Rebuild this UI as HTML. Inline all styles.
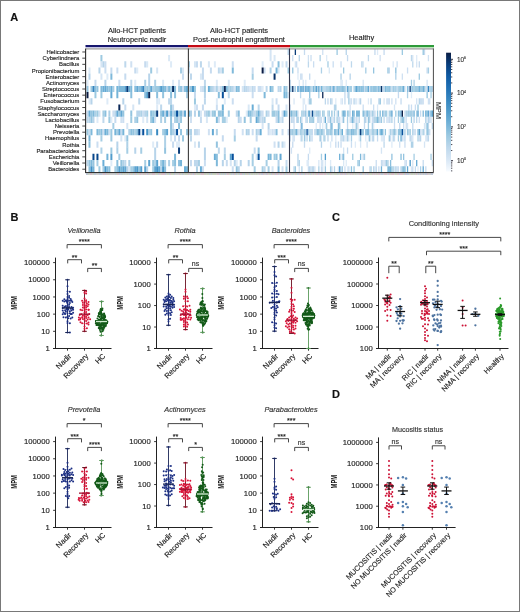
<!DOCTYPE html>
<html><head><meta charset="utf-8"><title>Figure</title>
<style>
html,body{margin:0;padding:0;background:#fff;}
body{width:520px;height:612px;overflow:hidden;}
svg{display:block;font-family:"Liberation Sans", sans-serif;will-change:transform;}
</style></head><body>
<svg width="520" height="612" viewBox="0 0 520 612">
<rect x="0" y="0" width="520" height="612" fill="#fff"/>
<text x="10.30" y="20.60" font-size="11" text-anchor="start" fill="#111" stroke="#111" stroke-width="0.15" font-weight="bold" font-style="normal" >A</text>
<text x="137.00" y="32.60" font-size="7.45" text-anchor="middle" fill="#1f1f1f" stroke="#1f1f1f" stroke-width="0.15" font-weight="normal" font-style="normal" >Allo-HCT patients</text>
<text x="137.00" y="41.60" font-size="7.45" text-anchor="middle" fill="#1f1f1f" stroke="#1f1f1f" stroke-width="0.15" font-weight="normal" font-style="normal" >Neutropenic nadir</text>
<text x="239.00" y="32.60" font-size="7.45" text-anchor="middle" fill="#1f1f1f" stroke="#1f1f1f" stroke-width="0.15" font-weight="normal" font-style="normal" >Allo-HCT patients</text>
<text x="239.00" y="41.60" font-size="7.45" text-anchor="middle" fill="#1f1f1f" stroke="#1f1f1f" stroke-width="0.15" font-weight="normal" font-style="normal" >Post-neutrophil engraftment</text>
<text x="361.60" y="39.60" font-size="7.45" text-anchor="middle" fill="#1f1f1f" stroke="#1f1f1f" stroke-width="0.15" font-weight="normal" font-style="normal" >Healthy</text>
<rect x="85.50" y="45.00" width="102.50" height="2.00" fill="#16166e"/>
<rect x="188.00" y="45.00" width="102.00" height="2.00" fill="#c40a14"/>
<rect x="290.00" y="45.00" width="144.00" height="2.00" fill="#2e9a3a"/>
<rect x="85.50" y="47.00" width="102.50" height="0.80" fill="#b8b8e0"/>
<rect x="188.00" y="47.00" width="102.00" height="0.80" fill="#f4a0a0"/>
<rect x="290.00" y="47.00" width="144.00" height="0.80" fill="#a8e0a8"/>
<path fill="#deebf7" d="M86.50 79.75h1.99v6.19h-1.99zM88.49 98.26h1.99v6.19h-1.99zM96.45 116.77h1.99v6.19h-1.99zM106.40 73.58h1.99v6.19h-1.99zM106.40 98.26h1.99v6.19h-1.99zM110.38 116.77h1.99v6.19h-1.99zM110.38 159.96h1.99v6.19h-1.99zM124.31 135.28h1.99v6.19h-1.99zM134.26 79.75h1.99v6.19h-1.99zM136.25 67.41h1.99v6.19h-1.99zM140.24 129.11h1.99v6.19h-1.99zM142.23 116.77h1.99v6.19h-1.99zM152.18 141.45h1.99v6.19h-1.99zM156.16 104.43h1.99v6.19h-1.99zM158.15 98.26h1.99v6.19h-1.99zM170.09 61.24h1.99v6.19h-1.99zM172.08 79.75h1.99v6.19h-1.99zM176.06 141.45h1.99v6.19h-1.99zM178.05 141.45h1.99v6.19h-1.99zM193.97 104.43h1.99v6.19h-1.99zM213.87 61.24h1.99v6.19h-1.99zM215.86 79.75h1.99v6.19h-1.99zM215.86 98.26h1.99v6.19h-1.99zM223.82 98.26h1.99v6.19h-1.99zM225.81 116.77h1.99v6.19h-1.99zM235.76 159.96h1.99v6.19h-1.99zM243.73 79.75h1.99v6.19h-1.99zM245.72 110.60h1.99v6.19h-1.99zM261.64 61.24h1.99v6.19h-1.99zM261.64 85.92h1.99v6.19h-1.99zM269.60 129.11h1.99v6.19h-1.99zM281.54 61.24h1.99v6.19h-1.99zM283.53 141.45h1.99v6.19h-1.99zM292.11 135.28h1.30v6.19h-1.30zM297.33 73.58h1.30v6.19h-1.30zM298.63 79.75h1.30v6.19h-1.30zM299.94 135.28h1.30v6.19h-1.30zM302.55 98.26h1.30v6.19h-1.30zM302.55 104.43h1.30v6.19h-1.30zM303.85 98.26h1.30v6.19h-1.30zM305.15 79.75h1.30v6.19h-1.30zM305.15 135.28h1.30v6.19h-1.30zM306.46 159.96h1.30v6.19h-1.30zM307.76 98.26h1.30v6.19h-1.30zM307.76 159.96h1.30v6.19h-1.30zM309.07 147.62h1.30v6.19h-1.30zM314.29 79.75h1.30v6.19h-1.30zM315.59 122.94h1.30v6.19h-1.30zM322.11 122.94h1.30v6.19h-1.30zM324.72 122.94h1.30v6.19h-1.30zM326.03 55.07h1.30v6.19h-1.30zM329.94 141.45h1.30v6.19h-1.30zM329.94 159.96h1.30v6.19h-1.30zM335.16 98.26h1.30v6.19h-1.30zM335.16 135.28h1.30v6.19h-1.30zM340.38 98.26h1.30v6.19h-1.30zM341.68 79.75h1.30v6.19h-1.30zM345.60 79.75h1.30v6.19h-1.30zM345.60 85.92h1.30v6.19h-1.30zM345.60 135.28h1.30v6.19h-1.30zM345.60 159.96h1.30v6.19h-1.30zM346.90 166.13h1.30v6.19h-1.30zM352.12 122.94h1.30v6.19h-1.30zM354.73 98.26h1.30v6.19h-1.30zM354.73 116.77h1.30v6.19h-1.30zM354.73 141.45h1.30v6.19h-1.30zM356.03 98.26h1.30v6.19h-1.30zM358.64 135.28h1.30v6.19h-1.30zM365.16 135.28h1.30v6.19h-1.30zM367.77 98.26h1.30v6.19h-1.30zM372.99 122.94h1.30v6.19h-1.30zM376.90 48.90h1.30v6.19h-1.30zM376.90 104.43h1.30v6.19h-1.30zM380.82 135.28h1.30v6.19h-1.30zM382.12 135.28h1.30v6.19h-1.30zM388.65 129.11h1.30v6.19h-1.30zM391.25 141.45h1.30v6.19h-1.30zM392.56 61.24h1.30v6.19h-1.30zM403.00 135.28h1.30v6.19h-1.30zM404.30 116.77h1.30v6.19h-1.30zM410.82 92.09h1.30v6.19h-1.30zM416.04 55.07h1.30v6.19h-1.30zM417.35 166.13h1.30v6.19h-1.30zM425.17 122.94h1.30v6.19h-1.30zM426.48 116.77h1.30v6.19h-1.30z"/>
<path fill="#d9e8f5" d="M88.49 67.41h1.99v6.19h-1.99zM128.29 166.13h1.99v6.19h-1.99zM146.21 61.24h1.99v6.19h-1.99zM156.16 98.26h1.99v6.19h-1.99zM162.13 79.75h1.99v6.19h-1.99zM168.10 55.07h1.99v6.19h-1.99zM170.09 135.28h1.99v6.19h-1.99zM182.03 67.41h1.99v6.19h-1.99zM193.97 141.45h1.99v6.19h-1.99zM199.94 73.58h1.99v6.19h-1.99zM205.91 116.77h1.99v6.19h-1.99zM207.90 61.24h1.99v6.19h-1.99zM209.89 110.60h1.99v6.19h-1.99zM217.85 85.92h1.99v6.19h-1.99zM227.80 79.75h1.99v6.19h-1.99zM247.71 104.43h1.99v6.19h-1.99zM249.70 85.92h1.99v6.19h-1.99zM255.67 153.79h1.99v6.19h-1.99zM271.59 98.26h1.99v6.19h-1.99zM273.58 55.07h1.99v6.19h-1.99zM277.56 67.41h1.99v6.19h-1.99zM279.55 116.77h1.99v6.19h-1.99zM287.51 92.09h1.99v6.19h-1.99zM293.41 98.26h1.30v6.19h-1.30zM298.63 129.11h1.30v6.19h-1.30zM314.29 166.13h1.30v6.19h-1.30zM318.20 159.96h1.30v6.19h-1.30zM328.64 67.41h1.30v6.19h-1.30zM331.25 116.77h1.30v6.19h-1.30zM342.99 159.96h1.30v6.19h-1.30zM344.29 135.28h1.30v6.19h-1.30zM357.34 116.77h1.30v6.19h-1.30zM359.95 141.45h1.30v6.19h-1.30zM367.77 135.28h1.30v6.19h-1.30zM383.43 98.26h1.30v6.19h-1.30zM386.04 98.26h1.30v6.19h-1.30zM386.04 116.77h1.30v6.19h-1.30zM389.95 116.77h1.30v6.19h-1.30zM393.86 166.13h1.30v6.19h-1.30zM425.17 135.28h1.30v6.19h-1.30z"/>
<path fill="#d5e5f4" d="M100.43 61.24h1.99v6.19h-1.99zM100.43 73.58h1.99v6.19h-1.99zM120.33 135.28h1.99v6.19h-1.99zM126.30 122.94h1.99v6.19h-1.99zM132.27 104.43h1.99v6.19h-1.99zM146.21 116.77h1.99v6.19h-1.99zM156.16 67.41h1.99v6.19h-1.99zM193.97 61.24h1.99v6.19h-1.99zM197.95 129.11h1.99v6.19h-1.99zM199.94 85.92h1.99v6.19h-1.99zM199.94 110.60h1.99v6.19h-1.99zM219.84 67.41h1.99v6.19h-1.99zM229.79 159.96h1.99v6.19h-1.99zM233.77 85.92h1.99v6.19h-1.99zM241.74 85.92h1.99v6.19h-1.99zM261.64 122.94h1.99v6.19h-1.99zM269.60 48.90h1.99v6.19h-1.99zM269.60 55.07h1.99v6.19h-1.99zM271.59 166.13h1.99v6.19h-1.99zM273.58 129.11h1.99v6.19h-1.99zM285.52 104.43h1.99v6.19h-1.99zM294.72 61.24h1.30v6.19h-1.30zM298.63 166.13h1.30v6.19h-1.30zM299.94 122.94h1.30v6.19h-1.30zM302.55 79.75h1.30v6.19h-1.30zM310.37 135.28h1.30v6.19h-1.30zM311.68 135.28h1.30v6.19h-1.30zM320.81 135.28h1.30v6.19h-1.30zM320.81 159.96h1.30v6.19h-1.30zM322.11 159.96h1.30v6.19h-1.30zM324.72 135.28h1.30v6.19h-1.30zM324.72 159.96h1.30v6.19h-1.30zM340.38 79.75h1.30v6.19h-1.30zM341.68 98.26h1.30v6.19h-1.30zM342.99 147.62h1.30v6.19h-1.30zM348.20 135.28h1.30v6.19h-1.30zM349.51 98.26h1.30v6.19h-1.30zM354.73 122.94h1.30v6.19h-1.30zM358.64 98.26h1.30v6.19h-1.30zM362.55 61.24h1.30v6.19h-1.30zM362.55 79.75h1.30v6.19h-1.30zM366.47 141.45h1.30v6.19h-1.30zM369.08 85.92h1.30v6.19h-1.30zM374.30 166.13h1.30v6.19h-1.30zM380.82 147.62h1.30v6.19h-1.30zM383.43 159.96h1.30v6.19h-1.30zM393.86 104.43h1.30v6.19h-1.30zM406.91 122.94h1.30v6.19h-1.30zM410.82 166.13h1.30v6.19h-1.30zM412.13 55.07h1.30v6.19h-1.30zM412.13 135.28h1.30v6.19h-1.30zM412.13 159.96h1.30v6.19h-1.30zM416.04 61.24h1.30v6.19h-1.30zM416.04 98.26h1.30v6.19h-1.30zM421.26 129.11h1.30v6.19h-1.30zM423.87 122.94h1.30v6.19h-1.30zM423.87 129.11h1.30v6.19h-1.30zM423.87 141.45h1.30v6.19h-1.30zM426.48 79.75h1.30v6.19h-1.30z"/>
<path fill="#d0e1f2" d="M98.44 110.60h1.99v6.19h-1.99zM102.42 129.11h1.99v6.19h-1.99zM108.39 129.11h1.99v6.19h-1.99zM120.33 116.77h1.99v6.19h-1.99zM130.28 61.24h1.99v6.19h-1.99zM154.17 116.77h1.99v6.19h-1.99zM172.08 122.94h1.99v6.19h-1.99zM178.05 79.75h1.99v6.19h-1.99zM188.00 67.41h1.99v6.19h-1.99zM189.99 116.77h1.99v6.19h-1.99zM207.90 129.11h1.99v6.19h-1.99zM213.87 85.92h1.99v6.19h-1.99zM241.74 129.11h1.99v6.19h-1.99zM263.63 67.41h1.99v6.19h-1.99zM271.59 129.11h1.99v6.19h-1.99zM273.58 141.45h1.99v6.19h-1.99zM281.54 110.60h1.99v6.19h-1.99zM281.54 166.13h1.99v6.19h-1.99zM290.80 147.62h1.30v6.19h-1.30zM293.41 122.94h1.30v6.19h-1.30zM297.33 110.60h1.30v6.19h-1.30zM299.94 73.58h1.30v6.19h-1.30zM305.15 104.43h1.30v6.19h-1.30zM307.76 55.07h1.30v6.19h-1.30zM319.50 122.94h1.30v6.19h-1.30zM322.11 48.90h1.30v6.19h-1.30zM322.11 166.13h1.30v6.19h-1.30zM323.42 116.77h1.30v6.19h-1.30zM327.33 116.77h1.30v6.19h-1.30zM328.64 116.77h1.30v6.19h-1.30zM332.55 116.77h1.30v6.19h-1.30zM337.77 166.13h1.30v6.19h-1.30zM339.07 129.11h1.30v6.19h-1.30zM341.68 116.77h1.30v6.19h-1.30zM341.68 135.28h1.30v6.19h-1.30zM346.90 92.09h1.30v6.19h-1.30zM349.51 104.43h1.30v6.19h-1.30zM350.81 98.26h1.30v6.19h-1.30zM357.34 122.94h1.30v6.19h-1.30zM369.08 166.13h1.30v6.19h-1.30zM370.38 110.60h1.30v6.19h-1.30zM379.51 55.07h1.30v6.19h-1.30zM388.65 98.26h1.30v6.19h-1.30zM391.25 98.26h1.30v6.19h-1.30zM395.17 98.26h1.30v6.19h-1.30zM396.47 61.24h1.30v6.19h-1.30zM399.08 141.45h1.30v6.19h-1.30zM401.69 73.58h1.30v6.19h-1.30zM401.69 135.28h1.30v6.19h-1.30zM403.00 122.94h1.30v6.19h-1.30zM404.30 85.92h1.30v6.19h-1.30zM404.30 159.96h1.30v6.19h-1.30zM405.60 116.77h1.30v6.19h-1.30zM410.82 135.28h1.30v6.19h-1.30zM414.74 129.11h1.30v6.19h-1.30zM418.65 116.77h1.30v6.19h-1.30zM419.95 129.11h1.30v6.19h-1.30zM427.78 55.07h1.30v6.19h-1.30zM427.78 98.26h1.30v6.19h-1.30zM429.09 98.26h1.30v6.19h-1.30zM430.39 116.77h1.30v6.19h-1.30z"/>
<path fill="#cbdef1" d="M96.45 141.45h1.99v6.19h-1.99zM104.41 61.24h1.99v6.19h-1.99zM104.41 67.41h1.99v6.19h-1.99zM112.37 110.60h1.99v6.19h-1.99zM116.35 67.41h1.99v6.19h-1.99zM118.34 79.75h1.99v6.19h-1.99zM122.32 116.77h1.99v6.19h-1.99zM142.23 110.60h1.99v6.19h-1.99zM182.03 73.58h1.99v6.19h-1.99zM182.03 85.92h1.99v6.19h-1.99zM195.96 104.43h1.99v6.19h-1.99zM201.93 85.92h1.99v6.19h-1.99zM201.93 166.13h1.99v6.19h-1.99zM203.92 159.96h1.99v6.19h-1.99zM215.86 104.43h1.99v6.19h-1.99zM217.85 116.77h1.99v6.19h-1.99zM231.78 61.24h1.99v6.19h-1.99zM231.78 98.26h1.99v6.19h-1.99zM231.78 166.13h1.99v6.19h-1.99zM239.75 116.77h1.99v6.19h-1.99zM247.71 85.92h1.99v6.19h-1.99zM251.69 92.09h1.99v6.19h-1.99zM251.69 129.11h1.99v6.19h-1.99zM253.68 85.92h1.99v6.19h-1.99zM257.66 85.92h1.99v6.19h-1.99zM259.65 85.92h1.99v6.19h-1.99zM259.65 116.77h1.99v6.19h-1.99zM261.64 110.60h1.99v6.19h-1.99zM267.61 129.11h1.99v6.19h-1.99zM275.57 98.26h1.99v6.19h-1.99zM287.51 129.11h1.99v6.19h-1.99zM292.11 55.07h1.30v6.19h-1.30zM296.02 61.24h1.30v6.19h-1.30zM297.33 67.41h1.30v6.19h-1.30zM301.24 116.77h1.30v6.19h-1.30zM305.15 116.77h1.30v6.19h-1.30zM310.37 55.07h1.30v6.19h-1.30zM312.98 61.24h1.30v6.19h-1.30zM316.90 116.77h1.30v6.19h-1.30zM319.50 85.92h1.30v6.19h-1.30zM320.81 116.77h1.30v6.19h-1.30zM331.25 135.28h1.30v6.19h-1.30zM332.55 61.24h1.30v6.19h-1.30zM335.16 85.92h1.30v6.19h-1.30zM336.46 110.60h1.30v6.19h-1.30zM337.77 116.77h1.30v6.19h-1.30zM340.38 61.24h1.30v6.19h-1.30zM340.38 141.45h1.30v6.19h-1.30zM344.29 166.13h1.30v6.19h-1.30zM348.20 166.13h1.30v6.19h-1.30zM349.51 116.77h1.30v6.19h-1.30zM350.81 141.45h1.30v6.19h-1.30zM356.03 116.77h1.30v6.19h-1.30zM362.55 104.43h1.30v6.19h-1.30zM371.69 116.77h1.30v6.19h-1.30zM372.99 104.43h1.30v6.19h-1.30zM375.60 159.96h1.30v6.19h-1.30zM378.21 166.13h1.30v6.19h-1.30zM382.12 159.96h1.30v6.19h-1.30zM387.34 116.77h1.30v6.19h-1.30zM389.95 135.28h1.30v6.19h-1.30zM393.86 122.94h1.30v6.19h-1.30zM393.86 135.28h1.30v6.19h-1.30zM397.78 166.13h1.30v6.19h-1.30zM404.30 110.60h1.30v6.19h-1.30zM404.30 141.45h1.30v6.19h-1.30zM405.60 122.94h1.30v6.19h-1.30zM406.91 67.41h1.30v6.19h-1.30zM410.82 104.43h1.30v6.19h-1.30zM414.74 104.43h1.30v6.19h-1.30zM418.65 135.28h1.30v6.19h-1.30zM419.95 98.26h1.30v6.19h-1.30zM422.56 98.26h1.30v6.19h-1.30zM429.09 110.60h1.30v6.19h-1.30zM429.09 129.11h1.30v6.19h-1.30zM431.70 159.96h1.30v6.19h-1.30z"/>
<path fill="#c6dbef" d="M86.50 110.60h1.99v6.19h-1.99zM88.49 129.11h1.99v6.19h-1.99zM94.46 79.75h1.99v6.19h-1.99zM110.38 67.41h1.99v6.19h-1.99zM114.36 116.77h1.99v6.19h-1.99zM120.33 129.11h1.99v6.19h-1.99zM124.31 73.58h1.99v6.19h-1.99zM124.31 104.43h1.99v6.19h-1.99zM134.26 67.41h1.99v6.19h-1.99zM144.22 61.24h1.99v6.19h-1.99zM156.16 141.45h1.99v6.19h-1.99zM168.10 110.60h1.99v6.19h-1.99zM172.08 104.43h1.99v6.19h-1.99zM172.08 141.45h1.99v6.19h-1.99zM174.07 135.28h1.99v6.19h-1.99zM178.05 116.77h1.99v6.19h-1.99zM178.05 135.28h1.99v6.19h-1.99zM188.00 129.11h1.99v6.19h-1.99zM189.99 159.96h1.99v6.19h-1.99zM193.97 92.09h1.99v6.19h-1.99zM195.96 61.24h1.99v6.19h-1.99zM195.96 129.11h1.99v6.19h-1.99zM199.94 116.77h1.99v6.19h-1.99zM201.93 67.41h1.99v6.19h-1.99zM201.93 73.58h1.99v6.19h-1.99zM201.93 104.43h1.99v6.19h-1.99zM203.92 110.60h1.99v6.19h-1.99zM209.89 67.41h1.99v6.19h-1.99zM219.84 85.92h1.99v6.19h-1.99zM221.83 135.28h1.99v6.19h-1.99zM225.81 159.96h1.99v6.19h-1.99zM233.77 129.11h1.99v6.19h-1.99zM251.69 67.41h1.99v6.19h-1.99zM253.68 110.60h1.99v6.19h-1.99zM253.68 147.62h1.99v6.19h-1.99zM255.67 135.28h1.99v6.19h-1.99zM257.66 129.11h1.99v6.19h-1.99zM267.61 110.60h1.99v6.19h-1.99zM271.59 61.24h1.99v6.19h-1.99zM275.57 116.77h1.99v6.19h-1.99zM277.56 104.43h1.99v6.19h-1.99zM281.54 129.11h1.99v6.19h-1.99zM285.52 61.24h1.99v6.19h-1.99zM285.52 159.96h1.99v6.19h-1.99zM289.50 104.43h1.30v6.19h-1.30zM289.50 135.28h1.30v6.19h-1.30zM292.11 116.77h1.30v6.19h-1.30zM292.11 141.45h1.30v6.19h-1.30zM293.41 116.77h1.30v6.19h-1.30zM293.41 135.28h1.30v6.19h-1.30zM296.02 116.77h1.30v6.19h-1.30zM301.24 73.58h1.30v6.19h-1.30zM303.85 48.90h1.30v6.19h-1.30zM303.85 141.45h1.30v6.19h-1.30zM307.76 153.79h1.30v6.19h-1.30zM307.76 166.13h1.30v6.19h-1.30zM309.07 73.58h1.30v6.19h-1.30zM309.07 129.11h1.30v6.19h-1.30zM310.37 166.13h1.30v6.19h-1.30zM311.68 129.11h1.30v6.19h-1.30zM314.29 110.60h1.30v6.19h-1.30zM319.50 116.77h1.30v6.19h-1.30zM320.81 166.13h1.30v6.19h-1.30zM327.33 98.26h1.30v6.19h-1.30zM331.25 85.92h1.30v6.19h-1.30zM331.25 166.13h1.30v6.19h-1.30zM335.16 141.45h1.30v6.19h-1.30zM337.77 141.45h1.30v6.19h-1.30zM339.07 116.77h1.30v6.19h-1.30zM340.38 166.13h1.30v6.19h-1.30zM344.29 92.09h1.30v6.19h-1.30zM344.29 98.26h1.30v6.19h-1.30zM346.90 55.07h1.30v6.19h-1.30zM346.90 147.62h1.30v6.19h-1.30zM349.51 110.60h1.30v6.19h-1.30zM362.55 153.79h1.30v6.19h-1.30zM363.86 85.92h1.30v6.19h-1.30zM363.86 122.94h1.30v6.19h-1.30zM369.08 129.11h1.30v6.19h-1.30zM371.69 135.28h1.30v6.19h-1.30zM372.99 116.77h1.30v6.19h-1.30zM374.30 48.90h1.30v6.19h-1.30zM374.30 110.60h1.30v6.19h-1.30zM376.90 135.28h1.30v6.19h-1.30zM379.51 116.77h1.30v6.19h-1.30zM380.82 159.96h1.30v6.19h-1.30zM383.43 48.90h1.30v6.19h-1.30zM383.43 135.28h1.30v6.19h-1.30zM384.73 159.96h1.30v6.19h-1.30zM387.34 98.26h1.30v6.19h-1.30zM388.65 116.77h1.30v6.19h-1.30zM391.25 85.92h1.30v6.19h-1.30zM391.25 129.11h1.30v6.19h-1.30zM393.86 116.77h1.30v6.19h-1.30zM396.47 166.13h1.30v6.19h-1.30zM397.78 92.09h1.30v6.19h-1.30zM399.08 122.94h1.30v6.19h-1.30zM400.39 98.26h1.30v6.19h-1.30zM405.60 159.96h1.30v6.19h-1.30zM412.13 122.94h1.30v6.19h-1.30zM412.13 166.13h1.30v6.19h-1.30zM413.43 129.11h1.30v6.19h-1.30zM414.74 166.13h1.30v6.19h-1.30zM418.65 61.24h1.30v6.19h-1.30zM419.95 110.60h1.30v6.19h-1.30zM422.56 159.96h1.30v6.19h-1.30zM423.87 48.90h1.30v6.19h-1.30zM425.17 85.92h1.30v6.19h-1.30zM425.17 166.13h1.30v6.19h-1.30zM426.48 67.41h1.30v6.19h-1.30zM426.48 135.28h1.30v6.19h-1.30zM429.09 116.77h1.30v6.19h-1.30z"/>
<path fill="#bed8ec" d="M86.50 116.77h1.99v6.19h-1.99zM86.50 159.96h1.99v6.19h-1.99zM102.42 116.77h1.99v6.19h-1.99zM124.31 61.24h1.99v6.19h-1.99zM124.31 159.96h1.99v6.19h-1.99zM130.28 79.75h1.99v6.19h-1.99zM138.25 98.26h1.99v6.19h-1.99zM160.14 104.43h1.99v6.19h-1.99zM168.10 98.26h1.99v6.19h-1.99zM170.09 98.26h1.99v6.19h-1.99zM174.07 129.11h1.99v6.19h-1.99zM182.03 110.60h1.99v6.19h-1.99zM188.00 85.92h1.99v6.19h-1.99zM189.99 73.58h1.99v6.19h-1.99zM189.99 135.28h1.99v6.19h-1.99zM193.97 129.11h1.99v6.19h-1.99zM193.97 159.96h1.99v6.19h-1.99zM195.96 159.96h1.99v6.19h-1.99zM197.95 141.45h1.99v6.19h-1.99zM199.94 61.24h1.99v6.19h-1.99zM203.92 79.75h1.99v6.19h-1.99zM203.92 98.26h1.99v6.19h-1.99zM217.85 67.41h1.99v6.19h-1.99zM217.85 147.62h1.99v6.19h-1.99zM223.82 147.62h1.99v6.19h-1.99zM227.80 92.09h1.99v6.19h-1.99zM235.76 110.60h1.99v6.19h-1.99zM245.72 85.92h1.99v6.19h-1.99zM251.69 85.92h1.99v6.19h-1.99zM257.66 104.43h1.99v6.19h-1.99zM261.64 116.77h1.99v6.19h-1.99zM263.63 166.13h1.99v6.19h-1.99zM265.62 85.92h1.99v6.19h-1.99zM271.59 104.43h1.99v6.19h-1.99zM277.56 85.92h1.99v6.19h-1.99zM281.54 116.77h1.99v6.19h-1.99zM281.54 141.45h1.99v6.19h-1.99zM287.51 48.90h1.99v6.19h-1.99zM289.50 79.75h1.30v6.19h-1.30zM290.80 116.77h1.30v6.19h-1.30zM293.41 85.92h1.30v6.19h-1.30zM297.33 129.11h1.30v6.19h-1.30zM299.94 92.09h1.30v6.19h-1.30zM302.55 129.11h1.30v6.19h-1.30zM303.85 85.92h1.30v6.19h-1.30zM303.85 110.60h1.30v6.19h-1.30zM306.46 135.28h1.30v6.19h-1.30zM307.76 61.24h1.30v6.19h-1.30zM311.68 85.92h1.30v6.19h-1.30zM311.68 166.13h1.30v6.19h-1.30zM312.98 166.13h1.30v6.19h-1.30zM318.20 116.77h1.30v6.19h-1.30zM324.72 85.92h1.30v6.19h-1.30zM324.72 98.26h1.30v6.19h-1.30zM327.33 135.28h1.30v6.19h-1.30zM331.25 98.26h1.30v6.19h-1.30zM340.38 135.28h1.30v6.19h-1.30zM342.99 135.28h1.30v6.19h-1.30zM345.60 129.11h1.30v6.19h-1.30zM346.90 122.94h1.30v6.19h-1.30zM350.81 61.24h1.30v6.19h-1.30zM358.64 116.77h1.30v6.19h-1.30zM365.16 110.60h1.30v6.19h-1.30zM367.77 55.07h1.30v6.19h-1.30zM370.38 98.26h1.30v6.19h-1.30zM370.38 129.11h1.30v6.19h-1.30zM372.99 110.60h1.30v6.19h-1.30zM372.99 135.28h1.30v6.19h-1.30zM372.99 166.13h1.30v6.19h-1.30zM375.60 166.13h1.30v6.19h-1.30zM378.21 98.26h1.30v6.19h-1.30zM382.12 85.92h1.30v6.19h-1.30zM383.43 85.92h1.30v6.19h-1.30zM383.43 116.77h1.30v6.19h-1.30zM383.43 141.45h1.30v6.19h-1.30zM388.65 67.41h1.30v6.19h-1.30zM396.47 85.92h1.30v6.19h-1.30zM403.00 129.11h1.30v6.19h-1.30zM404.30 135.28h1.30v6.19h-1.30zM408.21 104.43h1.30v6.19h-1.30zM410.82 55.07h1.30v6.19h-1.30zM412.13 61.24h1.30v6.19h-1.30zM416.04 116.77h1.30v6.19h-1.30zM421.26 98.26h1.30v6.19h-1.30zM427.78 122.94h1.30v6.19h-1.30zM427.78 135.28h1.30v6.19h-1.30zM431.70 122.94h1.30v6.19h-1.30z"/>
<path fill="#b7d4ea" d="M88.49 73.58h1.99v6.19h-1.99zM88.49 116.77h1.99v6.19h-1.99zM90.48 98.26h1.99v6.19h-1.99zM92.47 116.77h1.99v6.19h-1.99zM98.44 67.41h1.99v6.19h-1.99zM102.42 61.24h1.99v6.19h-1.99zM104.41 79.75h1.99v6.19h-1.99zM114.36 110.60h1.99v6.19h-1.99zM116.35 141.45h1.99v6.19h-1.99zM122.32 98.26h1.99v6.19h-1.99zM126.30 166.13h1.99v6.19h-1.99zM134.26 147.62h1.99v6.19h-1.99zM136.25 110.60h1.99v6.19h-1.99zM138.25 110.60h1.99v6.19h-1.99zM144.22 110.60h1.99v6.19h-1.99zM146.21 166.13h1.99v6.19h-1.99zM148.20 73.58h1.99v6.19h-1.99zM148.20 79.75h1.99v6.19h-1.99zM154.17 147.62h1.99v6.19h-1.99zM154.17 153.79h1.99v6.19h-1.99zM160.14 166.13h1.99v6.19h-1.99zM164.12 110.60h1.99v6.19h-1.99zM166.11 85.92h1.99v6.19h-1.99zM172.08 110.60h1.99v6.19h-1.99zM174.07 166.13h1.99v6.19h-1.99zM193.97 110.60h1.99v6.19h-1.99zM203.92 92.09h1.99v6.19h-1.99zM203.92 147.62h1.99v6.19h-1.99zM203.92 153.79h1.99v6.19h-1.99zM211.88 85.92h1.99v6.19h-1.99zM221.83 159.96h1.99v6.19h-1.99zM231.78 85.92h1.99v6.19h-1.99zM233.77 159.96h1.99v6.19h-1.99zM237.75 116.77h1.99v6.19h-1.99zM237.75 166.13h1.99v6.19h-1.99zM239.75 159.96h1.99v6.19h-1.99zM243.73 85.92h1.99v6.19h-1.99zM247.71 129.11h1.99v6.19h-1.99zM247.71 159.96h1.99v6.19h-1.99zM259.65 110.60h1.99v6.19h-1.99zM267.61 122.94h1.99v6.19h-1.99zM277.56 141.45h1.99v6.19h-1.99zM277.56 159.96h1.99v6.19h-1.99zM279.55 85.92h1.99v6.19h-1.99zM290.80 85.92h1.30v6.19h-1.30zM293.41 166.13h1.30v6.19h-1.30zM297.33 153.79h1.30v6.19h-1.30zM297.33 159.96h1.30v6.19h-1.30zM298.63 55.07h1.30v6.19h-1.30zM298.63 85.92h1.30v6.19h-1.30zM309.07 166.13h1.30v6.19h-1.30zM314.29 129.11h1.30v6.19h-1.30zM319.50 110.60h1.30v6.19h-1.30zM320.81 141.45h1.30v6.19h-1.30zM323.42 129.11h1.30v6.19h-1.30zM328.64 129.11h1.30v6.19h-1.30zM329.94 98.26h1.30v6.19h-1.30zM333.85 104.43h1.30v6.19h-1.30zM333.85 116.77h1.30v6.19h-1.30zM333.85 166.13h1.30v6.19h-1.30zM345.60 48.90h1.30v6.19h-1.30zM349.51 73.58h1.30v6.19h-1.30zM350.81 116.77h1.30v6.19h-1.30zM353.42 98.26h1.30v6.19h-1.30zM353.42 116.77h1.30v6.19h-1.30zM359.95 98.26h1.30v6.19h-1.30zM361.25 61.24h1.30v6.19h-1.30zM363.86 116.77h1.30v6.19h-1.30zM365.16 116.77h1.30v6.19h-1.30zM383.43 110.60h1.30v6.19h-1.30zM392.56 135.28h1.30v6.19h-1.30zM393.86 85.92h1.30v6.19h-1.30zM395.17 166.13h1.30v6.19h-1.30zM400.39 166.13h1.30v6.19h-1.30zM406.91 110.60h1.30v6.19h-1.30zM408.21 85.92h1.30v6.19h-1.30zM409.52 135.28h1.30v6.19h-1.30zM413.43 116.77h1.30v6.19h-1.30zM418.65 98.26h1.30v6.19h-1.30zM419.95 135.28h1.30v6.19h-1.30zM426.48 85.92h1.30v6.19h-1.30zM427.78 116.77h1.30v6.19h-1.30zM429.09 85.92h1.30v6.19h-1.30zM431.70 85.92h1.30v6.19h-1.30z"/>
<path fill="#aed1e7" d="M94.46 110.60h1.99v6.19h-1.99zM100.43 147.62h1.99v6.19h-1.99zM108.39 110.60h1.99v6.19h-1.99zM116.35 147.62h1.99v6.19h-1.99zM122.32 159.96h1.99v6.19h-1.99zM126.30 141.45h1.99v6.19h-1.99zM128.29 129.11h1.99v6.19h-1.99zM128.29 159.96h1.99v6.19h-1.99zM134.26 116.77h1.99v6.19h-1.99zM134.26 129.11h1.99v6.19h-1.99zM140.24 110.60h1.99v6.19h-1.99zM144.22 79.75h1.99v6.19h-1.99zM148.20 129.11h1.99v6.19h-1.99zM152.18 85.92h1.99v6.19h-1.99zM154.17 79.75h1.99v6.19h-1.99zM154.17 159.96h1.99v6.19h-1.99zM160.14 116.77h1.99v6.19h-1.99zM164.12 135.28h1.99v6.19h-1.99zM164.12 141.45h1.99v6.19h-1.99zM164.12 159.96h1.99v6.19h-1.99zM168.10 159.96h1.99v6.19h-1.99zM172.08 129.11h1.99v6.19h-1.99zM174.07 116.77h1.99v6.19h-1.99zM186.01 92.09h1.99v6.19h-1.99zM189.99 110.60h1.99v6.19h-1.99zM189.99 129.11h1.99v6.19h-1.99zM195.96 166.13h1.99v6.19h-1.99zM205.91 110.60h1.99v6.19h-1.99zM215.86 85.92h1.99v6.19h-1.99zM215.86 129.11h1.99v6.19h-1.99zM227.80 85.92h1.99v6.19h-1.99zM245.72 129.11h1.99v6.19h-1.99zM251.69 110.60h1.99v6.19h-1.99zM255.67 129.11h1.99v6.19h-1.99zM263.63 116.77h1.99v6.19h-1.99zM265.62 110.60h1.99v6.19h-1.99zM269.60 67.41h1.99v6.19h-1.99zM275.57 110.60h1.99v6.19h-1.99zM290.80 129.11h1.30v6.19h-1.30zM294.72 110.60h1.30v6.19h-1.30zM298.63 159.96h1.30v6.19h-1.30zM301.24 135.28h1.30v6.19h-1.30zM301.24 166.13h1.30v6.19h-1.30zM306.46 116.77h1.30v6.19h-1.30zM310.37 129.11h1.30v6.19h-1.30zM315.59 129.11h1.30v6.19h-1.30zM316.90 85.92h1.30v6.19h-1.30zM316.90 110.60h1.30v6.19h-1.30zM318.20 166.13h1.30v6.19h-1.30zM319.50 55.07h1.30v6.19h-1.30zM320.81 67.41h1.30v6.19h-1.30zM323.42 85.92h1.30v6.19h-1.30zM326.03 85.92h1.30v6.19h-1.30zM326.03 129.11h1.30v6.19h-1.30zM327.33 110.60h1.30v6.19h-1.30zM329.94 122.94h1.30v6.19h-1.30zM336.46 129.11h1.30v6.19h-1.30zM340.38 73.58h1.30v6.19h-1.30zM341.68 153.79h1.30v6.19h-1.30zM346.90 116.77h1.30v6.19h-1.30zM346.90 135.28h1.30v6.19h-1.30zM349.51 129.11h1.30v6.19h-1.30zM350.81 135.28h1.30v6.19h-1.30zM353.42 85.92h1.30v6.19h-1.30zM356.03 129.11h1.30v6.19h-1.30zM363.86 110.60h1.30v6.19h-1.30zM367.77 110.60h1.30v6.19h-1.30zM369.08 110.60h1.30v6.19h-1.30zM369.08 116.77h1.30v6.19h-1.30zM371.69 122.94h1.30v6.19h-1.30zM374.30 129.11h1.30v6.19h-1.30zM376.90 85.92h1.30v6.19h-1.30zM387.34 159.96h1.30v6.19h-1.30zM388.65 110.60h1.30v6.19h-1.30zM389.95 85.92h1.30v6.19h-1.30zM389.95 129.11h1.30v6.19h-1.30zM391.25 116.77h1.30v6.19h-1.30zM392.56 166.13h1.30v6.19h-1.30zM395.17 73.58h1.30v6.19h-1.30zM395.17 129.11h1.30v6.19h-1.30zM397.78 85.92h1.30v6.19h-1.30zM404.30 129.11h1.30v6.19h-1.30zM406.91 92.09h1.30v6.19h-1.30zM408.21 129.11h1.30v6.19h-1.30zM410.82 85.92h1.30v6.19h-1.30zM410.82 141.45h1.30v6.19h-1.30zM412.13 110.60h1.30v6.19h-1.30zM412.13 129.11h1.30v6.19h-1.30zM412.13 141.45h1.30v6.19h-1.30zM413.43 79.75h1.30v6.19h-1.30zM417.35 135.28h1.30v6.19h-1.30zM419.95 166.13h1.30v6.19h-1.30zM425.17 116.77h1.30v6.19h-1.30zM427.78 129.11h1.30v6.19h-1.30z"/>
<path fill="#a6cee4" d="M96.45 159.96h1.99v6.19h-1.99zM100.43 135.28h1.99v6.19h-1.99zM102.42 110.60h1.99v6.19h-1.99zM102.42 166.13h1.99v6.19h-1.99zM112.37 85.92h1.99v6.19h-1.99zM112.37 122.94h1.99v6.19h-1.99zM114.36 166.13h1.99v6.19h-1.99zM116.35 129.11h1.99v6.19h-1.99zM118.34 153.79h1.99v6.19h-1.99zM126.30 147.62h1.99v6.19h-1.99zM130.28 166.13h1.99v6.19h-1.99zM140.24 147.62h1.99v6.19h-1.99zM144.22 85.92h1.99v6.19h-1.99zM144.22 159.96h1.99v6.19h-1.99zM146.21 110.60h1.99v6.19h-1.99zM148.20 85.92h1.99v6.19h-1.99zM152.18 166.13h1.99v6.19h-1.99zM154.17 110.60h1.99v6.19h-1.99zM160.14 159.96h1.99v6.19h-1.99zM162.13 129.11h1.99v6.19h-1.99zM164.12 116.77h1.99v6.19h-1.99zM170.09 85.92h1.99v6.19h-1.99zM172.08 159.96h1.99v6.19h-1.99zM178.05 85.92h1.99v6.19h-1.99zM180.04 67.41h1.99v6.19h-1.99zM188.00 61.24h1.99v6.19h-1.99zM197.95 159.96h1.99v6.19h-1.99zM209.89 85.92h1.99v6.19h-1.99zM221.83 67.41h1.99v6.19h-1.99zM221.83 116.77h1.99v6.19h-1.99zM223.82 116.77h1.99v6.19h-1.99zM223.82 153.79h1.99v6.19h-1.99zM227.80 110.60h1.99v6.19h-1.99zM229.79 85.92h1.99v6.19h-1.99zM233.77 135.28h1.99v6.19h-1.99zM249.70 116.77h1.99v6.19h-1.99zM251.69 73.58h1.99v6.19h-1.99zM251.69 153.79h1.99v6.19h-1.99zM251.69 159.96h1.99v6.19h-1.99zM253.68 166.13h1.99v6.19h-1.99zM255.67 110.60h1.99v6.19h-1.99zM261.64 166.13h1.99v6.19h-1.99zM265.62 159.96h1.99v6.19h-1.99zM267.61 166.13h1.99v6.19h-1.99zM285.52 85.92h1.99v6.19h-1.99zM289.50 110.60h1.30v6.19h-1.30zM292.11 110.60h1.30v6.19h-1.30zM293.41 129.11h1.30v6.19h-1.30zM294.72 85.92h1.30v6.19h-1.30zM299.94 129.11h1.30v6.19h-1.30zM302.55 110.60h1.30v6.19h-1.30zM305.15 129.11h1.30v6.19h-1.30zM307.76 129.11h1.30v6.19h-1.30zM309.07 98.26h1.30v6.19h-1.30zM309.07 116.77h1.30v6.19h-1.30zM310.37 85.92h1.30v6.19h-1.30zM310.37 98.26h1.30v6.19h-1.30zM311.68 116.77h1.30v6.19h-1.30zM312.98 110.60h1.30v6.19h-1.30zM314.29 85.92h1.30v6.19h-1.30zM315.59 110.60h1.30v6.19h-1.30zM318.20 92.09h1.30v6.19h-1.30zM319.50 129.11h1.30v6.19h-1.30zM320.81 153.79h1.30v6.19h-1.30zM322.11 85.92h1.30v6.19h-1.30zM323.42 110.60h1.30v6.19h-1.30zM326.03 122.94h1.30v6.19h-1.30zM327.33 61.24h1.30v6.19h-1.30zM328.64 110.60h1.30v6.19h-1.30zM329.94 166.13h1.30v6.19h-1.30zM333.85 110.60h1.30v6.19h-1.30zM335.16 104.43h1.30v6.19h-1.30zM336.46 116.77h1.30v6.19h-1.30zM341.68 166.13h1.30v6.19h-1.30zM348.20 92.09h1.30v6.19h-1.30zM348.20 98.26h1.30v6.19h-1.30zM348.20 110.60h1.30v6.19h-1.30zM349.51 85.92h1.30v6.19h-1.30zM350.81 85.92h1.30v6.19h-1.30zM354.73 129.11h1.30v6.19h-1.30zM359.95 135.28h1.30v6.19h-1.30zM363.86 153.79h1.30v6.19h-1.30zM365.16 67.41h1.30v6.19h-1.30zM367.77 122.94h1.30v6.19h-1.30zM370.38 166.13h1.30v6.19h-1.30zM371.69 85.92h1.30v6.19h-1.30zM371.69 110.60h1.30v6.19h-1.30zM371.69 129.11h1.30v6.19h-1.30zM372.99 129.11h1.30v6.19h-1.30zM375.60 116.77h1.30v6.19h-1.30zM375.60 129.11h1.30v6.19h-1.30zM379.51 85.92h1.30v6.19h-1.30zM384.73 110.60h1.30v6.19h-1.30zM386.04 110.60h1.30v6.19h-1.30zM389.95 110.60h1.30v6.19h-1.30zM397.78 116.77h1.30v6.19h-1.30zM397.78 135.28h1.30v6.19h-1.30zM399.08 110.60h1.30v6.19h-1.30zM400.39 116.77h1.30v6.19h-1.30zM405.60 110.60h1.30v6.19h-1.30zM409.52 110.60h1.30v6.19h-1.30zM410.82 79.75h1.30v6.19h-1.30zM410.82 110.60h1.30v6.19h-1.30zM413.43 153.79h1.30v6.19h-1.30zM416.04 110.60h1.30v6.19h-1.30zM422.56 129.11h1.30v6.19h-1.30zM427.78 67.41h1.30v6.19h-1.30zM430.39 92.09h1.30v6.19h-1.30zM430.39 153.79h1.30v6.19h-1.30z"/>
<path fill="#9dcae1" d="M86.50 129.11h1.99v6.19h-1.99zM90.48 85.92h1.99v6.19h-1.99zM94.46 92.09h1.99v6.19h-1.99zM96.45 110.60h1.99v6.19h-1.99zM98.44 129.11h1.99v6.19h-1.99zM98.44 166.13h1.99v6.19h-1.99zM100.43 55.07h1.99v6.19h-1.99zM100.43 92.09h1.99v6.19h-1.99zM108.39 116.77h1.99v6.19h-1.99zM110.38 129.11h1.99v6.19h-1.99zM110.38 135.28h1.99v6.19h-1.99zM110.38 147.62h1.99v6.19h-1.99zM118.34 110.60h1.99v6.19h-1.99zM130.28 116.77h1.99v6.19h-1.99zM146.21 85.92h1.99v6.19h-1.99zM150.19 67.41h1.99v6.19h-1.99zM150.19 116.77h1.99v6.19h-1.99zM152.18 110.60h1.99v6.19h-1.99zM152.18 159.96h1.99v6.19h-1.99zM154.17 85.92h1.99v6.19h-1.99zM156.16 85.92h1.99v6.19h-1.99zM176.06 116.77h1.99v6.19h-1.99zM178.05 110.60h1.99v6.19h-1.99zM180.04 116.77h1.99v6.19h-1.99zM182.03 135.28h1.99v6.19h-1.99zM186.01 129.11h1.99v6.19h-1.99zM193.97 85.92h1.99v6.19h-1.99zM193.97 98.26h1.99v6.19h-1.99zM203.92 85.92h1.99v6.19h-1.99zM207.90 110.60h1.99v6.19h-1.99zM211.88 110.60h1.99v6.19h-1.99zM271.59 85.92h1.99v6.19h-1.99zM271.59 110.60h1.99v6.19h-1.99zM273.58 110.60h1.99v6.19h-1.99zM273.58 153.79h1.99v6.19h-1.99zM285.52 110.60h1.99v6.19h-1.99zM285.52 166.13h1.99v6.19h-1.99zM287.51 67.41h1.99v6.19h-1.99zM294.72 129.11h1.30v6.19h-1.30zM294.72 166.13h1.30v6.19h-1.30zM299.94 116.77h1.30v6.19h-1.30zM301.24 110.60h1.30v6.19h-1.30zM301.24 129.11h1.30v6.19h-1.30zM303.85 129.11h1.30v6.19h-1.30zM303.85 135.28h1.30v6.19h-1.30zM309.07 135.28h1.30v6.19h-1.30zM312.98 116.77h1.30v6.19h-1.30zM322.11 110.60h1.30v6.19h-1.30zM322.11 129.11h1.30v6.19h-1.30zM323.42 135.28h1.30v6.19h-1.30zM324.72 166.13h1.30v6.19h-1.30zM328.64 85.92h1.30v6.19h-1.30zM329.94 129.11h1.30v6.19h-1.30zM336.46 48.90h1.30v6.19h-1.30zM337.77 85.92h1.30v6.19h-1.30zM339.07 122.94h1.30v6.19h-1.30zM340.38 129.11h1.30v6.19h-1.30zM341.68 110.60h1.30v6.19h-1.30zM342.99 67.41h1.30v6.19h-1.30zM346.90 110.60h1.30v6.19h-1.30zM352.12 153.79h1.30v6.19h-1.30zM353.42 166.13h1.30v6.19h-1.30zM356.03 122.94h1.30v6.19h-1.30zM357.34 159.96h1.30v6.19h-1.30zM359.95 85.92h1.30v6.19h-1.30zM374.30 116.77h1.30v6.19h-1.30zM376.90 110.60h1.30v6.19h-1.30zM378.21 116.77h1.30v6.19h-1.30zM380.82 116.77h1.30v6.19h-1.30zM386.04 85.92h1.30v6.19h-1.30zM386.04 159.96h1.30v6.19h-1.30zM388.65 135.28h1.30v6.19h-1.30zM391.25 166.13h1.30v6.19h-1.30zM392.56 129.11h1.30v6.19h-1.30zM395.17 85.92h1.30v6.19h-1.30zM395.17 110.60h1.30v6.19h-1.30zM399.08 85.92h1.30v6.19h-1.30zM400.39 85.92h1.30v6.19h-1.30zM401.69 48.90h1.30v6.19h-1.30zM401.69 166.13h1.30v6.19h-1.30zM406.91 129.11h1.30v6.19h-1.30zM409.52 129.11h1.30v6.19h-1.30zM410.82 116.77h1.30v6.19h-1.30zM414.74 85.92h1.30v6.19h-1.30zM416.04 85.92h1.30v6.19h-1.30zM417.35 104.43h1.30v6.19h-1.30zM418.65 73.58h1.30v6.19h-1.30zM419.95 85.92h1.30v6.19h-1.30zM421.26 85.92h1.30v6.19h-1.30zM423.87 85.92h1.30v6.19h-1.30z"/>
<path fill="#94c4df" d="M86.50 85.92h1.99v6.19h-1.99zM88.49 159.96h1.99v6.19h-1.99zM90.48 110.60h1.99v6.19h-1.99zM90.48 116.77h1.99v6.19h-1.99zM92.47 159.96h1.99v6.19h-1.99zM96.45 85.92h1.99v6.19h-1.99zM108.39 85.92h1.99v6.19h-1.99zM120.33 159.96h1.99v6.19h-1.99zM122.32 110.60h1.99v6.19h-1.99zM126.30 135.28h1.99v6.19h-1.99zM130.28 110.60h1.99v6.19h-1.99zM132.27 129.11h1.99v6.19h-1.99zM132.27 166.13h1.99v6.19h-1.99zM136.25 116.77h1.99v6.19h-1.99zM138.25 166.13h1.99v6.19h-1.99zM150.19 129.11h1.99v6.19h-1.99zM160.14 110.60h1.99v6.19h-1.99zM162.13 92.09h1.99v6.19h-1.99zM164.12 147.62h1.99v6.19h-1.99zM170.09 104.43h1.99v6.19h-1.99zM170.09 116.77h1.99v6.19h-1.99zM170.09 122.94h1.99v6.19h-1.99zM170.09 129.11h1.99v6.19h-1.99zM174.07 92.09h1.99v6.19h-1.99zM174.07 110.60h1.99v6.19h-1.99zM180.04 85.92h1.99v6.19h-1.99zM180.04 129.11h1.99v6.19h-1.99zM189.99 85.92h1.99v6.19h-1.99zM197.95 110.60h1.99v6.19h-1.99zM213.87 110.60h1.99v6.19h-1.99zM215.86 141.45h1.99v6.19h-1.99zM217.85 110.60h1.99v6.19h-1.99zM219.84 110.60h1.99v6.19h-1.99zM235.76 166.13h1.99v6.19h-1.99zM243.73 116.77h1.99v6.19h-1.99zM257.66 116.77h1.99v6.19h-1.99zM275.57 153.79h1.99v6.19h-1.99zM289.50 129.11h1.30v6.19h-1.30zM292.11 67.41h1.30v6.19h-1.30zM292.11 129.11h1.30v6.19h-1.30zM293.41 110.60h1.30v6.19h-1.30zM297.33 116.77h1.30v6.19h-1.30zM309.07 92.09h1.30v6.19h-1.30zM310.37 116.77h1.30v6.19h-1.30zM318.20 110.60h1.30v6.19h-1.30zM319.50 135.28h1.30v6.19h-1.30zM320.81 129.11h1.30v6.19h-1.30zM327.33 85.92h1.30v6.19h-1.30zM329.94 116.77h1.30v6.19h-1.30zM331.25 110.60h1.30v6.19h-1.30zM333.85 85.92h1.30v6.19h-1.30zM337.77 110.60h1.30v6.19h-1.30zM339.07 85.92h1.30v6.19h-1.30zM342.99 85.92h1.30v6.19h-1.30zM342.99 116.77h1.30v6.19h-1.30zM346.90 129.11h1.30v6.19h-1.30zM348.20 85.92h1.30v6.19h-1.30zM350.81 166.13h1.30v6.19h-1.30zM358.64 129.11h1.30v6.19h-1.30zM358.64 159.96h1.30v6.19h-1.30zM362.55 129.11h1.30v6.19h-1.30zM362.55 166.13h1.30v6.19h-1.30zM365.16 85.92h1.30v6.19h-1.30zM367.77 116.77h1.30v6.19h-1.30zM369.08 135.28h1.30v6.19h-1.30zM372.99 67.41h1.30v6.19h-1.30zM372.99 85.92h1.30v6.19h-1.30zM374.30 85.92h1.30v6.19h-1.30zM375.60 85.92h1.30v6.19h-1.30zM384.73 129.11h1.30v6.19h-1.30zM387.34 67.41h1.30v6.19h-1.30zM391.25 153.79h1.30v6.19h-1.30zM392.56 85.92h1.30v6.19h-1.30zM393.86 129.11h1.30v6.19h-1.30zM397.78 129.11h1.30v6.19h-1.30zM401.69 85.92h1.30v6.19h-1.30zM401.69 116.77h1.30v6.19h-1.30zM403.00 116.77h1.30v6.19h-1.30zM403.00 153.79h1.30v6.19h-1.30zM413.43 85.92h1.30v6.19h-1.30zM422.56 48.90h1.30v6.19h-1.30zM426.48 92.09h1.30v6.19h-1.30z"/>
<path fill="#8abfdd" d="M88.49 141.45h1.99v6.19h-1.99zM88.49 166.13h1.99v6.19h-1.99zM94.46 85.92h1.99v6.19h-1.99zM100.43 129.11h1.99v6.19h-1.99zM104.41 110.60h1.99v6.19h-1.99zM108.39 166.13h1.99v6.19h-1.99zM116.35 159.96h1.99v6.19h-1.99zM116.35 166.13h1.99v6.19h-1.99zM130.28 92.09h1.99v6.19h-1.99zM130.28 129.11h1.99v6.19h-1.99zM134.26 85.92h1.99v6.19h-1.99zM136.25 129.11h1.99v6.19h-1.99zM138.25 85.92h1.99v6.19h-1.99zM144.22 92.09h1.99v6.19h-1.99zM150.19 110.60h1.99v6.19h-1.99zM156.16 92.09h1.99v6.19h-1.99zM158.15 85.92h1.99v6.19h-1.99zM164.12 129.11h1.99v6.19h-1.99zM164.12 166.13h1.99v6.19h-1.99zM170.09 92.09h1.99v6.19h-1.99zM174.07 85.92h1.99v6.19h-1.99zM174.07 159.96h1.99v6.19h-1.99zM178.05 122.94h1.99v6.19h-1.99zM178.05 159.96h1.99v6.19h-1.99zM184.02 85.92h1.99v6.19h-1.99zM215.86 153.79h1.99v6.19h-1.99zM217.85 92.09h1.99v6.19h-1.99zM221.83 85.92h1.99v6.19h-1.99zM237.75 85.92h1.99v6.19h-1.99zM237.75 110.60h1.99v6.19h-1.99zM249.70 110.60h1.99v6.19h-1.99zM257.66 147.62h1.99v6.19h-1.99zM275.57 129.11h1.99v6.19h-1.99zM277.56 61.24h1.99v6.19h-1.99zM277.56 110.60h1.99v6.19h-1.99zM277.56 116.77h1.99v6.19h-1.99zM283.53 85.92h1.99v6.19h-1.99zM285.52 92.09h1.99v6.19h-1.99zM289.50 85.92h1.30v6.19h-1.30zM305.15 110.60h1.30v6.19h-1.30zM316.90 129.11h1.30v6.19h-1.30zM327.33 129.11h1.30v6.19h-1.30zM329.94 85.92h1.30v6.19h-1.30zM331.25 129.11h1.30v6.19h-1.30zM333.85 129.11h1.30v6.19h-1.30zM337.77 122.94h1.30v6.19h-1.30zM341.68 85.92h1.30v6.19h-1.30zM342.99 153.79h1.30v6.19h-1.30zM344.29 85.92h1.30v6.19h-1.30zM348.20 129.11h1.30v6.19h-1.30zM352.12 129.11h1.30v6.19h-1.30zM353.42 129.11h1.30v6.19h-1.30zM354.73 85.92h1.30v6.19h-1.30zM365.16 129.11h1.30v6.19h-1.30zM366.47 85.92h1.30v6.19h-1.30zM379.51 98.26h1.30v6.19h-1.30zM388.65 85.92h1.30v6.19h-1.30zM389.95 159.96h1.30v6.19h-1.30zM395.17 67.41h1.30v6.19h-1.30zM397.78 110.60h1.30v6.19h-1.30zM399.08 129.11h1.30v6.19h-1.30zM400.39 153.79h1.30v6.19h-1.30zM403.00 166.13h1.30v6.19h-1.30zM406.91 85.92h1.30v6.19h-1.30zM408.21 110.60h1.30v6.19h-1.30zM412.13 85.92h1.30v6.19h-1.30zM417.35 129.11h1.30v6.19h-1.30zM430.39 85.92h1.30v6.19h-1.30z"/>
<path fill="#7fb9da" d="M90.48 129.11h1.99v6.19h-1.99zM90.48 159.96h1.99v6.19h-1.99zM92.47 110.60h1.99v6.19h-1.99zM96.45 129.11h1.99v6.19h-1.99zM100.43 85.92h1.99v6.19h-1.99zM106.40 85.92h1.99v6.19h-1.99zM106.40 129.11h1.99v6.19h-1.99zM106.40 166.13h1.99v6.19h-1.99zM110.38 73.58h1.99v6.19h-1.99zM118.34 85.92h1.99v6.19h-1.99zM120.33 85.92h1.99v6.19h-1.99zM122.32 85.92h1.99v6.19h-1.99zM130.28 85.92h1.99v6.19h-1.99zM164.12 85.92h1.99v6.19h-1.99zM168.10 85.92h1.99v6.19h-1.99zM174.07 153.79h1.99v6.19h-1.99zM180.04 110.60h1.99v6.19h-1.99zM186.01 166.13h1.99v6.19h-1.99zM188.00 110.60h1.99v6.19h-1.99zM215.86 116.77h1.99v6.19h-1.99zM215.86 159.96h1.99v6.19h-1.99zM221.83 110.60h1.99v6.19h-1.99zM225.81 85.92h1.99v6.19h-1.99zM231.78 67.41h1.99v6.19h-1.99zM235.76 85.92h1.99v6.19h-1.99zM247.71 110.60h1.99v6.19h-1.99zM263.63 92.09h1.99v6.19h-1.99zM269.60 153.79h1.99v6.19h-1.99zM277.56 166.13h1.99v6.19h-1.99zM290.80 110.60h1.30v6.19h-1.30zM296.02 110.60h1.30v6.19h-1.30zM307.76 110.60h1.30v6.19h-1.30zM309.07 85.92h1.30v6.19h-1.30zM312.98 85.92h1.30v6.19h-1.30zM318.20 129.11h1.30v6.19h-1.30zM335.16 129.11h1.30v6.19h-1.30zM340.38 85.92h1.30v6.19h-1.30zM350.81 129.11h1.30v6.19h-1.30zM353.42 110.60h1.30v6.19h-1.30zM356.03 110.60h1.30v6.19h-1.30zM357.34 110.60h1.30v6.19h-1.30zM358.64 85.92h1.30v6.19h-1.30zM358.64 110.60h1.30v6.19h-1.30zM359.95 153.79h1.30v6.19h-1.30zM362.55 85.92h1.30v6.19h-1.30zM367.77 129.11h1.30v6.19h-1.30zM376.90 116.77h1.30v6.19h-1.30zM379.51 110.60h1.30v6.19h-1.30zM384.73 85.92h1.30v6.19h-1.30zM387.34 166.13h1.30v6.19h-1.30zM388.65 166.13h1.30v6.19h-1.30zM417.35 85.92h1.30v6.19h-1.30zM422.56 110.60h1.30v6.19h-1.30zM426.48 110.60h1.30v6.19h-1.30zM426.48 122.94h1.30v6.19h-1.30zM426.48 129.11h1.30v6.19h-1.30z"/>
<path fill="#75b4d8" d="M88.49 135.28h1.99v6.19h-1.99zM92.47 166.13h1.99v6.19h-1.99zM106.40 153.79h1.99v6.19h-1.99zM114.36 129.11h1.99v6.19h-1.99zM116.35 85.92h1.99v6.19h-1.99zM116.35 92.09h1.99v6.19h-1.99zM120.33 166.13h1.99v6.19h-1.99zM122.32 129.11h1.99v6.19h-1.99zM152.18 116.77h1.99v6.19h-1.99zM162.13 85.92h1.99v6.19h-1.99zM162.13 159.96h1.99v6.19h-1.99zM180.04 159.96h1.99v6.19h-1.99zM267.61 153.79h1.99v6.19h-1.99zM269.60 85.92h1.99v6.19h-1.99zM275.57 67.41h1.99v6.19h-1.99zM283.53 92.09h1.99v6.19h-1.99zM296.02 129.11h1.30v6.19h-1.30zM299.94 85.92h1.30v6.19h-1.30zM307.76 85.92h1.30v6.19h-1.30zM320.81 85.92h1.30v6.19h-1.30zM336.46 85.92h1.30v6.19h-1.30zM342.99 110.60h1.30v6.19h-1.30zM357.34 85.92h1.30v6.19h-1.30zM361.25 129.11h1.30v6.19h-1.30zM362.55 110.60h1.30v6.19h-1.30zM370.38 85.92h1.30v6.19h-1.30zM379.51 129.11h1.30v6.19h-1.30zM380.82 166.13h1.30v6.19h-1.30zM382.12 110.60h1.30v6.19h-1.30zM382.12 129.11h1.30v6.19h-1.30zM387.34 85.92h1.30v6.19h-1.30zM389.95 166.13h1.30v6.19h-1.30zM404.30 166.13h1.30v6.19h-1.30zM413.43 110.60h1.30v6.19h-1.30z"/>
<path fill="#6aaed6" d="M88.49 110.60h1.99v6.19h-1.99zM102.42 85.92h1.99v6.19h-1.99zM102.42 159.96h1.99v6.19h-1.99zM104.41 129.11h1.99v6.19h-1.99zM110.38 85.92h1.99v6.19h-1.99zM128.29 85.92h1.99v6.19h-1.99zM140.24 85.92h1.99v6.19h-1.99zM162.13 110.60h1.99v6.19h-1.99zM170.09 110.60h1.99v6.19h-1.99zM184.02 166.13h1.99v6.19h-1.99zM186.01 85.92h1.99v6.19h-1.99zM199.94 166.13h1.99v6.19h-1.99zM207.90 85.92h1.99v6.19h-1.99zM213.87 153.79h1.99v6.19h-1.99zM221.83 104.43h1.99v6.19h-1.99zM251.69 104.43h1.99v6.19h-1.99zM257.66 110.60h1.99v6.19h-1.99zM259.65 129.11h1.99v6.19h-1.99zM306.46 85.92h1.30v6.19h-1.30zM324.72 116.77h1.30v6.19h-1.30zM331.25 122.94h1.30v6.19h-1.30zM337.77 129.11h1.30v6.19h-1.30zM339.07 153.79h1.30v6.19h-1.30zM341.68 129.11h1.30v6.19h-1.30zM352.12 116.77h1.30v6.19h-1.30zM361.25 85.92h1.30v6.19h-1.30zM366.47 110.60h1.30v6.19h-1.30zM376.90 129.11h1.30v6.19h-1.30zM378.21 85.92h1.30v6.19h-1.30zM380.82 129.11h1.30v6.19h-1.30zM400.39 129.11h1.30v6.19h-1.30zM400.39 135.28h1.30v6.19h-1.30zM403.00 85.92h1.30v6.19h-1.30zM418.65 85.92h1.30v6.19h-1.30zM425.17 110.60h1.30v6.19h-1.30zM430.39 110.60h1.30v6.19h-1.30z"/>
<path fill="#63a8d3" d="M104.41 85.92h1.99v6.19h-1.99zM110.38 92.09h1.99v6.19h-1.99zM116.35 110.60h1.99v6.19h-1.99zM118.34 129.11h1.99v6.19h-1.99zM120.33 110.60h1.99v6.19h-1.99zM124.31 166.13h1.99v6.19h-1.99zM136.25 85.92h1.99v6.19h-1.99zM150.19 85.92h1.99v6.19h-1.99zM158.15 166.13h1.99v6.19h-1.99zM184.02 110.60h1.99v6.19h-1.99zM211.88 129.11h1.99v6.19h-1.99zM255.67 116.77h1.99v6.19h-1.99zM279.55 153.79h1.99v6.19h-1.99zM301.24 122.94h1.30v6.19h-1.30zM302.55 85.92h1.30v6.19h-1.30zM309.07 110.60h1.30v6.19h-1.30zM344.29 110.60h1.30v6.19h-1.30zM346.90 85.92h1.30v6.19h-1.30zM366.47 129.11h1.30v6.19h-1.30zM367.77 85.92h1.30v6.19h-1.30zM406.91 166.13h1.30v6.19h-1.30zM416.04 159.96h1.30v6.19h-1.30zM422.56 166.13h1.30v6.19h-1.30zM427.78 110.60h1.30v6.19h-1.30z"/>
<path fill="#5ba3d0" d="M122.32 166.13h1.99v6.19h-1.99zM134.26 166.13h1.99v6.19h-1.99zM144.22 166.13h1.99v6.19h-1.99zM148.20 159.96h1.99v6.19h-1.99zM154.17 166.13h1.99v6.19h-1.99zM156.16 159.96h1.99v6.19h-1.99zM166.11 129.11h1.99v6.19h-1.99zM229.79 153.79h1.99v6.19h-1.99zM283.53 110.60h1.99v6.19h-1.99zM301.24 85.92h1.30v6.19h-1.30zM305.15 85.92h1.30v6.19h-1.30zM318.20 85.92h1.30v6.19h-1.30zM332.55 85.92h1.30v6.19h-1.30zM352.12 110.60h1.30v6.19h-1.30zM356.03 85.92h1.30v6.19h-1.30zM391.25 110.60h1.30v6.19h-1.30zM400.39 110.60h1.30v6.19h-1.30zM418.65 129.11h1.30v6.19h-1.30zM422.56 85.92h1.30v6.19h-1.30zM431.70 110.60h1.30v6.19h-1.30z"/>
<path fill="#529dcc" d="M110.38 153.79h1.99v6.19h-1.99zM118.34 166.13h1.99v6.19h-1.99zM124.31 85.92h1.99v6.19h-1.99zM140.24 166.13h1.99v6.19h-1.99zM146.21 92.09h1.99v6.19h-1.99zM160.14 85.92h1.99v6.19h-1.99zM166.11 110.60h1.99v6.19h-1.99zM324.72 153.79h1.30v6.19h-1.30zM339.07 166.13h1.30v6.19h-1.30zM417.35 110.60h1.30v6.19h-1.30z"/>
<path fill="#4a98c9" d="M104.41 166.13h1.99v6.19h-1.99zM136.25 166.13h1.99v6.19h-1.99zM146.21 129.11h1.99v6.19h-1.99zM162.13 166.13h1.99v6.19h-1.99zM191.98 85.92h1.99v6.19h-1.99zM315.59 85.92h1.30v6.19h-1.30zM409.52 159.96h1.30v6.19h-1.30z"/>
<path fill="#4191c6" d="M90.48 166.13h1.99v6.19h-1.99zM156.16 166.13h1.99v6.19h-1.99zM297.33 85.92h1.30v6.19h-1.30z"/>
<path fill="#3b8bc2" d="M156.16 129.11h1.99v6.19h-1.99z"/>
<path fill="#3585bf" d="M92.47 85.92h1.99v6.19h-1.99zM142.23 85.92h1.99v6.19h-1.99zM427.78 85.92h1.30v6.19h-1.30z"/>
<path fill="#08509b" d="M142.23 129.11h1.99v6.19h-1.99zM176.06 110.60h1.99v6.19h-1.99zM176.06 129.11h1.99v6.19h-1.99zM221.83 92.09h1.99v6.19h-1.99zM231.78 153.79h1.99v6.19h-1.99zM257.66 153.79h1.99v6.19h-1.99zM306.46 129.11h1.30v6.19h-1.30zM401.69 129.11h1.30v6.19h-1.30z"/>
<path fill="#08478b" d="M92.47 153.79h1.99v6.19h-1.99zM96.45 153.79h1.99v6.19h-1.99zM138.25 129.11h1.99v6.19h-1.99zM311.68 110.60h1.30v6.19h-1.30z"/>
<path fill="#093c79" d="M126.30 85.92h1.99v6.19h-1.99zM156.16 110.60h1.99v6.19h-1.99zM178.05 147.62h1.99v6.19h-1.99zM294.72 48.90h1.30v6.19h-1.30zM359.95 129.11h1.30v6.19h-1.30zM409.52 85.92h1.30v6.19h-1.30z"/>
<path fill="#093167" d="M172.08 85.92h1.99v6.19h-1.99zM273.58 73.58h1.99v6.19h-1.99zM292.11 85.92h1.30v6.19h-1.30zM380.82 85.92h1.30v6.19h-1.30z"/>
<path fill="#0a2756" d="M118.34 104.43h1.99v6.19h-1.99zM148.20 92.09h1.99v6.19h-1.99zM223.82 85.92h1.99v6.19h-1.99zM322.11 92.09h1.30v6.19h-1.30z"/>
<path fill="#0a1c44" d="M86.50 92.09h1.99v6.19h-1.99zM261.64 67.41h1.99v6.19h-1.99zM401.69 110.60h1.30v6.19h-1.30z"/>
<line x1="86.00" y1="48.90" x2="433.20" y2="48.90" stroke="#9a9a9a" stroke-width="1.3" />
<line x1="433.40" y1="48.30" x2="433.40" y2="172.50" stroke="#4a4a4a" stroke-width="1.0" />
<line x1="85.60" y1="48.40" x2="85.60" y2="173.00" stroke="#2a2a2a" stroke-width="1.1" />
<line x1="85.60" y1="172.60" x2="433.50" y2="172.60" stroke="#333" stroke-width="1.3" />
<line x1="188.40" y1="48.50" x2="188.40" y2="172.30" stroke="#3a3a3a" stroke-width="1.1" />
<line x1="289.50" y1="48.50" x2="289.50" y2="172.30" stroke="#333a50" stroke-width="1.1" />
<rect x="86.00" y="173.50" width="1.02" height="1.20" fill="#a0b0c9"/>
<rect x="87.00" y="173.50" width="1.02" height="1.20" fill="#a0b0c9"/>
<rect x="88.00" y="173.50" width="1.02" height="1.20" fill="#b0c0a0"/>
<rect x="89.00" y="173.50" width="1.02" height="1.20" fill="#b8b8b8"/>
<rect x="90.00" y="173.50" width="1.02" height="1.20" fill="#c9a0b0"/>
<rect x="91.00" y="173.50" width="1.02" height="1.20" fill="#c9a0b0"/>
<rect x="92.00" y="173.50" width="1.02" height="1.20" fill="#b8b8b8"/>
<rect x="93.00" y="173.50" width="1.02" height="1.20" fill="#b0c0a0"/>
<rect x="94.00" y="173.50" width="1.02" height="1.20" fill="#a0b0c9"/>
<rect x="95.00" y="173.50" width="1.02" height="1.20" fill="#a0b0c9"/>
<rect x="96.00" y="173.50" width="1.02" height="1.20" fill="#b8b8b8"/>
<rect x="97.00" y="173.50" width="1.02" height="1.20" fill="#b8b8b8"/>
<rect x="98.00" y="173.50" width="1.02" height="1.20" fill="#b8b8b8"/>
<rect x="99.00" y="173.50" width="1.02" height="1.20" fill="#a0b0c9"/>
<rect x="100.00" y="173.50" width="1.02" height="1.20" fill="#a0b0c9"/>
<rect x="101.00" y="173.50" width="1.02" height="1.20" fill="#a0b0c9"/>
<rect x="102.00" y="173.50" width="1.02" height="1.20" fill="#b8b8b8"/>
<rect x="103.00" y="173.50" width="1.02" height="1.20" fill="#c9a0b0"/>
<rect x="104.00" y="173.50" width="1.02" height="1.20" fill="#c9a0b0"/>
<rect x="105.00" y="173.50" width="1.02" height="1.20" fill="#a0b0c9"/>
<rect x="106.00" y="173.50" width="1.02" height="1.20" fill="#c9a0b0"/>
<rect x="107.00" y="173.50" width="1.02" height="1.20" fill="#b0c0a0"/>
<rect x="108.00" y="173.50" width="1.02" height="1.20" fill="#c9a0b0"/>
<rect x="109.00" y="173.50" width="1.02" height="1.20" fill="#b0c0a0"/>
<rect x="110.00" y="173.50" width="1.02" height="1.20" fill="#b8b8b8"/>
<rect x="111.00" y="173.50" width="1.02" height="1.20" fill="#b8b8b8"/>
<rect x="112.00" y="173.50" width="1.02" height="1.20" fill="#b8b8b8"/>
<rect x="113.00" y="173.50" width="1.02" height="1.20" fill="#b8b8b8"/>
<rect x="114.00" y="173.50" width="1.02" height="1.20" fill="#b8b8b8"/>
<rect x="115.00" y="173.50" width="1.02" height="1.20" fill="#a0b0c9"/>
<rect x="116.00" y="173.50" width="1.02" height="1.20" fill="#b0c0a0"/>
<rect x="117.00" y="173.50" width="1.02" height="1.20" fill="#c9a0b0"/>
<rect x="118.00" y="173.50" width="1.02" height="1.20" fill="#c9a0b0"/>
<rect x="119.00" y="173.50" width="1.02" height="1.20" fill="#a0b0c9"/>
<rect x="120.00" y="173.50" width="1.02" height="1.20" fill="#b8b8b8"/>
<rect x="121.00" y="173.50" width="1.02" height="1.20" fill="#a0b0c9"/>
<rect x="122.00" y="173.50" width="1.02" height="1.20" fill="#b0c0a0"/>
<rect x="123.00" y="173.50" width="1.02" height="1.20" fill="#b8b8b8"/>
<rect x="124.00" y="173.50" width="1.02" height="1.20" fill="#b0c0a0"/>
<rect x="125.00" y="173.50" width="1.02" height="1.20" fill="#b8b8b8"/>
<rect x="126.00" y="173.50" width="1.02" height="1.20" fill="#b8b8b8"/>
<rect x="127.00" y="173.50" width="1.02" height="1.20" fill="#b0c0a0"/>
<rect x="128.00" y="173.50" width="1.02" height="1.20" fill="#b8b8b8"/>
<rect x="129.00" y="173.50" width="1.02" height="1.20" fill="#a0b0c9"/>
<rect x="130.00" y="173.50" width="1.02" height="1.20" fill="#b0c0a0"/>
<rect x="131.00" y="173.50" width="1.02" height="1.20" fill="#c9a0b0"/>
<rect x="132.00" y="173.50" width="1.02" height="1.20" fill="#b0c0a0"/>
<rect x="133.00" y="173.50" width="1.02" height="1.20" fill="#a0b0c9"/>
<rect x="134.00" y="173.50" width="1.02" height="1.20" fill="#b0c0a0"/>
<rect x="135.00" y="173.50" width="1.02" height="1.20" fill="#c9a0b0"/>
<rect x="136.00" y="173.50" width="1.02" height="1.20" fill="#a0b0c9"/>
<rect x="137.00" y="173.50" width="1.02" height="1.20" fill="#b0c0a0"/>
<rect x="138.00" y="173.50" width="1.02" height="1.20" fill="#b0c0a0"/>
<rect x="139.00" y="173.50" width="1.02" height="1.20" fill="#c9a0b0"/>
<rect x="140.00" y="173.50" width="1.02" height="1.20" fill="#c9a0b0"/>
<rect x="141.00" y="173.50" width="1.02" height="1.20" fill="#b8b8b8"/>
<rect x="142.00" y="173.50" width="1.02" height="1.20" fill="#b8b8b8"/>
<rect x="143.00" y="173.50" width="1.02" height="1.20" fill="#c9a0b0"/>
<rect x="144.00" y="173.50" width="1.02" height="1.20" fill="#b0c0a0"/>
<rect x="145.00" y="173.50" width="1.02" height="1.20" fill="#c9a0b0"/>
<rect x="146.00" y="173.50" width="1.02" height="1.20" fill="#b8b8b8"/>
<rect x="147.00" y="173.50" width="1.02" height="1.20" fill="#a0b0c9"/>
<rect x="148.00" y="173.50" width="1.02" height="1.20" fill="#c9a0b0"/>
<rect x="149.00" y="173.50" width="1.02" height="1.20" fill="#b0c0a0"/>
<rect x="150.00" y="173.50" width="1.02" height="1.20" fill="#b8b8b8"/>
<rect x="151.00" y="173.50" width="1.02" height="1.20" fill="#b8b8b8"/>
<rect x="152.00" y="173.50" width="1.02" height="1.20" fill="#c9a0b0"/>
<rect x="153.00" y="173.50" width="1.02" height="1.20" fill="#c9a0b0"/>
<rect x="154.00" y="173.50" width="1.02" height="1.20" fill="#c9a0b0"/>
<rect x="155.00" y="173.50" width="1.02" height="1.20" fill="#b8b8b8"/>
<rect x="156.00" y="173.50" width="1.02" height="1.20" fill="#b0c0a0"/>
<rect x="157.00" y="173.50" width="1.02" height="1.20" fill="#b0c0a0"/>
<rect x="158.00" y="173.50" width="1.02" height="1.20" fill="#a0b0c9"/>
<rect x="159.00" y="173.50" width="1.02" height="1.20" fill="#c9a0b0"/>
<rect x="160.00" y="173.50" width="1.02" height="1.20" fill="#b0c0a0"/>
<rect x="161.00" y="173.50" width="1.02" height="1.20" fill="#c9a0b0"/>
<rect x="162.00" y="173.50" width="1.02" height="1.20" fill="#c9a0b0"/>
<rect x="163.00" y="173.50" width="1.02" height="1.20" fill="#c9a0b0"/>
<rect x="164.00" y="173.50" width="1.02" height="1.20" fill="#c9a0b0"/>
<rect x="165.00" y="173.50" width="1.02" height="1.20" fill="#a0b0c9"/>
<rect x="166.00" y="173.50" width="1.02" height="1.20" fill="#b8b8b8"/>
<rect x="167.00" y="173.50" width="1.02" height="1.20" fill="#b0c0a0"/>
<rect x="168.00" y="173.50" width="1.02" height="1.20" fill="#b0c0a0"/>
<rect x="169.00" y="173.50" width="1.02" height="1.20" fill="#a0b0c9"/>
<rect x="170.00" y="173.50" width="1.02" height="1.20" fill="#c9a0b0"/>
<rect x="171.00" y="173.50" width="1.02" height="1.20" fill="#b0c0a0"/>
<rect x="172.00" y="173.50" width="1.02" height="1.20" fill="#b0c0a0"/>
<rect x="173.00" y="173.50" width="1.02" height="1.20" fill="#b0c0a0"/>
<rect x="174.00" y="173.50" width="1.02" height="1.20" fill="#a0b0c9"/>
<rect x="175.00" y="173.50" width="1.02" height="1.20" fill="#b8b8b8"/>
<rect x="176.00" y="173.50" width="1.02" height="1.20" fill="#b8b8b8"/>
<rect x="177.00" y="173.50" width="1.02" height="1.20" fill="#b8b8b8"/>
<rect x="178.00" y="173.50" width="1.02" height="1.20" fill="#b8b8b8"/>
<rect x="179.00" y="173.50" width="1.02" height="1.20" fill="#c9a0b0"/>
<rect x="180.00" y="173.50" width="1.02" height="1.20" fill="#b0c0a0"/>
<rect x="181.00" y="173.50" width="1.02" height="1.20" fill="#b8b8b8"/>
<rect x="182.00" y="173.50" width="1.02" height="1.20" fill="#a0b0c9"/>
<rect x="183.00" y="173.50" width="1.02" height="1.20" fill="#b0c0a0"/>
<rect x="184.00" y="173.50" width="1.02" height="1.20" fill="#b8b8b8"/>
<rect x="185.00" y="173.50" width="1.02" height="1.20" fill="#b0c0a0"/>
<rect x="186.00" y="173.50" width="1.02" height="1.20" fill="#b0c0a0"/>
<rect x="187.00" y="173.50" width="1.02" height="1.20" fill="#b0c0a0"/>
<rect x="188.00" y="173.50" width="1.02" height="1.20" fill="#c9a0b0"/>
<rect x="189.00" y="173.50" width="1.02" height="1.20" fill="#b8b8b8"/>
<rect x="190.00" y="173.50" width="1.02" height="1.20" fill="#b0c0a0"/>
<rect x="191.00" y="173.50" width="1.02" height="1.20" fill="#c9a0b0"/>
<rect x="192.00" y="173.50" width="1.02" height="1.20" fill="#b8b8b8"/>
<rect x="193.00" y="173.50" width="1.02" height="1.20" fill="#a0b0c9"/>
<rect x="194.00" y="173.50" width="1.02" height="1.20" fill="#c9a0b0"/>
<rect x="195.00" y="173.50" width="1.02" height="1.20" fill="#b0c0a0"/>
<rect x="196.00" y="173.50" width="1.02" height="1.20" fill="#b8b8b8"/>
<rect x="197.00" y="173.50" width="1.02" height="1.20" fill="#b0c0a0"/>
<rect x="198.00" y="173.50" width="1.02" height="1.20" fill="#b0c0a0"/>
<rect x="199.00" y="173.50" width="1.02" height="1.20" fill="#b0c0a0"/>
<rect x="200.00" y="173.50" width="1.02" height="1.20" fill="#b8b8b8"/>
<rect x="201.00" y="173.50" width="1.02" height="1.20" fill="#c9a0b0"/>
<rect x="202.00" y="173.50" width="1.02" height="1.20" fill="#c9a0b0"/>
<rect x="203.00" y="173.50" width="1.02" height="1.20" fill="#c9a0b0"/>
<rect x="204.00" y="173.50" width="1.02" height="1.20" fill="#b0c0a0"/>
<rect x="205.00" y="173.50" width="1.02" height="1.20" fill="#b0c0a0"/>
<rect x="206.00" y="173.50" width="1.02" height="1.20" fill="#b8b8b8"/>
<rect x="207.00" y="173.50" width="1.02" height="1.20" fill="#b0c0a0"/>
<rect x="208.00" y="173.50" width="1.02" height="1.20" fill="#b0c0a0"/>
<rect x="209.00" y="173.50" width="1.02" height="1.20" fill="#a0b0c9"/>
<rect x="210.00" y="173.50" width="1.02" height="1.20" fill="#b0c0a0"/>
<rect x="211.00" y="173.50" width="1.02" height="1.20" fill="#a0b0c9"/>
<rect x="212.00" y="173.50" width="1.02" height="1.20" fill="#b0c0a0"/>
<rect x="213.00" y="173.50" width="1.02" height="1.20" fill="#b0c0a0"/>
<rect x="214.00" y="173.50" width="1.02" height="1.20" fill="#b0c0a0"/>
<rect x="215.00" y="173.50" width="1.02" height="1.20" fill="#b0c0a0"/>
<rect x="216.00" y="173.50" width="1.02" height="1.20" fill="#b8b8b8"/>
<rect x="217.00" y="173.50" width="1.02" height="1.20" fill="#c9a0b0"/>
<rect x="218.00" y="173.50" width="1.02" height="1.20" fill="#c9a0b0"/>
<rect x="219.00" y="173.50" width="1.02" height="1.20" fill="#a0b0c9"/>
<rect x="220.00" y="173.50" width="1.02" height="1.20" fill="#b0c0a0"/>
<rect x="221.00" y="173.50" width="1.02" height="1.20" fill="#a0b0c9"/>
<rect x="222.00" y="173.50" width="1.02" height="1.20" fill="#b0c0a0"/>
<rect x="223.00" y="173.50" width="1.02" height="1.20" fill="#a0b0c9"/>
<rect x="224.00" y="173.50" width="1.02" height="1.20" fill="#b0c0a0"/>
<rect x="225.00" y="173.50" width="1.02" height="1.20" fill="#a0b0c9"/>
<rect x="226.00" y="173.50" width="1.02" height="1.20" fill="#b8b8b8"/>
<rect x="227.00" y="173.50" width="1.02" height="1.20" fill="#c9a0b0"/>
<rect x="228.00" y="173.50" width="1.02" height="1.20" fill="#c9a0b0"/>
<rect x="229.00" y="173.50" width="1.02" height="1.20" fill="#b0c0a0"/>
<rect x="230.00" y="173.50" width="1.02" height="1.20" fill="#b0c0a0"/>
<rect x="231.00" y="173.50" width="1.02" height="1.20" fill="#a0b0c9"/>
<rect x="232.00" y="173.50" width="1.02" height="1.20" fill="#b8b8b8"/>
<rect x="233.00" y="173.50" width="1.02" height="1.20" fill="#a0b0c9"/>
<rect x="234.00" y="173.50" width="1.02" height="1.20" fill="#c9a0b0"/>
<rect x="235.00" y="173.50" width="1.02" height="1.20" fill="#b0c0a0"/>
<rect x="236.00" y="173.50" width="1.02" height="1.20" fill="#a0b0c9"/>
<rect x="237.00" y="173.50" width="1.02" height="1.20" fill="#b8b8b8"/>
<rect x="238.00" y="173.50" width="1.02" height="1.20" fill="#b0c0a0"/>
<rect x="239.00" y="173.50" width="1.02" height="1.20" fill="#a0b0c9"/>
<rect x="240.00" y="173.50" width="1.02" height="1.20" fill="#c9a0b0"/>
<rect x="241.00" y="173.50" width="1.02" height="1.20" fill="#c9a0b0"/>
<rect x="242.00" y="173.50" width="1.02" height="1.20" fill="#a0b0c9"/>
<rect x="243.00" y="173.50" width="1.02" height="1.20" fill="#b0c0a0"/>
<rect x="244.00" y="173.50" width="1.02" height="1.20" fill="#a0b0c9"/>
<rect x="245.00" y="173.50" width="1.02" height="1.20" fill="#b0c0a0"/>
<rect x="246.00" y="173.50" width="1.02" height="1.20" fill="#b0c0a0"/>
<rect x="247.00" y="173.50" width="1.02" height="1.20" fill="#c9a0b0"/>
<rect x="248.00" y="173.50" width="1.02" height="1.20" fill="#b0c0a0"/>
<rect x="249.00" y="173.50" width="1.02" height="1.20" fill="#a0b0c9"/>
<rect x="250.00" y="173.50" width="1.02" height="1.20" fill="#b8b8b8"/>
<rect x="251.00" y="173.50" width="1.02" height="1.20" fill="#b0c0a0"/>
<rect x="252.00" y="173.50" width="1.02" height="1.20" fill="#b0c0a0"/>
<rect x="253.00" y="173.50" width="1.02" height="1.20" fill="#b8b8b8"/>
<rect x="254.00" y="173.50" width="1.02" height="1.20" fill="#b0c0a0"/>
<rect x="255.00" y="173.50" width="1.02" height="1.20" fill="#b8b8b8"/>
<rect x="256.00" y="173.50" width="1.02" height="1.20" fill="#b0c0a0"/>
<rect x="257.00" y="173.50" width="1.02" height="1.20" fill="#b8b8b8"/>
<rect x="258.00" y="173.50" width="1.02" height="1.20" fill="#b8b8b8"/>
<rect x="259.00" y="173.50" width="1.02" height="1.20" fill="#c9a0b0"/>
<rect x="260.00" y="173.50" width="1.02" height="1.20" fill="#b8b8b8"/>
<rect x="261.00" y="173.50" width="1.02" height="1.20" fill="#a0b0c9"/>
<rect x="262.00" y="173.50" width="1.02" height="1.20" fill="#a0b0c9"/>
<rect x="263.00" y="173.50" width="1.02" height="1.20" fill="#c9a0b0"/>
<rect x="264.00" y="173.50" width="1.02" height="1.20" fill="#b8b8b8"/>
<rect x="265.00" y="173.50" width="1.02" height="1.20" fill="#b8b8b8"/>
<rect x="266.00" y="173.50" width="1.02" height="1.20" fill="#a0b0c9"/>
<rect x="267.00" y="173.50" width="1.02" height="1.20" fill="#c9a0b0"/>
<rect x="268.00" y="173.50" width="1.02" height="1.20" fill="#b8b8b8"/>
<rect x="269.00" y="173.50" width="1.02" height="1.20" fill="#b0c0a0"/>
<rect x="270.00" y="173.50" width="1.02" height="1.20" fill="#b0c0a0"/>
<rect x="271.00" y="173.50" width="1.02" height="1.20" fill="#a0b0c9"/>
<rect x="272.00" y="173.50" width="1.02" height="1.20" fill="#c9a0b0"/>
<rect x="273.00" y="173.50" width="1.02" height="1.20" fill="#b0c0a0"/>
<rect x="274.00" y="173.50" width="1.02" height="1.20" fill="#c9a0b0"/>
<rect x="275.00" y="173.50" width="1.02" height="1.20" fill="#a0b0c9"/>
<rect x="276.00" y="173.50" width="1.02" height="1.20" fill="#c9a0b0"/>
<rect x="277.00" y="173.50" width="1.02" height="1.20" fill="#c9a0b0"/>
<rect x="278.00" y="173.50" width="1.02" height="1.20" fill="#a0b0c9"/>
<rect x="279.00" y="173.50" width="1.02" height="1.20" fill="#b8b8b8"/>
<rect x="280.00" y="173.50" width="1.02" height="1.20" fill="#c9a0b0"/>
<rect x="281.00" y="173.50" width="1.02" height="1.20" fill="#c9a0b0"/>
<rect x="282.00" y="173.50" width="1.02" height="1.20" fill="#b8b8b8"/>
<rect x="283.00" y="173.50" width="1.02" height="1.20" fill="#c9a0b0"/>
<rect x="284.00" y="173.50" width="1.02" height="1.20" fill="#a0b0c9"/>
<rect x="285.00" y="173.50" width="1.02" height="1.20" fill="#b0c0a0"/>
<rect x="286.00" y="173.50" width="1.02" height="1.20" fill="#a0b0c9"/>
<rect x="287.00" y="173.50" width="1.02" height="1.20" fill="#c9a0b0"/>
<rect x="288.00" y="173.50" width="1.02" height="1.20" fill="#b8b8b8"/>
<rect x="289.00" y="173.50" width="1.02" height="1.20" fill="#c9a0b0"/>
<rect x="290.00" y="173.50" width="1.02" height="1.20" fill="#c9a0b0"/>
<rect x="291.00" y="173.50" width="1.02" height="1.20" fill="#b0c0a0"/>
<rect x="292.00" y="173.50" width="1.02" height="1.20" fill="#a0b0c9"/>
<rect x="293.00" y="173.50" width="1.02" height="1.20" fill="#b0c0a0"/>
<rect x="294.00" y="173.50" width="1.02" height="1.20" fill="#b8b8b8"/>
<rect x="295.00" y="173.50" width="1.02" height="1.20" fill="#c9a0b0"/>
<rect x="296.00" y="173.50" width="1.02" height="1.20" fill="#b0c0a0"/>
<rect x="297.00" y="173.50" width="1.02" height="1.20" fill="#a0b0c9"/>
<rect x="298.00" y="173.50" width="1.02" height="1.20" fill="#a0b0c9"/>
<rect x="299.00" y="173.50" width="1.02" height="1.20" fill="#c9a0b0"/>
<rect x="300.00" y="173.50" width="1.02" height="1.20" fill="#c9a0b0"/>
<rect x="301.00" y="173.50" width="1.02" height="1.20" fill="#a0b0c9"/>
<rect x="302.00" y="173.50" width="1.02" height="1.20" fill="#a0b0c9"/>
<rect x="303.00" y="173.50" width="1.02" height="1.20" fill="#b0c0a0"/>
<rect x="304.00" y="173.50" width="1.02" height="1.20" fill="#a0b0c9"/>
<rect x="305.00" y="173.50" width="1.02" height="1.20" fill="#c9a0b0"/>
<rect x="306.00" y="173.50" width="1.02" height="1.20" fill="#b8b8b8"/>
<rect x="307.00" y="173.50" width="1.02" height="1.20" fill="#b8b8b8"/>
<rect x="308.00" y="173.50" width="1.02" height="1.20" fill="#c9a0b0"/>
<rect x="309.00" y="173.50" width="1.02" height="1.20" fill="#b0c0a0"/>
<rect x="310.00" y="173.50" width="1.02" height="1.20" fill="#a0b0c9"/>
<rect x="311.00" y="173.50" width="1.02" height="1.20" fill="#b0c0a0"/>
<rect x="312.00" y="173.50" width="1.02" height="1.20" fill="#b8b8b8"/>
<rect x="313.00" y="173.50" width="1.02" height="1.20" fill="#c9a0b0"/>
<rect x="314.00" y="173.50" width="1.02" height="1.20" fill="#b8b8b8"/>
<rect x="315.00" y="173.50" width="1.02" height="1.20" fill="#b0c0a0"/>
<rect x="316.00" y="173.50" width="1.02" height="1.20" fill="#c9a0b0"/>
<rect x="317.00" y="173.50" width="1.02" height="1.20" fill="#c9a0b0"/>
<rect x="318.00" y="173.50" width="1.02" height="1.20" fill="#a0b0c9"/>
<rect x="319.00" y="173.50" width="1.02" height="1.20" fill="#c9a0b0"/>
<rect x="320.00" y="173.50" width="1.02" height="1.20" fill="#c9a0b0"/>
<rect x="321.00" y="173.50" width="1.02" height="1.20" fill="#c9a0b0"/>
<rect x="322.00" y="173.50" width="1.02" height="1.20" fill="#c9a0b0"/>
<rect x="323.00" y="173.50" width="1.02" height="1.20" fill="#b8b8b8"/>
<rect x="324.00" y="173.50" width="1.02" height="1.20" fill="#c9a0b0"/>
<rect x="325.00" y="173.50" width="1.02" height="1.20" fill="#c9a0b0"/>
<rect x="326.00" y="173.50" width="1.02" height="1.20" fill="#b8b8b8"/>
<rect x="327.00" y="173.50" width="1.02" height="1.20" fill="#b0c0a0"/>
<rect x="328.00" y="173.50" width="1.02" height="1.20" fill="#a0b0c9"/>
<rect x="329.00" y="173.50" width="1.02" height="1.20" fill="#b0c0a0"/>
<rect x="330.00" y="173.50" width="1.02" height="1.20" fill="#c9a0b0"/>
<rect x="331.00" y="173.50" width="1.02" height="1.20" fill="#b0c0a0"/>
<rect x="332.00" y="173.50" width="1.02" height="1.20" fill="#b8b8b8"/>
<rect x="333.00" y="173.50" width="1.02" height="1.20" fill="#b8b8b8"/>
<rect x="334.00" y="173.50" width="1.02" height="1.20" fill="#b0c0a0"/>
<rect x="335.00" y="173.50" width="1.02" height="1.20" fill="#b0c0a0"/>
<rect x="336.00" y="173.50" width="1.02" height="1.20" fill="#b0c0a0"/>
<rect x="337.00" y="173.50" width="1.02" height="1.20" fill="#a0b0c9"/>
<rect x="338.00" y="173.50" width="1.02" height="1.20" fill="#b0c0a0"/>
<rect x="339.00" y="173.50" width="1.02" height="1.20" fill="#b8b8b8"/>
<rect x="340.00" y="173.50" width="1.02" height="1.20" fill="#c9a0b0"/>
<rect x="341.00" y="173.50" width="1.02" height="1.20" fill="#a0b0c9"/>
<rect x="342.00" y="173.50" width="1.02" height="1.20" fill="#c9a0b0"/>
<rect x="343.00" y="173.50" width="1.02" height="1.20" fill="#b8b8b8"/>
<rect x="344.00" y="173.50" width="1.02" height="1.20" fill="#c9a0b0"/>
<rect x="345.00" y="173.50" width="1.02" height="1.20" fill="#a0b0c9"/>
<rect x="346.00" y="173.50" width="1.02" height="1.20" fill="#c9a0b0"/>
<rect x="347.00" y="173.50" width="1.02" height="1.20" fill="#b0c0a0"/>
<rect x="348.00" y="173.50" width="1.02" height="1.20" fill="#b8b8b8"/>
<rect x="349.00" y="173.50" width="1.02" height="1.20" fill="#b8b8b8"/>
<rect x="350.00" y="173.50" width="1.02" height="1.20" fill="#c9a0b0"/>
<rect x="351.00" y="173.50" width="1.02" height="1.20" fill="#b8b8b8"/>
<rect x="352.00" y="173.50" width="1.02" height="1.20" fill="#c9a0b0"/>
<rect x="353.00" y="173.50" width="1.02" height="1.20" fill="#b0c0a0"/>
<rect x="354.00" y="173.50" width="1.02" height="1.20" fill="#b8b8b8"/>
<rect x="355.00" y="173.50" width="1.02" height="1.20" fill="#b0c0a0"/>
<rect x="356.00" y="173.50" width="1.02" height="1.20" fill="#b8b8b8"/>
<rect x="357.00" y="173.50" width="1.02" height="1.20" fill="#b8b8b8"/>
<rect x="358.00" y="173.50" width="1.02" height="1.20" fill="#b8b8b8"/>
<rect x="359.00" y="173.50" width="1.02" height="1.20" fill="#c9a0b0"/>
<rect x="360.00" y="173.50" width="1.02" height="1.20" fill="#a0b0c9"/>
<rect x="361.00" y="173.50" width="1.02" height="1.20" fill="#a0b0c9"/>
<rect x="362.00" y="173.50" width="1.02" height="1.20" fill="#b0c0a0"/>
<rect x="363.00" y="173.50" width="1.02" height="1.20" fill="#c9a0b0"/>
<rect x="364.00" y="173.50" width="1.02" height="1.20" fill="#b8b8b8"/>
<rect x="365.00" y="173.50" width="1.02" height="1.20" fill="#a0b0c9"/>
<rect x="366.00" y="173.50" width="1.02" height="1.20" fill="#b8b8b8"/>
<rect x="367.00" y="173.50" width="1.02" height="1.20" fill="#a0b0c9"/>
<rect x="368.00" y="173.50" width="1.02" height="1.20" fill="#c9a0b0"/>
<rect x="369.00" y="173.50" width="1.02" height="1.20" fill="#b0c0a0"/>
<rect x="370.00" y="173.50" width="1.02" height="1.20" fill="#b0c0a0"/>
<rect x="371.00" y="173.50" width="1.02" height="1.20" fill="#b0c0a0"/>
<rect x="372.00" y="173.50" width="1.02" height="1.20" fill="#c9a0b0"/>
<rect x="373.00" y="173.50" width="1.02" height="1.20" fill="#b8b8b8"/>
<rect x="374.00" y="173.50" width="1.02" height="1.20" fill="#c9a0b0"/>
<rect x="375.00" y="173.50" width="1.02" height="1.20" fill="#b8b8b8"/>
<rect x="376.00" y="173.50" width="1.02" height="1.20" fill="#c9a0b0"/>
<rect x="377.00" y="173.50" width="1.02" height="1.20" fill="#b0c0a0"/>
<rect x="378.00" y="173.50" width="1.02" height="1.20" fill="#c9a0b0"/>
<rect x="379.00" y="173.50" width="1.02" height="1.20" fill="#c9a0b0"/>
<rect x="380.00" y="173.50" width="1.02" height="1.20" fill="#b8b8b8"/>
<rect x="381.00" y="173.50" width="1.02" height="1.20" fill="#a0b0c9"/>
<rect x="382.00" y="173.50" width="1.02" height="1.20" fill="#a0b0c9"/>
<rect x="383.00" y="173.50" width="1.02" height="1.20" fill="#b8b8b8"/>
<rect x="384.00" y="173.50" width="1.02" height="1.20" fill="#c9a0b0"/>
<rect x="385.00" y="173.50" width="1.02" height="1.20" fill="#c9a0b0"/>
<rect x="386.00" y="173.50" width="1.02" height="1.20" fill="#c9a0b0"/>
<rect x="387.00" y="173.50" width="1.02" height="1.20" fill="#b8b8b8"/>
<rect x="388.00" y="173.50" width="1.02" height="1.20" fill="#a0b0c9"/>
<rect x="389.00" y="173.50" width="1.02" height="1.20" fill="#c9a0b0"/>
<rect x="390.00" y="173.50" width="1.02" height="1.20" fill="#b0c0a0"/>
<rect x="391.00" y="173.50" width="1.02" height="1.20" fill="#c9a0b0"/>
<rect x="392.00" y="173.50" width="1.02" height="1.20" fill="#c9a0b0"/>
<rect x="393.00" y="173.50" width="1.02" height="1.20" fill="#c9a0b0"/>
<rect x="394.00" y="173.50" width="1.02" height="1.20" fill="#b8b8b8"/>
<rect x="395.00" y="173.50" width="1.02" height="1.20" fill="#b0c0a0"/>
<rect x="396.00" y="173.50" width="1.02" height="1.20" fill="#b0c0a0"/>
<rect x="397.00" y="173.50" width="1.02" height="1.20" fill="#c9a0b0"/>
<rect x="398.00" y="173.50" width="1.02" height="1.20" fill="#c9a0b0"/>
<rect x="399.00" y="173.50" width="1.02" height="1.20" fill="#a0b0c9"/>
<rect x="400.00" y="173.50" width="1.02" height="1.20" fill="#c9a0b0"/>
<rect x="401.00" y="173.50" width="1.02" height="1.20" fill="#c9a0b0"/>
<rect x="402.00" y="173.50" width="1.02" height="1.20" fill="#c9a0b0"/>
<rect x="403.00" y="173.50" width="1.02" height="1.20" fill="#b0c0a0"/>
<rect x="404.00" y="173.50" width="1.02" height="1.20" fill="#a0b0c9"/>
<rect x="405.00" y="173.50" width="1.02" height="1.20" fill="#c9a0b0"/>
<rect x="406.00" y="173.50" width="1.02" height="1.20" fill="#a0b0c9"/>
<rect x="407.00" y="173.50" width="1.02" height="1.20" fill="#a0b0c9"/>
<rect x="408.00" y="173.50" width="1.02" height="1.20" fill="#a0b0c9"/>
<rect x="409.00" y="173.50" width="1.02" height="1.20" fill="#b8b8b8"/>
<rect x="410.00" y="173.50" width="1.02" height="1.20" fill="#b8b8b8"/>
<rect x="411.00" y="173.50" width="1.02" height="1.20" fill="#b0c0a0"/>
<rect x="412.00" y="173.50" width="1.02" height="1.20" fill="#b0c0a0"/>
<rect x="413.00" y="173.50" width="1.02" height="1.20" fill="#b8b8b8"/>
<rect x="414.00" y="173.50" width="1.02" height="1.20" fill="#b0c0a0"/>
<rect x="415.00" y="173.50" width="1.02" height="1.20" fill="#b8b8b8"/>
<rect x="416.00" y="173.50" width="1.02" height="1.20" fill="#c9a0b0"/>
<rect x="417.00" y="173.50" width="1.02" height="1.20" fill="#b8b8b8"/>
<rect x="418.00" y="173.50" width="1.02" height="1.20" fill="#a0b0c9"/>
<rect x="419.00" y="173.50" width="1.02" height="1.20" fill="#b8b8b8"/>
<rect x="420.00" y="173.50" width="1.02" height="1.20" fill="#a0b0c9"/>
<rect x="421.00" y="173.50" width="1.02" height="1.20" fill="#b8b8b8"/>
<rect x="422.00" y="173.50" width="1.02" height="1.20" fill="#b8b8b8"/>
<rect x="423.00" y="173.50" width="1.02" height="1.20" fill="#a0b0c9"/>
<rect x="424.00" y="173.50" width="1.02" height="1.20" fill="#b8b8b8"/>
<rect x="425.00" y="173.50" width="1.02" height="1.20" fill="#a0b0c9"/>
<rect x="426.00" y="173.50" width="1.02" height="1.20" fill="#a0b0c9"/>
<rect x="427.00" y="173.50" width="1.02" height="1.20" fill="#c9a0b0"/>
<rect x="428.00" y="173.50" width="1.02" height="1.20" fill="#b8b8b8"/>
<rect x="429.00" y="173.50" width="1.02" height="1.20" fill="#b8b8b8"/>
<rect x="430.00" y="173.50" width="1.02" height="1.20" fill="#b8b8b8"/>
<rect x="431.00" y="173.50" width="1.02" height="1.20" fill="#a0b0c9"/>
<rect x="432.00" y="173.50" width="1.02" height="1.20" fill="#a0b0c9"/>
<text x="79.30" y="54.09" font-size="5.9" text-anchor="end" fill="#262626" stroke="#262626" stroke-width="0.15" font-weight="normal" font-style="normal" >Helicobacter</text>
<line x1="82.30" y1="51.98" x2="85.60" y2="51.98" stroke="#333" stroke-width="0.9" />
<text x="79.30" y="60.26" font-size="5.9" text-anchor="end" fill="#262626" stroke="#262626" stroke-width="0.15" font-weight="normal" font-style="normal" >Cyberlindnera</text>
<line x1="82.30" y1="58.16" x2="85.60" y2="58.16" stroke="#333" stroke-width="0.9" />
<text x="79.30" y="66.42" font-size="5.9" text-anchor="end" fill="#262626" stroke="#262626" stroke-width="0.15" font-weight="normal" font-style="normal" >Bacillus</text>
<line x1="82.30" y1="64.33" x2="85.60" y2="64.33" stroke="#333" stroke-width="0.9" />
<text x="79.30" y="72.59" font-size="5.9" text-anchor="end" fill="#262626" stroke="#262626" stroke-width="0.15" font-weight="normal" font-style="normal" >Propionibacterium</text>
<line x1="82.30" y1="70.50" x2="85.60" y2="70.50" stroke="#333" stroke-width="0.9" />
<text x="79.30" y="78.76" font-size="5.9" text-anchor="end" fill="#262626" stroke="#262626" stroke-width="0.15" font-weight="normal" font-style="normal" >Enterobacter</text>
<line x1="82.30" y1="76.66" x2="85.60" y2="76.66" stroke="#333" stroke-width="0.9" />
<text x="79.30" y="84.94" font-size="5.9" text-anchor="end" fill="#262626" stroke="#262626" stroke-width="0.15" font-weight="normal" font-style="normal" >Actinomyces</text>
<line x1="82.30" y1="82.84" x2="85.60" y2="82.84" stroke="#333" stroke-width="0.9" />
<text x="79.30" y="91.10" font-size="5.9" text-anchor="end" fill="#262626" stroke="#262626" stroke-width="0.15" font-weight="normal" font-style="normal" >Streptococcus</text>
<line x1="82.30" y1="89.00" x2="85.60" y2="89.00" stroke="#333" stroke-width="0.9" />
<text x="79.30" y="97.27" font-size="5.9" text-anchor="end" fill="#262626" stroke="#262626" stroke-width="0.15" font-weight="normal" font-style="normal" >Enterococcus</text>
<line x1="82.30" y1="95.17" x2="85.60" y2="95.17" stroke="#333" stroke-width="0.9" />
<text x="79.30" y="103.44" font-size="5.9" text-anchor="end" fill="#262626" stroke="#262626" stroke-width="0.15" font-weight="normal" font-style="normal" >Fusobacterium</text>
<line x1="82.30" y1="101.34" x2="85.60" y2="101.34" stroke="#333" stroke-width="0.9" />
<text x="79.30" y="109.61" font-size="5.9" text-anchor="end" fill="#262626" stroke="#262626" stroke-width="0.15" font-weight="normal" font-style="normal" >Staphylococcus</text>
<line x1="82.30" y1="107.52" x2="85.60" y2="107.52" stroke="#333" stroke-width="0.9" />
<text x="79.30" y="115.78" font-size="5.9" text-anchor="end" fill="#262626" stroke="#262626" stroke-width="0.15" font-weight="normal" font-style="normal" >Saccharomyces</text>
<line x1="82.30" y1="113.69" x2="85.60" y2="113.69" stroke="#333" stroke-width="0.9" />
<text x="79.30" y="121.95" font-size="5.9" text-anchor="end" fill="#262626" stroke="#262626" stroke-width="0.15" font-weight="normal" font-style="normal" >Lactobacillus</text>
<line x1="82.30" y1="119.85" x2="85.60" y2="119.85" stroke="#333" stroke-width="0.9" />
<text x="79.30" y="128.12" font-size="5.9" text-anchor="end" fill="#262626" stroke="#262626" stroke-width="0.15" font-weight="normal" font-style="normal" >Neisseria</text>
<line x1="82.30" y1="126.03" x2="85.60" y2="126.03" stroke="#333" stroke-width="0.9" />
<text x="79.30" y="134.29" font-size="5.9" text-anchor="end" fill="#262626" stroke="#262626" stroke-width="0.15" font-weight="normal" font-style="normal" >Prevotella</text>
<line x1="82.30" y1="132.19" x2="85.60" y2="132.19" stroke="#333" stroke-width="0.9" />
<text x="79.30" y="140.47" font-size="5.9" text-anchor="end" fill="#262626" stroke="#262626" stroke-width="0.15" font-weight="normal" font-style="normal" >Haemophilus</text>
<line x1="82.30" y1="138.37" x2="85.60" y2="138.37" stroke="#333" stroke-width="0.9" />
<text x="79.30" y="146.63" font-size="5.9" text-anchor="end" fill="#262626" stroke="#262626" stroke-width="0.15" font-weight="normal" font-style="normal" >Rothia</text>
<line x1="82.30" y1="144.53" x2="85.60" y2="144.53" stroke="#333" stroke-width="0.9" />
<text x="79.30" y="152.80" font-size="5.9" text-anchor="end" fill="#262626" stroke="#262626" stroke-width="0.15" font-weight="normal" font-style="normal" >Parabacteroides</text>
<line x1="82.30" y1="150.70" x2="85.60" y2="150.70" stroke="#333" stroke-width="0.9" />
<text x="79.30" y="158.97" font-size="5.9" text-anchor="end" fill="#262626" stroke="#262626" stroke-width="0.15" font-weight="normal" font-style="normal" >Escherichia</text>
<line x1="82.30" y1="156.88" x2="85.60" y2="156.88" stroke="#333" stroke-width="0.9" />
<text x="79.30" y="165.14" font-size="5.9" text-anchor="end" fill="#262626" stroke="#262626" stroke-width="0.15" font-weight="normal" font-style="normal" >Veillonella</text>
<line x1="82.30" y1="163.04" x2="85.60" y2="163.04" stroke="#333" stroke-width="0.9" />
<text x="79.30" y="171.31" font-size="5.9" text-anchor="end" fill="#262626" stroke="#262626" stroke-width="0.15" font-weight="normal" font-style="normal" >Bacteroides</text>
<line x1="82.30" y1="169.22" x2="85.60" y2="169.22" stroke="#333" stroke-width="0.9" />
<defs><linearGradient id="cb" x1="0" y1="1" x2="0" y2="0">
<stop offset="0.00" stop-color="#f7fbff"/>
<stop offset="0.10" stop-color="#d8e7f5"/>
<stop offset="0.20" stop-color="#bed8ec"/>
<stop offset="0.30" stop-color="#9cc9e1"/>
<stop offset="0.40" stop-color="#74b3d8"/>
<stop offset="0.50" stop-color="#529dcc"/>
<stop offset="0.60" stop-color="#3787c0"/>
<stop offset="0.70" stop-color="#2070b4"/>
<stop offset="0.80" stop-color="#0f5aa3"/>
<stop offset="0.90" stop-color="#093e7d"/>
<stop offset="1.00" stop-color="#0a1c44"/>
</linearGradient></defs>
<rect x="446.10" y="52.70" width="4.90" height="118.80" fill="url(#cb)"/>
<line x1="451.00" y1="59.30" x2="453.00" y2="59.30" stroke="#1a1a2a" stroke-width="0.9" />
<line x1="451.00" y1="82.93" x2="452.30" y2="82.93" stroke="#1a1a2a" stroke-width="0.8" />
<line x1="451.00" y1="76.97" x2="452.30" y2="76.97" stroke="#1a1a2a" stroke-width="0.8" />
<line x1="451.00" y1="72.75" x2="452.30" y2="72.75" stroke="#1a1a2a" stroke-width="0.8" />
<line x1="451.00" y1="69.47" x2="452.30" y2="69.47" stroke="#1a1a2a" stroke-width="0.8" />
<line x1="451.00" y1="66.80" x2="452.30" y2="66.80" stroke="#1a1a2a" stroke-width="0.8" />
<line x1="451.00" y1="64.54" x2="452.30" y2="64.54" stroke="#1a1a2a" stroke-width="0.8" />
<line x1="451.00" y1="62.58" x2="452.30" y2="62.58" stroke="#1a1a2a" stroke-width="0.8" />
<line x1="451.00" y1="60.85" x2="452.30" y2="60.85" stroke="#1a1a2a" stroke-width="0.8" />
<line x1="451.00" y1="93.10" x2="453.00" y2="93.10" stroke="#1a1a2a" stroke-width="0.9" />
<line x1="451.00" y1="116.73" x2="452.30" y2="116.73" stroke="#1a1a2a" stroke-width="0.8" />
<line x1="451.00" y1="110.77" x2="452.30" y2="110.77" stroke="#1a1a2a" stroke-width="0.8" />
<line x1="451.00" y1="106.55" x2="452.30" y2="106.55" stroke="#1a1a2a" stroke-width="0.8" />
<line x1="451.00" y1="103.27" x2="452.30" y2="103.27" stroke="#1a1a2a" stroke-width="0.8" />
<line x1="451.00" y1="100.60" x2="452.30" y2="100.60" stroke="#1a1a2a" stroke-width="0.8" />
<line x1="451.00" y1="98.34" x2="452.30" y2="98.34" stroke="#1a1a2a" stroke-width="0.8" />
<line x1="451.00" y1="96.38" x2="452.30" y2="96.38" stroke="#1a1a2a" stroke-width="0.8" />
<line x1="451.00" y1="94.65" x2="452.30" y2="94.65" stroke="#1a1a2a" stroke-width="0.8" />
<line x1="451.00" y1="126.90" x2="453.00" y2="126.90" stroke="#1a1a2a" stroke-width="0.9" />
<line x1="451.00" y1="150.53" x2="452.30" y2="150.53" stroke="#1a1a2a" stroke-width="0.8" />
<line x1="451.00" y1="144.57" x2="452.30" y2="144.57" stroke="#1a1a2a" stroke-width="0.8" />
<line x1="451.00" y1="140.35" x2="452.30" y2="140.35" stroke="#1a1a2a" stroke-width="0.8" />
<line x1="451.00" y1="137.07" x2="452.30" y2="137.07" stroke="#1a1a2a" stroke-width="0.8" />
<line x1="451.00" y1="134.40" x2="452.30" y2="134.40" stroke="#1a1a2a" stroke-width="0.8" />
<line x1="451.00" y1="132.14" x2="452.30" y2="132.14" stroke="#1a1a2a" stroke-width="0.8" />
<line x1="451.00" y1="130.18" x2="452.30" y2="130.18" stroke="#1a1a2a" stroke-width="0.8" />
<line x1="451.00" y1="128.45" x2="452.30" y2="128.45" stroke="#1a1a2a" stroke-width="0.8" />
<line x1="451.00" y1="160.70" x2="453.00" y2="160.70" stroke="#1a1a2a" stroke-width="0.9" />
<line x1="451.00" y1="170.87" x2="452.30" y2="170.87" stroke="#1a1a2a" stroke-width="0.8" />
<line x1="451.00" y1="168.20" x2="452.30" y2="168.20" stroke="#1a1a2a" stroke-width="0.8" />
<line x1="451.00" y1="165.94" x2="452.30" y2="165.94" stroke="#1a1a2a" stroke-width="0.8" />
<line x1="451.00" y1="163.98" x2="452.30" y2="163.98" stroke="#1a1a2a" stroke-width="0.8" />
<line x1="451.00" y1="162.25" x2="452.30" y2="162.25" stroke="#1a1a2a" stroke-width="0.8" />
<text x="457.0" y="61.60" font-size="6.4" fill="#333" stroke="#333" stroke-width="0.12">10<tspan dy="-2.6" font-size="3.6">6</tspan></text>
<text x="457.0" y="95.40" font-size="6.4" fill="#333" stroke="#333" stroke-width="0.12">10<tspan dy="-2.6" font-size="3.6">4</tspan></text>
<text x="457.0" y="129.20" font-size="6.4" fill="#333" stroke="#333" stroke-width="0.12">10<tspan dy="-2.6" font-size="3.6">2</tspan></text>
<text x="457.0" y="163.00" font-size="6.4" fill="#333" stroke="#333" stroke-width="0.12">10<tspan dy="-2.6" font-size="3.6">0</tspan></text>
<text x="0" y="0" font-size="7.2" fill="#222" text-anchor="middle" transform="translate(436.4,110.5) rotate(90)">MPM</text>
<text x="10.50" y="220.80" font-size="11" text-anchor="start" fill="#111" stroke="#111" stroke-width="0.15" font-weight="bold" font-style="normal" >B</text>
<line x1="55.50" y1="257.60" x2="55.50" y2="349.00" stroke="#222" stroke-width="1.0" />
<line x1="53.00" y1="348.50" x2="111.50" y2="348.50" stroke="#222" stroke-width="1.0" />
<line x1="53.10" y1="348.50" x2="55.50" y2="348.50" stroke="#222" stroke-width="0.9" />
<text x="49.70" y="351.20" font-size="7.7" text-anchor="end" fill="#1f1f1f" stroke="#1f1f1f" stroke-width="0.15" font-weight="normal" font-style="normal" >1</text>
<line x1="53.10" y1="331.32" x2="55.50" y2="331.32" stroke="#222" stroke-width="0.9" />
<text x="49.70" y="334.02" font-size="7.7" text-anchor="end" fill="#1f1f1f" stroke="#1f1f1f" stroke-width="0.15" font-weight="normal" font-style="normal" >10</text>
<line x1="53.10" y1="314.14" x2="55.50" y2="314.14" stroke="#222" stroke-width="0.9" />
<text x="49.70" y="316.84" font-size="7.7" text-anchor="end" fill="#1f1f1f" stroke="#1f1f1f" stroke-width="0.15" font-weight="normal" font-style="normal" >100</text>
<line x1="53.10" y1="296.96" x2="55.50" y2="296.96" stroke="#222" stroke-width="0.9" />
<text x="49.70" y="299.66" font-size="7.7" text-anchor="end" fill="#1f1f1f" stroke="#1f1f1f" stroke-width="0.15" font-weight="normal" font-style="normal" >1000</text>
<line x1="53.10" y1="279.78" x2="55.50" y2="279.78" stroke="#222" stroke-width="0.9" />
<text x="49.70" y="282.48" font-size="7.7" text-anchor="end" fill="#1f1f1f" stroke="#1f1f1f" stroke-width="0.15" font-weight="normal" font-style="normal" >10000</text>
<line x1="53.10" y1="262.60" x2="55.50" y2="262.60" stroke="#222" stroke-width="0.9" />
<text x="49.70" y="265.30" font-size="7.7" text-anchor="end" fill="#1f1f1f" stroke="#1f1f1f" stroke-width="0.15" font-weight="normal" font-style="normal" >100000</text>
<line x1="67.50" y1="348.50" x2="67.50" y2="350.70" stroke="#222" stroke-width="0.9" />
<line x1="84.50" y1="348.50" x2="84.50" y2="350.70" stroke="#222" stroke-width="0.9" />
<line x1="101.50" y1="348.50" x2="101.50" y2="350.70" stroke="#222" stroke-width="0.9" />
<text x="0" y="0" font-size="8.8" font-weight="bold" fill="#1a1a1a" text-anchor="middle" textLength="13.6" lengthAdjust="spacingAndGlyphs" transform="translate(17.40,302.85) rotate(-90)">MPM</text>
<text x="84.00" y="233.00" font-size="7.3" text-anchor="middle" fill="#333" stroke="#333" stroke-width="0.15" font-weight="normal" font-style="italic" >Veillonella</text>
<line x1="67.50" y1="279.78" x2="67.50" y2="332.52" stroke="#1a2555" stroke-width="0.9" />
<circle cx="67.50" cy="321.35" r="1.0" fill="#1c2f84"/>
<circle cx="67.50" cy="310.84" r="1.0" fill="#1c2f84"/>
<circle cx="67.50" cy="313.62" r="1.0" fill="#1c2f84"/>
<circle cx="67.50" cy="296.91" r="1.0" fill="#1c2f84"/>
<circle cx="67.50" cy="316.67" r="1.0" fill="#1c2f84"/>
<circle cx="69.90" cy="311.18" r="1.0" fill="#1c2f84"/>
<circle cx="67.50" cy="303.32" r="1.0" fill="#1c2f84"/>
<circle cx="69.90" cy="313.20" r="1.0" fill="#1c2f84"/>
<circle cx="68.30" cy="309.26" r="1.0" fill="#1c2f84"/>
<circle cx="67.50" cy="323.06" r="1.0" fill="#1c2f84"/>
<circle cx="67.50" cy="305.53" r="1.0" fill="#1c2f84"/>
<circle cx="68.30" cy="318.26" r="1.0" fill="#1c2f84"/>
<circle cx="69.10" cy="297.76" r="1.0" fill="#1c2f84"/>
<circle cx="67.50" cy="299.33" r="1.0" fill="#1c2f84"/>
<circle cx="65.10" cy="314.06" r="1.0" fill="#1c2f84"/>
<circle cx="69.90" cy="323.34" r="1.0" fill="#1c2f84"/>
<circle cx="69.10" cy="300.73" r="1.0" fill="#1c2f84"/>
<circle cx="65.90" cy="311.83" r="1.0" fill="#1c2f84"/>
<circle cx="71.50" cy="313.99" r="1.0" fill="#1c2f84"/>
<circle cx="69.10" cy="296.06" r="1.0" fill="#1c2f84"/>
<circle cx="65.90" cy="317.48" r="1.0" fill="#1c2f84"/>
<circle cx="69.90" cy="303.11" r="1.0" fill="#1c2f84"/>
<circle cx="65.90" cy="300.60" r="1.0" fill="#1c2f84"/>
<circle cx="69.10" cy="306.92" r="1.0" fill="#1c2f84"/>
<circle cx="67.50" cy="291.54" r="1.0" fill="#1c2f84"/>
<circle cx="65.90" cy="306.18" r="1.0" fill="#1c2f84"/>
<circle cx="64.30" cy="307.16" r="1.0" fill="#1c2f84"/>
<circle cx="62.70" cy="314.31" r="1.0" fill="#1c2f84"/>
<circle cx="71.63" cy="313.88" r="1.0" fill="#1c2f84"/>
<circle cx="71.50" cy="307.08" r="1.0" fill="#1c2f84"/>
<circle cx="66.70" cy="308.11" r="1.0" fill="#1c2f84"/>
<circle cx="63.50" cy="312.38" r="1.0" fill="#1c2f84"/>
<circle cx="71.50" cy="300.54" r="1.0" fill="#1c2f84"/>
<circle cx="69.10" cy="304.79" r="1.0" fill="#1c2f84"/>
<circle cx="64.30" cy="299.36" r="1.0" fill="#1c2f84"/>
<circle cx="62.70" cy="308.00" r="1.0" fill="#1c2f84"/>
<circle cx="65.10" cy="310.18" r="1.0" fill="#1c2f84"/>
<circle cx="71.50" cy="310.57" r="1.0" fill="#1c2f84"/>
<circle cx="67.50" cy="332.52" r="1.0" fill="#1c2f84"/>
<circle cx="70.60" cy="314.12" r="1.0" fill="#1c2f84"/>
<circle cx="73.10" cy="307.65" r="1.0" fill="#1c2f84"/>
<circle cx="62.70" cy="305.69" r="1.0" fill="#1c2f84"/>
<circle cx="66.55" cy="309.32" r="1.0" fill="#1c2f84"/>
<circle cx="73.10" cy="312.66" r="1.0" fill="#1c2f84"/>
<circle cx="69.10" cy="315.95" r="1.0" fill="#1c2f84"/>
<circle cx="64.61" cy="313.48" r="1.0" fill="#1c2f84"/>
<circle cx="70.70" cy="298.99" r="1.0" fill="#1c2f84"/>
<circle cx="62.70" cy="300.79" r="1.0" fill="#1c2f84"/>
<circle cx="67.64" cy="307.91" r="1.0" fill="#1c2f84"/>
<circle cx="67.50" cy="301.42" r="1.0" fill="#1c2f84"/>
<circle cx="69.90" cy="291.66" r="1.0" fill="#1c2f84"/>
<circle cx="70.70" cy="318.59" r="1.0" fill="#1c2f84"/>
<circle cx="64.30" cy="301.39" r="1.0" fill="#1c2f84"/>
<circle cx="63.50" cy="317.16" r="1.0" fill="#1c2f84"/>
<circle cx="62.70" cy="310.42" r="1.0" fill="#1c2f84"/>
<circle cx="67.50" cy="294.05" r="1.0" fill="#1c2f84"/>
<circle cx="72.30" cy="302.04" r="1.0" fill="#1c2f84"/>
<circle cx="70.70" cy="308.79" r="1.0" fill="#1c2f84"/>
<circle cx="72.30" cy="317.54" r="1.0" fill="#1c2f84"/>
<circle cx="67.50" cy="286.33" r="1.0" fill="#1c2f84"/>
<circle cx="66.36" cy="301.30" r="1.0" fill="#1c2f84"/>
<circle cx="70.91" cy="300.65" r="1.0" fill="#1c2f84"/>
<circle cx="73.10" cy="309.74" r="1.0" fill="#1c2f84"/>
<circle cx="65.14" cy="306.51" r="1.0" fill="#1c2f84"/>
<circle cx="67.22" cy="302.24" r="1.0" fill="#1c2f84"/>
<circle cx="68.50" cy="307.52" r="1.0" fill="#1c2f84"/>
<circle cx="72.40" cy="308.76" r="1.0" fill="#1c2f84"/>
<circle cx="67.56" cy="300.60" r="1.0" fill="#1c2f84"/>
<circle cx="69.90" cy="332.52" r="1.0" fill="#1c2f84"/>
<circle cx="67.50" cy="279.78" r="1.0" fill="#1c2f84"/>
<line x1="65.20" y1="279.78" x2="69.80" y2="279.78" stroke="#1a2555" stroke-width="1.0" />
<line x1="65.20" y1="332.52" x2="69.80" y2="332.52" stroke="#1a2555" stroke-width="1.0" />
<line x1="62.00" y1="307.96" x2="73.00" y2="307.96" stroke="#1a2555" stroke-width="1.3" />
<line x1="84.50" y1="290.43" x2="84.50" y2="331.32" stroke="#6a1020" stroke-width="0.9" />
<circle cx="84.50" cy="301.24" r="1.0" fill="#d8153a"/>
<circle cx="84.50" cy="323.60" r="1.0" fill="#d8153a"/>
<circle cx="86.90" cy="323.50" r="1.0" fill="#d8153a"/>
<circle cx="84.50" cy="306.18" r="1.0" fill="#d8153a"/>
<circle cx="84.50" cy="292.79" r="1.0" fill="#d8153a"/>
<circle cx="86.10" cy="307.28" r="1.0" fill="#d8153a"/>
<circle cx="86.10" cy="300.21" r="1.0" fill="#d8153a"/>
<circle cx="84.50" cy="310.33" r="1.0" fill="#d8153a"/>
<circle cx="86.10" cy="291.32" r="1.0" fill="#d8153a"/>
<circle cx="84.50" cy="317.32" r="1.0" fill="#d8153a"/>
<circle cx="86.10" cy="316.22" r="1.0" fill="#d8153a"/>
<circle cx="84.50" cy="312.49" r="1.0" fill="#d8153a"/>
<circle cx="86.10" cy="309.39" r="1.0" fill="#d8153a"/>
<circle cx="82.10" cy="317.35" r="1.0" fill="#d8153a"/>
<circle cx="82.10" cy="310.28" r="1.0" fill="#d8153a"/>
<circle cx="86.10" cy="318.03" r="1.0" fill="#d8153a"/>
<circle cx="84.50" cy="308.50" r="1.0" fill="#d8153a"/>
<circle cx="82.10" cy="323.17" r="1.0" fill="#d8153a"/>
<circle cx="84.50" cy="315.17" r="1.0" fill="#d8153a"/>
<circle cx="82.90" cy="307.41" r="1.0" fill="#d8153a"/>
<circle cx="86.10" cy="314.16" r="1.0" fill="#d8153a"/>
<circle cx="82.90" cy="315.82" r="1.0" fill="#d8153a"/>
<circle cx="81.30" cy="314.32" r="1.0" fill="#d8153a"/>
<circle cx="88.50" cy="317.51" r="1.0" fill="#d8153a"/>
<circle cx="84.50" cy="304.10" r="1.0" fill="#d8153a"/>
<circle cx="84.50" cy="319.69" r="1.0" fill="#d8153a"/>
<circle cx="88.50" cy="309.70" r="1.0" fill="#d8153a"/>
<circle cx="86.10" cy="293.60" r="1.0" fill="#d8153a"/>
<circle cx="88.50" cy="324.50" r="1.0" fill="#d8153a"/>
<circle cx="87.70" cy="314.91" r="1.0" fill="#d8153a"/>
<circle cx="86.10" cy="320.91" r="1.0" fill="#d8153a"/>
<circle cx="87.70" cy="306.25" r="1.0" fill="#d8153a"/>
<circle cx="82.90" cy="319.05" r="1.0" fill="#d8153a"/>
<circle cx="86.90" cy="303.65" r="1.0" fill="#d8153a"/>
<circle cx="80.50" cy="318.26" r="1.0" fill="#d8153a"/>
<circle cx="82.90" cy="305.11" r="1.0" fill="#d8153a"/>
<circle cx="82.10" cy="300.67" r="1.0" fill="#d8153a"/>
<circle cx="84.50" cy="328.64" r="1.0" fill="#d8153a"/>
<circle cx="79.70" cy="315.08" r="1.0" fill="#d8153a"/>
<circle cx="84.50" cy="298.61" r="1.0" fill="#d8153a"/>
<circle cx="89.30" cy="314.12" r="1.0" fill="#d8153a"/>
<circle cx="78.90" cy="317.51" r="1.0" fill="#d8153a"/>
<circle cx="86.10" cy="302.02" r="1.0" fill="#d8153a"/>
<circle cx="86.90" cy="328.26" r="1.0" fill="#d8153a"/>
<circle cx="88.50" cy="322.51" r="1.0" fill="#d8153a"/>
<circle cx="86.10" cy="311.89" r="1.0" fill="#d8153a"/>
<circle cx="88.50" cy="302.06" r="1.0" fill="#d8153a"/>
<circle cx="87.70" cy="319.41" r="1.0" fill="#d8153a"/>
<circle cx="90.10" cy="319.30" r="1.0" fill="#d8153a"/>
<circle cx="80.50" cy="309.63" r="1.0" fill="#d8153a"/>
<circle cx="78.90" cy="319.75" r="1.0" fill="#d8153a"/>
<circle cx="80.11" cy="319.58" r="1.0" fill="#d8153a"/>
<circle cx="88.67" cy="309.71" r="1.0" fill="#d8153a"/>
<circle cx="88.50" cy="304.61" r="1.0" fill="#d8153a"/>
<circle cx="86.10" cy="305.41" r="1.0" fill="#d8153a"/>
<circle cx="84.50" cy="326.57" r="1.0" fill="#d8153a"/>
<circle cx="82.90" cy="302.76" r="1.0" fill="#d8153a"/>
<circle cx="80.50" cy="322.31" r="1.0" fill="#d8153a"/>
<circle cx="84.50" cy="331.32" r="1.0" fill="#d8153a"/>
<circle cx="84.50" cy="290.43" r="1.0" fill="#d8153a"/>
<line x1="82.20" y1="290.43" x2="86.80" y2="290.43" stroke="#6a1020" stroke-width="1.0" />
<line x1="82.20" y1="331.32" x2="86.80" y2="331.32" stroke="#6a1020" stroke-width="1.0" />
<line x1="79.00" y1="314.14" x2="90.00" y2="314.14" stroke="#a01030" stroke-width="1.3" />
<line x1="101.50" y1="301.43" x2="101.50" y2="335.44" stroke="#5a9a5a" stroke-width="0.9" />
<circle cx="104.04" cy="313.54" r="1.0" fill="#135a18"/>
<circle cx="106.97" cy="322.77" r="1.0" fill="#135a18"/>
<circle cx="98.27" cy="316.27" r="1.0" fill="#135a18"/>
<circle cx="98.75" cy="327.96" r="1.0" fill="#135a18"/>
<circle cx="104.63" cy="326.26" r="1.0" fill="#135a18"/>
<circle cx="104.15" cy="325.46" r="1.0" fill="#135a18"/>
<circle cx="103.08" cy="327.11" r="1.0" fill="#135a18"/>
<circle cx="100.85" cy="309.51" r="1.0" fill="#135a18"/>
<circle cx="103.22" cy="321.76" r="1.0" fill="#135a18"/>
<circle cx="103.19" cy="323.48" r="1.0" fill="#135a18"/>
<circle cx="102.51" cy="318.19" r="1.0" fill="#135a18"/>
<circle cx="97.13" cy="321.63" r="1.0" fill="#135a18"/>
<circle cx="100.55" cy="318.77" r="1.0" fill="#135a18"/>
<circle cx="100.06" cy="325.26" r="1.0" fill="#135a18"/>
<circle cx="104.00" cy="319.04" r="1.0" fill="#135a18"/>
<circle cx="107.41" cy="321.86" r="1.0" fill="#135a18"/>
<circle cx="104.89" cy="316.69" r="1.0" fill="#135a18"/>
<circle cx="102.36" cy="322.40" r="1.0" fill="#135a18"/>
<circle cx="101.08" cy="312.65" r="1.0" fill="#135a18"/>
<circle cx="98.69" cy="324.86" r="1.0" fill="#135a18"/>
<circle cx="95.95" cy="321.48" r="1.0" fill="#135a18"/>
<circle cx="96.03" cy="320.93" r="1.0" fill="#135a18"/>
<circle cx="101.31" cy="310.15" r="1.0" fill="#135a18"/>
<circle cx="99.81" cy="316.99" r="1.0" fill="#135a18"/>
<circle cx="100.21" cy="326.66" r="1.0" fill="#135a18"/>
<circle cx="104.58" cy="316.81" r="1.0" fill="#135a18"/>
<circle cx="102.02" cy="320.63" r="1.0" fill="#135a18"/>
<circle cx="102.51" cy="320.38" r="1.0" fill="#135a18"/>
<circle cx="97.94" cy="323.04" r="1.0" fill="#135a18"/>
<circle cx="98.86" cy="313.60" r="1.0" fill="#135a18"/>
<circle cx="99.30" cy="325.02" r="1.0" fill="#135a18"/>
<circle cx="96.86" cy="322.13" r="1.0" fill="#135a18"/>
<circle cx="101.69" cy="318.20" r="1.0" fill="#135a18"/>
<circle cx="104.73" cy="315.22" r="1.0" fill="#135a18"/>
<circle cx="103.98" cy="321.01" r="1.0" fill="#135a18"/>
<circle cx="99.60" cy="313.52" r="1.0" fill="#135a18"/>
<circle cx="104.21" cy="327.81" r="1.0" fill="#135a18"/>
<circle cx="105.42" cy="322.97" r="1.0" fill="#135a18"/>
<circle cx="104.67" cy="321.17" r="1.0" fill="#135a18"/>
<circle cx="102.44" cy="308.53" r="1.0" fill="#135a18"/>
<circle cx="103.60" cy="316.12" r="1.0" fill="#135a18"/>
<circle cx="104.63" cy="319.16" r="1.0" fill="#135a18"/>
<circle cx="100.68" cy="311.91" r="1.0" fill="#135a18"/>
<circle cx="105.03" cy="316.53" r="1.0" fill="#135a18"/>
<circle cx="107.11" cy="322.75" r="1.0" fill="#135a18"/>
<circle cx="100.06" cy="311.22" r="1.0" fill="#135a18"/>
<circle cx="102.76" cy="329.70" r="1.0" fill="#135a18"/>
<circle cx="104.48" cy="323.39" r="1.0" fill="#135a18"/>
<circle cx="100.86" cy="319.46" r="1.0" fill="#135a18"/>
<circle cx="102.04" cy="325.06" r="1.0" fill="#135a18"/>
<circle cx="101.25" cy="323.86" r="1.0" fill="#135a18"/>
<circle cx="106.40" cy="320.59" r="1.0" fill="#135a18"/>
<circle cx="101.54" cy="321.53" r="1.0" fill="#135a18"/>
<circle cx="105.81" cy="322.60" r="1.0" fill="#135a18"/>
<circle cx="99.26" cy="322.60" r="1.0" fill="#135a18"/>
<circle cx="104.16" cy="315.44" r="1.0" fill="#135a18"/>
<circle cx="106.31" cy="323.70" r="1.0" fill="#135a18"/>
<circle cx="100.90" cy="325.84" r="1.0" fill="#135a18"/>
<circle cx="102.11" cy="314.54" r="1.0" fill="#135a18"/>
<circle cx="106.64" cy="321.52" r="1.0" fill="#135a18"/>
<circle cx="104.65" cy="322.44" r="1.0" fill="#135a18"/>
<circle cx="101.19" cy="324.21" r="1.0" fill="#135a18"/>
<circle cx="99.70" cy="328.47" r="1.0" fill="#135a18"/>
<circle cx="99.14" cy="320.31" r="1.0" fill="#135a18"/>
<circle cx="103.03" cy="315.06" r="1.0" fill="#135a18"/>
<circle cx="100.01" cy="329.88" r="1.0" fill="#135a18"/>
<circle cx="106.51" cy="321.51" r="1.0" fill="#135a18"/>
<circle cx="99.47" cy="316.86" r="1.0" fill="#135a18"/>
<circle cx="103.37" cy="329.65" r="1.0" fill="#135a18"/>
<circle cx="99.08" cy="319.88" r="1.0" fill="#135a18"/>
<circle cx="105.73" cy="325.91" r="1.0" fill="#135a18"/>
<circle cx="103.98" cy="319.52" r="1.0" fill="#135a18"/>
<circle cx="101.58" cy="315.95" r="1.0" fill="#135a18"/>
<circle cx="101.77" cy="317.21" r="1.0" fill="#135a18"/>
<circle cx="103.61" cy="324.30" r="1.0" fill="#135a18"/>
<circle cx="102.97" cy="323.10" r="1.0" fill="#135a18"/>
<circle cx="98.81" cy="321.46" r="1.0" fill="#135a18"/>
<circle cx="97.78" cy="320.92" r="1.0" fill="#135a18"/>
<circle cx="101.64" cy="313.59" r="1.0" fill="#135a18"/>
<circle cx="104.88" cy="316.94" r="1.0" fill="#135a18"/>
<circle cx="103.16" cy="325.06" r="1.0" fill="#135a18"/>
<circle cx="96.35" cy="321.38" r="1.0" fill="#135a18"/>
<circle cx="105.38" cy="320.51" r="1.0" fill="#135a18"/>
<circle cx="103.17" cy="328.01" r="1.0" fill="#135a18"/>
<circle cx="106.58" cy="322.72" r="1.0" fill="#135a18"/>
<circle cx="97.42" cy="322.42" r="1.0" fill="#135a18"/>
<circle cx="103.82" cy="317.71" r="1.0" fill="#135a18"/>
<circle cx="97.46" cy="318.46" r="1.0" fill="#135a18"/>
<circle cx="103.75" cy="321.22" r="1.0" fill="#135a18"/>
<circle cx="98.72" cy="319.86" r="1.0" fill="#135a18"/>
<circle cx="98.55" cy="325.53" r="1.0" fill="#135a18"/>
<circle cx="106.21" cy="321.63" r="1.0" fill="#135a18"/>
<circle cx="99.06" cy="314.27" r="1.0" fill="#135a18"/>
<circle cx="101.78" cy="327.74" r="1.0" fill="#135a18"/>
<circle cx="104.23" cy="327.33" r="1.0" fill="#135a18"/>
<circle cx="98.01" cy="322.72" r="1.0" fill="#135a18"/>
<circle cx="98.09" cy="324.72" r="1.0" fill="#135a18"/>
<circle cx="106.31" cy="322.73" r="1.0" fill="#135a18"/>
<circle cx="100.28" cy="320.34" r="1.0" fill="#135a18"/>
<circle cx="102.31" cy="310.06" r="1.0" fill="#135a18"/>
<circle cx="96.66" cy="325.02" r="1.0" fill="#135a18"/>
<circle cx="100.72" cy="311.86" r="1.0" fill="#135a18"/>
<circle cx="97.27" cy="323.05" r="1.0" fill="#135a18"/>
<circle cx="103.91" cy="323.96" r="1.0" fill="#135a18"/>
<circle cx="98.50" cy="315.99" r="1.0" fill="#135a18"/>
<circle cx="107.01" cy="322.95" r="1.0" fill="#135a18"/>
<circle cx="96.56" cy="324.93" r="1.0" fill="#135a18"/>
<circle cx="104.71" cy="322.13" r="1.0" fill="#135a18"/>
<circle cx="95.79" cy="323.14" r="1.0" fill="#135a18"/>
<circle cx="100.65" cy="309.81" r="1.0" fill="#135a18"/>
<circle cx="105.63" cy="322.28" r="1.0" fill="#135a18"/>
<circle cx="97.64" cy="324.83" r="1.0" fill="#135a18"/>
<circle cx="99.53" cy="328.51" r="1.0" fill="#135a18"/>
<circle cx="104.15" cy="320.91" r="1.0" fill="#135a18"/>
<circle cx="99.71" cy="321.24" r="1.0" fill="#135a18"/>
<circle cx="98.89" cy="313.78" r="1.0" fill="#135a18"/>
<circle cx="105.15" cy="316.74" r="1.0" fill="#135a18"/>
<circle cx="97.22" cy="323.81" r="1.0" fill="#135a18"/>
<circle cx="95.99" cy="321.33" r="1.0" fill="#135a18"/>
<circle cx="100.34" cy="328.33" r="1.0" fill="#135a18"/>
<circle cx="102.31" cy="328.88" r="1.0" fill="#135a18"/>
<circle cx="104.62" cy="320.55" r="1.0" fill="#135a18"/>
<circle cx="100.50" cy="331.67" r="1.0" fill="#135a18"/>
<circle cx="100.41" cy="313.38" r="1.0" fill="#135a18"/>
<circle cx="99.10" cy="312.89" r="1.0" fill="#135a18"/>
<circle cx="100.68" cy="325.08" r="1.0" fill="#135a18"/>
<circle cx="105.12" cy="322.59" r="1.0" fill="#135a18"/>
<circle cx="103.96" cy="318.37" r="1.0" fill="#135a18"/>
<circle cx="105.79" cy="325.00" r="1.0" fill="#135a18"/>
<circle cx="104.14" cy="325.94" r="1.0" fill="#135a18"/>
<circle cx="105.68" cy="320.23" r="1.0" fill="#135a18"/>
<circle cx="104.44" cy="322.39" r="1.0" fill="#135a18"/>
<circle cx="101.18" cy="315.47" r="1.0" fill="#135a18"/>
<circle cx="100.75" cy="308.90" r="1.0" fill="#135a18"/>
<circle cx="103.67" cy="320.17" r="1.0" fill="#135a18"/>
<circle cx="99.11" cy="320.07" r="1.0" fill="#135a18"/>
<circle cx="96.83" cy="324.06" r="1.0" fill="#135a18"/>
<circle cx="100.77" cy="326.04" r="1.0" fill="#135a18"/>
<circle cx="102.59" cy="331.30" r="1.0" fill="#135a18"/>
<circle cx="97.33" cy="324.71" r="1.0" fill="#135a18"/>
<circle cx="102.22" cy="328.32" r="1.0" fill="#135a18"/>
<circle cx="99.77" cy="322.98" r="1.0" fill="#135a18"/>
<circle cx="101.82" cy="324.58" r="1.0" fill="#135a18"/>
<circle cx="97.14" cy="320.93" r="1.0" fill="#135a18"/>
<circle cx="104.15" cy="313.88" r="1.0" fill="#135a18"/>
<circle cx="99.44" cy="327.19" r="1.0" fill="#135a18"/>
<circle cx="102.64" cy="317.36" r="1.0" fill="#135a18"/>
<circle cx="100.83" cy="314.00" r="1.0" fill="#135a18"/>
<circle cx="101.17" cy="335.44" r="1.0" fill="#135a18"/>
<circle cx="101.54" cy="301.43" r="1.0" fill="#135a18"/>
<line x1="99.20" y1="301.43" x2="103.80" y2="301.43" stroke="#5a9a5a" stroke-width="1.0" />
<line x1="99.20" y1="335.44" x2="103.80" y2="335.44" stroke="#5a9a5a" stroke-width="1.0" />
<line x1="96.00" y1="321.53" x2="107.00" y2="321.53" stroke="#cfeccf" stroke-width="1.3" />
<polyline points="67.10,248.40 67.10,244.60 101.40,244.60 101.40,248.40" fill="none" stroke="#333" stroke-width="0.9"/>
<text x="84.25" y="244.40" font-size="7.2" text-anchor="middle" fill="#222" stroke="#222" stroke-width="0.15" font-weight="normal" font-style="normal" >****</text>
<polyline points="67.70,263.40 67.70,259.70 81.50,259.70 81.50,263.40" fill="none" stroke="#333" stroke-width="0.9"/>
<text x="74.60" y="259.50" font-size="7.2" text-anchor="middle" fill="#222" stroke="#222" stroke-width="0.15" font-weight="normal" font-style="normal" >**</text>
<polyline points="87.70,272.10 87.70,268.40 101.40,268.40 101.40,272.10" fill="none" stroke="#333" stroke-width="0.9"/>
<text x="94.55" y="268.20" font-size="7.2" text-anchor="middle" fill="#222" stroke="#222" stroke-width="0.15" font-weight="normal" font-style="normal" >**</text>
<text x="0" y="0" font-size="7.5" fill="#1f1f1f" stroke="#1f1f1f" stroke-width="0.15" text-anchor="end" transform="translate(71.80,356.70) rotate(-45)">Nadir</text>
<text x="0" y="0" font-size="7.5" fill="#1f1f1f" stroke="#1f1f1f" stroke-width="0.15" text-anchor="end" transform="translate(88.80,356.70) rotate(-45)">Recovery</text>
<text x="0" y="0" font-size="7.5" fill="#1f1f1f" stroke="#1f1f1f" stroke-width="0.15" text-anchor="end" transform="translate(105.80,356.70) rotate(-45)">HC</text>
<line x1="156.50" y1="257.60" x2="156.50" y2="349.00" stroke="#222" stroke-width="1.0" />
<line x1="154.00" y1="348.50" x2="212.50" y2="348.50" stroke="#222" stroke-width="1.0" />
<line x1="154.10" y1="348.50" x2="156.50" y2="348.50" stroke="#222" stroke-width="0.9" />
<text x="150.70" y="351.20" font-size="7.7" text-anchor="end" fill="#1f1f1f" stroke="#1f1f1f" stroke-width="0.15" font-weight="normal" font-style="normal" >1</text>
<line x1="154.10" y1="327.02" x2="156.50" y2="327.02" stroke="#222" stroke-width="0.9" />
<text x="150.70" y="329.72" font-size="7.7" text-anchor="end" fill="#1f1f1f" stroke="#1f1f1f" stroke-width="0.15" font-weight="normal" font-style="normal" >10</text>
<line x1="154.10" y1="305.55" x2="156.50" y2="305.55" stroke="#222" stroke-width="0.9" />
<text x="150.70" y="308.25" font-size="7.7" text-anchor="end" fill="#1f1f1f" stroke="#1f1f1f" stroke-width="0.15" font-weight="normal" font-style="normal" >100</text>
<line x1="154.10" y1="284.08" x2="156.50" y2="284.08" stroke="#222" stroke-width="0.9" />
<text x="150.70" y="286.78" font-size="7.7" text-anchor="end" fill="#1f1f1f" stroke="#1f1f1f" stroke-width="0.15" font-weight="normal" font-style="normal" >1000</text>
<line x1="154.10" y1="262.60" x2="156.50" y2="262.60" stroke="#222" stroke-width="0.9" />
<text x="150.70" y="265.30" font-size="7.7" text-anchor="end" fill="#1f1f1f" stroke="#1f1f1f" stroke-width="0.15" font-weight="normal" font-style="normal" >10000</text>
<line x1="168.50" y1="348.50" x2="168.50" y2="350.70" stroke="#222" stroke-width="0.9" />
<line x1="185.50" y1="348.50" x2="185.50" y2="350.70" stroke="#222" stroke-width="0.9" />
<line x1="202.50" y1="348.50" x2="202.50" y2="350.70" stroke="#222" stroke-width="0.9" />
<text x="0" y="0" font-size="8.8" font-weight="bold" fill="#1a1a1a" text-anchor="middle" textLength="13.6" lengthAdjust="spacingAndGlyphs" transform="translate(123.20,302.85) rotate(-90)">MPM</text>
<text x="185.00" y="233.00" font-size="7.3" text-anchor="middle" fill="#333" stroke="#333" stroke-width="0.15" font-weight="normal" font-style="italic" >Rothia</text>
<line x1="168.50" y1="274.63" x2="168.50" y2="325.31" stroke="#1a2555" stroke-width="0.9" />
<circle cx="168.50" cy="312.47" r="1.0" fill="#1c2f84"/>
<circle cx="168.50" cy="301.18" r="1.0" fill="#1c2f84"/>
<circle cx="168.50" cy="310.32" r="1.0" fill="#1c2f84"/>
<circle cx="170.10" cy="313.24" r="1.0" fill="#1c2f84"/>
<circle cx="168.50" cy="307.14" r="1.0" fill="#1c2f84"/>
<circle cx="170.90" cy="310.19" r="1.0" fill="#1c2f84"/>
<circle cx="170.10" cy="302.22" r="1.0" fill="#1c2f84"/>
<circle cx="166.10" cy="301.31" r="1.0" fill="#1c2f84"/>
<circle cx="170.90" cy="306.87" r="1.0" fill="#1c2f84"/>
<circle cx="168.50" cy="295.40" r="1.0" fill="#1c2f84"/>
<circle cx="166.10" cy="306.65" r="1.0" fill="#1c2f84"/>
<circle cx="172.50" cy="307.77" r="1.0" fill="#1c2f84"/>
<circle cx="172.50" cy="305.79" r="1.0" fill="#1c2f84"/>
<circle cx="163.70" cy="306.54" r="1.0" fill="#1c2f84"/>
<circle cx="170.10" cy="294.63" r="1.0" fill="#1c2f84"/>
<circle cx="168.50" cy="293.41" r="1.0" fill="#1c2f84"/>
<circle cx="170.10" cy="300.35" r="1.0" fill="#1c2f84"/>
<circle cx="166.90" cy="308.18" r="1.0" fill="#1c2f84"/>
<circle cx="169.30" cy="297.00" r="1.0" fill="#1c2f84"/>
<circle cx="166.90" cy="311.11" r="1.0" fill="#1c2f84"/>
<circle cx="168.50" cy="303.77" r="1.0" fill="#1c2f84"/>
<circle cx="167.70" cy="298.28" r="1.0" fill="#1c2f84"/>
<circle cx="171.70" cy="300.93" r="1.0" fill="#1c2f84"/>
<circle cx="166.90" cy="313.43" r="1.0" fill="#1c2f84"/>
<circle cx="165.30" cy="309.59" r="1.0" fill="#1c2f84"/>
<circle cx="170.90" cy="298.11" r="1.0" fill="#1c2f84"/>
<circle cx="166.90" cy="296.39" r="1.0" fill="#1c2f84"/>
<circle cx="165.30" cy="297.59" r="1.0" fill="#1c2f84"/>
<circle cx="166.10" cy="299.31" r="1.0" fill="#1c2f84"/>
<circle cx="168.50" cy="319.48" r="1.0" fill="#1c2f84"/>
<circle cx="170.10" cy="304.70" r="1.0" fill="#1c2f84"/>
<circle cx="173.30" cy="299.68" r="1.0" fill="#1c2f84"/>
<circle cx="163.70" cy="299.65" r="1.0" fill="#1c2f84"/>
<circle cx="169.36" cy="299.99" r="1.0" fill="#1c2f84"/>
<circle cx="167.65" cy="300.02" r="1.0" fill="#1c2f84"/>
<circle cx="168.50" cy="314.92" r="1.0" fill="#1c2f84"/>
<circle cx="167.70" cy="305.43" r="1.0" fill="#1c2f84"/>
<circle cx="166.10" cy="304.58" r="1.0" fill="#1c2f84"/>
<circle cx="169.44" cy="305.95" r="1.0" fill="#1c2f84"/>
<circle cx="172.50" cy="302.46" r="1.0" fill="#1c2f84"/>
<circle cx="170.90" cy="314.89" r="1.0" fill="#1c2f84"/>
<circle cx="171.70" cy="296.59" r="1.0" fill="#1c2f84"/>
<circle cx="170.10" cy="318.82" r="1.0" fill="#1c2f84"/>
<circle cx="174.10" cy="307.09" r="1.0" fill="#1c2f84"/>
<circle cx="173.30" cy="297.95" r="1.0" fill="#1c2f84"/>
<circle cx="164.50" cy="301.97" r="1.0" fill="#1c2f84"/>
<circle cx="171.70" cy="312.34" r="1.0" fill="#1c2f84"/>
<circle cx="164.97" cy="300.75" r="1.0" fill="#1c2f84"/>
<circle cx="174.10" cy="301.33" r="1.0" fill="#1c2f84"/>
<circle cx="170.10" cy="308.50" r="1.0" fill="#1c2f84"/>
<circle cx="163.70" cy="304.37" r="1.0" fill="#1c2f84"/>
<circle cx="174.10" cy="304.73" r="1.0" fill="#1c2f84"/>
<circle cx="172.26" cy="302.26" r="1.0" fill="#1c2f84"/>
<circle cx="172.38" cy="303.14" r="1.0" fill="#1c2f84"/>
<circle cx="168.50" cy="321.61" r="1.0" fill="#1c2f84"/>
<circle cx="170.34" cy="304.17" r="1.0" fill="#1c2f84"/>
<circle cx="165.30" cy="314.64" r="1.0" fill="#1c2f84"/>
<circle cx="164.50" cy="311.12" r="1.0" fill="#1c2f84"/>
<circle cx="168.50" cy="325.31" r="1.0" fill="#1c2f84"/>
<circle cx="168.50" cy="274.63" r="1.0" fill="#1c2f84"/>
<line x1="166.20" y1="274.63" x2="170.80" y2="274.63" stroke="#1a2555" stroke-width="1.0" />
<line x1="166.20" y1="325.31" x2="170.80" y2="325.31" stroke="#1a2555" stroke-width="1.0" />
<line x1="163.00" y1="304.48" x2="174.00" y2="304.48" stroke="#1a2555" stroke-width="1.3" />
<line x1="185.50" y1="273.55" x2="185.50" y2="329.60" stroke="#6a1020" stroke-width="0.9" />
<circle cx="185.50" cy="321.23" r="1.0" fill="#d8153a"/>
<circle cx="185.50" cy="319.07" r="1.0" fill="#d8153a"/>
<circle cx="186.30" cy="317.48" r="1.0" fill="#d8153a"/>
<circle cx="185.50" cy="314.08" r="1.0" fill="#d8153a"/>
<circle cx="183.90" cy="318.19" r="1.0" fill="#d8153a"/>
<circle cx="185.50" cy="310.74" r="1.0" fill="#d8153a"/>
<circle cx="185.50" cy="325.73" r="1.0" fill="#d8153a"/>
<circle cx="185.50" cy="291.69" r="1.0" fill="#d8153a"/>
<circle cx="188.70" cy="317.37" r="1.0" fill="#d8153a"/>
<circle cx="185.50" cy="305.79" r="1.0" fill="#d8153a"/>
<circle cx="187.90" cy="314.10" r="1.0" fill="#d8153a"/>
<circle cx="183.90" cy="314.88" r="1.0" fill="#d8153a"/>
<circle cx="183.90" cy="313.11" r="1.0" fill="#d8153a"/>
<circle cx="187.10" cy="309.98" r="1.0" fill="#d8153a"/>
<circle cx="187.10" cy="322.57" r="1.0" fill="#d8153a"/>
<circle cx="187.90" cy="319.31" r="1.0" fill="#d8153a"/>
<circle cx="183.90" cy="322.05" r="1.0" fill="#d8153a"/>
<circle cx="185.50" cy="289.57" r="1.0" fill="#d8153a"/>
<circle cx="189.50" cy="315.36" r="1.0" fill="#d8153a"/>
<circle cx="182.30" cy="314.18" r="1.0" fill="#d8153a"/>
<circle cx="185.50" cy="308.81" r="1.0" fill="#d8153a"/>
<circle cx="187.10" cy="326.76" r="1.0" fill="#d8153a"/>
<circle cx="187.10" cy="306.44" r="1.0" fill="#d8153a"/>
<circle cx="185.50" cy="297.71" r="1.0" fill="#d8153a"/>
<circle cx="180.70" cy="315.17" r="1.0" fill="#d8153a"/>
<circle cx="183.90" cy="309.62" r="1.0" fill="#d8153a"/>
<circle cx="188.70" cy="311.02" r="1.0" fill="#d8153a"/>
<circle cx="185.50" cy="323.94" r="1.0" fill="#d8153a"/>
<circle cx="187.90" cy="324.45" r="1.0" fill="#d8153a"/>
<circle cx="183.90" cy="324.58" r="1.0" fill="#d8153a"/>
<circle cx="187.90" cy="298.13" r="1.0" fill="#d8153a"/>
<circle cx="184.93" cy="314.89" r="1.0" fill="#d8153a"/>
<circle cx="183.10" cy="311.50" r="1.0" fill="#d8153a"/>
<circle cx="181.50" cy="310.75" r="1.0" fill="#d8153a"/>
<circle cx="183.10" cy="306.32" r="1.0" fill="#d8153a"/>
<circle cx="186.22" cy="315.42" r="1.0" fill="#d8153a"/>
<circle cx="182.30" cy="318.93" r="1.0" fill="#d8153a"/>
<circle cx="190.30" cy="319.54" r="1.0" fill="#d8153a"/>
<circle cx="186.30" cy="312.49" r="1.0" fill="#d8153a"/>
<circle cx="187.10" cy="296.58" r="1.0" fill="#d8153a"/>
<circle cx="185.50" cy="301.24" r="1.0" fill="#d8153a"/>
<circle cx="183.90" cy="326.59" r="1.0" fill="#d8153a"/>
<circle cx="189.50" cy="305.87" r="1.0" fill="#d8153a"/>
<circle cx="190.30" cy="309.78" r="1.0" fill="#d8153a"/>
<circle cx="190.59" cy="315.32" r="1.0" fill="#d8153a"/>
<circle cx="180.70" cy="317.97" r="1.0" fill="#d8153a"/>
<circle cx="179.90" cy="309.43" r="1.0" fill="#d8153a"/>
<circle cx="180.70" cy="319.84" r="1.0" fill="#d8153a"/>
<circle cx="191.10" cy="317.76" r="1.0" fill="#d8153a"/>
<circle cx="185.09" cy="309.46" r="1.0" fill="#d8153a"/>
<circle cx="190.30" cy="311.78" r="1.0" fill="#d8153a"/>
<circle cx="185.59" cy="318.52" r="1.0" fill="#d8153a"/>
<circle cx="183.90" cy="296.44" r="1.0" fill="#d8153a"/>
<circle cx="183.90" cy="320.15" r="1.0" fill="#d8153a"/>
<circle cx="186.55" cy="310.34" r="1.0" fill="#d8153a"/>
<circle cx="183.90" cy="298.83" r="1.0" fill="#d8153a"/>
<circle cx="187.90" cy="301.36" r="1.0" fill="#d8153a"/>
<circle cx="181.72" cy="319.73" r="1.0" fill="#d8153a"/>
<circle cx="185.50" cy="329.60" r="1.0" fill="#d8153a"/>
<circle cx="185.50" cy="273.55" r="1.0" fill="#d8153a"/>
<line x1="183.20" y1="273.55" x2="187.80" y2="273.55" stroke="#6a1020" stroke-width="1.0" />
<line x1="183.20" y1="329.60" x2="187.80" y2="329.60" stroke="#6a1020" stroke-width="1.0" />
<line x1="180.00" y1="314.14" x2="191.00" y2="314.14" stroke="#a01030" stroke-width="1.3" />
<line x1="202.50" y1="288.58" x2="202.50" y2="332.39" stroke="#5a9a5a" stroke-width="0.9" />
<circle cx="202.00" cy="318.50" r="1.0" fill="#135a18"/>
<circle cx="204.19" cy="320.51" r="1.0" fill="#135a18"/>
<circle cx="204.93" cy="317.33" r="1.0" fill="#135a18"/>
<circle cx="201.06" cy="302.27" r="1.0" fill="#135a18"/>
<circle cx="197.69" cy="319.51" r="1.0" fill="#135a18"/>
<circle cx="200.66" cy="318.25" r="1.0" fill="#135a18"/>
<circle cx="199.39" cy="317.27" r="1.0" fill="#135a18"/>
<circle cx="204.18" cy="305.26" r="1.0" fill="#135a18"/>
<circle cx="205.12" cy="313.88" r="1.0" fill="#135a18"/>
<circle cx="204.17" cy="316.34" r="1.0" fill="#135a18"/>
<circle cx="203.07" cy="322.15" r="1.0" fill="#135a18"/>
<circle cx="204.16" cy="309.53" r="1.0" fill="#135a18"/>
<circle cx="199.28" cy="309.81" r="1.0" fill="#135a18"/>
<circle cx="201.43" cy="317.52" r="1.0" fill="#135a18"/>
<circle cx="200.95" cy="303.17" r="1.0" fill="#135a18"/>
<circle cx="207.54" cy="315.41" r="1.0" fill="#135a18"/>
<circle cx="197.16" cy="317.18" r="1.0" fill="#135a18"/>
<circle cx="205.00" cy="308.57" r="1.0" fill="#135a18"/>
<circle cx="197.99" cy="311.91" r="1.0" fill="#135a18"/>
<circle cx="203.64" cy="305.47" r="1.0" fill="#135a18"/>
<circle cx="200.68" cy="320.21" r="1.0" fill="#135a18"/>
<circle cx="201.17" cy="311.55" r="1.0" fill="#135a18"/>
<circle cx="204.67" cy="307.19" r="1.0" fill="#135a18"/>
<circle cx="200.22" cy="304.51" r="1.0" fill="#135a18"/>
<circle cx="198.06" cy="311.30" r="1.0" fill="#135a18"/>
<circle cx="207.21" cy="318.45" r="1.0" fill="#135a18"/>
<circle cx="202.74" cy="315.73" r="1.0" fill="#135a18"/>
<circle cx="197.41" cy="316.72" r="1.0" fill="#135a18"/>
<circle cx="205.01" cy="323.25" r="1.0" fill="#135a18"/>
<circle cx="207.93" cy="315.27" r="1.0" fill="#135a18"/>
<circle cx="198.17" cy="312.45" r="1.0" fill="#135a18"/>
<circle cx="201.36" cy="319.15" r="1.0" fill="#135a18"/>
<circle cx="198.40" cy="318.86" r="1.0" fill="#135a18"/>
<circle cx="200.06" cy="312.59" r="1.0" fill="#135a18"/>
<circle cx="204.38" cy="317.47" r="1.0" fill="#135a18"/>
<circle cx="198.15" cy="315.57" r="1.0" fill="#135a18"/>
<circle cx="205.32" cy="315.38" r="1.0" fill="#135a18"/>
<circle cx="198.36" cy="310.38" r="1.0" fill="#135a18"/>
<circle cx="198.40" cy="317.78" r="1.0" fill="#135a18"/>
<circle cx="206.42" cy="313.84" r="1.0" fill="#135a18"/>
<circle cx="201.39" cy="309.43" r="1.0" fill="#135a18"/>
<circle cx="201.53" cy="309.66" r="1.0" fill="#135a18"/>
<circle cx="203.74" cy="310.66" r="1.0" fill="#135a18"/>
<circle cx="201.99" cy="316.72" r="1.0" fill="#135a18"/>
<circle cx="200.72" cy="314.19" r="1.0" fill="#135a18"/>
<circle cx="196.90" cy="314.94" r="1.0" fill="#135a18"/>
<circle cx="205.67" cy="316.57" r="1.0" fill="#135a18"/>
<circle cx="207.30" cy="311.71" r="1.0" fill="#135a18"/>
<circle cx="204.29" cy="324.60" r="1.0" fill="#135a18"/>
<circle cx="203.40" cy="323.92" r="1.0" fill="#135a18"/>
<circle cx="200.81" cy="310.53" r="1.0" fill="#135a18"/>
<circle cx="200.47" cy="314.03" r="1.0" fill="#135a18"/>
<circle cx="204.73" cy="311.11" r="1.0" fill="#135a18"/>
<circle cx="205.02" cy="317.28" r="1.0" fill="#135a18"/>
<circle cx="197.71" cy="317.23" r="1.0" fill="#135a18"/>
<circle cx="199.40" cy="311.94" r="1.0" fill="#135a18"/>
<circle cx="201.73" cy="303.40" r="1.0" fill="#135a18"/>
<circle cx="202.57" cy="301.07" r="1.0" fill="#135a18"/>
<circle cx="205.21" cy="309.32" r="1.0" fill="#135a18"/>
<circle cx="202.50" cy="316.62" r="1.0" fill="#135a18"/>
<circle cx="197.10" cy="313.79" r="1.0" fill="#135a18"/>
<circle cx="205.84" cy="310.88" r="1.0" fill="#135a18"/>
<circle cx="201.26" cy="315.52" r="1.0" fill="#135a18"/>
<circle cx="202.86" cy="311.43" r="1.0" fill="#135a18"/>
<circle cx="198.89" cy="314.38" r="1.0" fill="#135a18"/>
<circle cx="202.37" cy="297.97" r="1.0" fill="#135a18"/>
<circle cx="201.54" cy="322.17" r="1.0" fill="#135a18"/>
<circle cx="205.01" cy="320.77" r="1.0" fill="#135a18"/>
<circle cx="198.75" cy="320.13" r="1.0" fill="#135a18"/>
<circle cx="202.76" cy="301.48" r="1.0" fill="#135a18"/>
<circle cx="198.66" cy="318.48" r="1.0" fill="#135a18"/>
<circle cx="205.32" cy="316.76" r="1.0" fill="#135a18"/>
<circle cx="196.89" cy="315.46" r="1.0" fill="#135a18"/>
<circle cx="199.40" cy="315.00" r="1.0" fill="#135a18"/>
<circle cx="201.82" cy="301.72" r="1.0" fill="#135a18"/>
<circle cx="203.15" cy="324.65" r="1.0" fill="#135a18"/>
<circle cx="197.38" cy="313.53" r="1.0" fill="#135a18"/>
<circle cx="201.81" cy="319.13" r="1.0" fill="#135a18"/>
<circle cx="199.08" cy="318.85" r="1.0" fill="#135a18"/>
<circle cx="201.29" cy="304.47" r="1.0" fill="#135a18"/>
<circle cx="201.98" cy="316.41" r="1.0" fill="#135a18"/>
<circle cx="208.10" cy="316.35" r="1.0" fill="#135a18"/>
<circle cx="202.07" cy="317.45" r="1.0" fill="#135a18"/>
<circle cx="207.43" cy="312.47" r="1.0" fill="#135a18"/>
<circle cx="198.18" cy="315.69" r="1.0" fill="#135a18"/>
<circle cx="207.69" cy="317.06" r="1.0" fill="#135a18"/>
<circle cx="200.43" cy="317.32" r="1.0" fill="#135a18"/>
<circle cx="200.32" cy="322.17" r="1.0" fill="#135a18"/>
<circle cx="204.54" cy="308.54" r="1.0" fill="#135a18"/>
<circle cx="207.34" cy="313.79" r="1.0" fill="#135a18"/>
<circle cx="197.51" cy="311.65" r="1.0" fill="#135a18"/>
<circle cx="200.64" cy="308.32" r="1.0" fill="#135a18"/>
<circle cx="205.33" cy="319.96" r="1.0" fill="#135a18"/>
<circle cx="201.55" cy="304.64" r="1.0" fill="#135a18"/>
<circle cx="199.00" cy="315.24" r="1.0" fill="#135a18"/>
<circle cx="197.56" cy="311.54" r="1.0" fill="#135a18"/>
<circle cx="198.54" cy="309.79" r="1.0" fill="#135a18"/>
<circle cx="204.36" cy="317.37" r="1.0" fill="#135a18"/>
<circle cx="206.37" cy="320.95" r="1.0" fill="#135a18"/>
<circle cx="204.86" cy="304.55" r="1.0" fill="#135a18"/>
<circle cx="202.55" cy="323.64" r="1.0" fill="#135a18"/>
<circle cx="200.52" cy="302.90" r="1.0" fill="#135a18"/>
<circle cx="201.17" cy="322.43" r="1.0" fill="#135a18"/>
<circle cx="206.34" cy="316.55" r="1.0" fill="#135a18"/>
<circle cx="205.24" cy="321.22" r="1.0" fill="#135a18"/>
<circle cx="203.03" cy="325.48" r="1.0" fill="#135a18"/>
<circle cx="199.38" cy="319.17" r="1.0" fill="#135a18"/>
<circle cx="202.84" cy="308.46" r="1.0" fill="#135a18"/>
<circle cx="202.01" cy="317.25" r="1.0" fill="#135a18"/>
<circle cx="204.17" cy="311.55" r="1.0" fill="#135a18"/>
<circle cx="199.41" cy="318.12" r="1.0" fill="#135a18"/>
<circle cx="207.96" cy="315.64" r="1.0" fill="#135a18"/>
<circle cx="206.66" cy="311.61" r="1.0" fill="#135a18"/>
<circle cx="200.85" cy="303.85" r="1.0" fill="#135a18"/>
<circle cx="200.95" cy="307.61" r="1.0" fill="#135a18"/>
<circle cx="205.17" cy="321.87" r="1.0" fill="#135a18"/>
<circle cx="200.24" cy="320.41" r="1.0" fill="#135a18"/>
<circle cx="205.67" cy="321.69" r="1.0" fill="#135a18"/>
<circle cx="202.77" cy="320.24" r="1.0" fill="#135a18"/>
<circle cx="204.81" cy="311.23" r="1.0" fill="#135a18"/>
<circle cx="205.26" cy="318.04" r="1.0" fill="#135a18"/>
<circle cx="199.32" cy="311.46" r="1.0" fill="#135a18"/>
<circle cx="201.31" cy="304.33" r="1.0" fill="#135a18"/>
<circle cx="199.61" cy="311.85" r="1.0" fill="#135a18"/>
<circle cx="204.43" cy="309.94" r="1.0" fill="#135a18"/>
<circle cx="203.95" cy="307.54" r="1.0" fill="#135a18"/>
<circle cx="200.76" cy="303.64" r="1.0" fill="#135a18"/>
<circle cx="206.86" cy="318.67" r="1.0" fill="#135a18"/>
<circle cx="201.69" cy="308.50" r="1.0" fill="#135a18"/>
<circle cx="202.32" cy="294.08" r="1.0" fill="#135a18"/>
<circle cx="201.39" cy="313.89" r="1.0" fill="#135a18"/>
<circle cx="208.26" cy="315.38" r="1.0" fill="#135a18"/>
<circle cx="203.51" cy="313.31" r="1.0" fill="#135a18"/>
<circle cx="204.22" cy="312.17" r="1.0" fill="#135a18"/>
<circle cx="207.37" cy="313.55" r="1.0" fill="#135a18"/>
<circle cx="207.30" cy="311.85" r="1.0" fill="#135a18"/>
<circle cx="205.15" cy="310.26" r="1.0" fill="#135a18"/>
<circle cx="201.08" cy="316.02" r="1.0" fill="#135a18"/>
<circle cx="203.63" cy="320.14" r="1.0" fill="#135a18"/>
<circle cx="207.03" cy="312.81" r="1.0" fill="#135a18"/>
<circle cx="205.73" cy="319.34" r="1.0" fill="#135a18"/>
<circle cx="203.86" cy="314.88" r="1.0" fill="#135a18"/>
<circle cx="200.37" cy="318.39" r="1.0" fill="#135a18"/>
<circle cx="200.78" cy="311.50" r="1.0" fill="#135a18"/>
<circle cx="205.78" cy="316.57" r="1.0" fill="#135a18"/>
<circle cx="202.94" cy="304.08" r="1.0" fill="#135a18"/>
<circle cx="196.76" cy="315.00" r="1.0" fill="#135a18"/>
<circle cx="203.20" cy="325.66" r="1.0" fill="#135a18"/>
<circle cx="202.70" cy="332.39" r="1.0" fill="#135a18"/>
<circle cx="202.66" cy="288.58" r="1.0" fill="#135a18"/>
<line x1="200.20" y1="288.58" x2="204.80" y2="288.58" stroke="#5a9a5a" stroke-width="1.0" />
<line x1="200.20" y1="332.39" x2="204.80" y2="332.39" stroke="#5a9a5a" stroke-width="1.0" />
<line x1="197.00" y1="315.00" x2="208.00" y2="315.00" stroke="#cfeccf" stroke-width="1.3" />
<polyline points="168.10,248.40 168.10,244.60 202.40,244.60 202.40,248.40" fill="none" stroke="#333" stroke-width="0.9"/>
<text x="185.25" y="244.40" font-size="7.2" text-anchor="middle" fill="#222" stroke="#222" stroke-width="0.15" font-weight="normal" font-style="normal" >****</text>
<polyline points="168.70,263.40 168.70,259.70 182.50,259.70 182.50,263.40" fill="none" stroke="#333" stroke-width="0.9"/>
<text x="175.60" y="259.50" font-size="7.2" text-anchor="middle" fill="#222" stroke="#222" stroke-width="0.15" font-weight="normal" font-style="normal" >**</text>
<polyline points="188.70,272.10 188.70,268.40 202.40,268.40 202.40,272.10" fill="none" stroke="#333" stroke-width="0.9"/>
<text x="195.55" y="266.40" font-size="7" text-anchor="middle" fill="#333" stroke="#333" stroke-width="0.15" font-weight="normal" font-style="normal" >ns</text>
<text x="0" y="0" font-size="7.5" fill="#1f1f1f" stroke="#1f1f1f" stroke-width="0.15" text-anchor="end" transform="translate(172.80,356.70) rotate(-45)">Nadir</text>
<text x="0" y="0" font-size="7.5" fill="#1f1f1f" stroke="#1f1f1f" stroke-width="0.15" text-anchor="end" transform="translate(189.80,356.70) rotate(-45)">Recovery</text>
<text x="0" y="0" font-size="7.5" fill="#1f1f1f" stroke="#1f1f1f" stroke-width="0.15" text-anchor="end" transform="translate(206.80,356.70) rotate(-45)">HC</text>
<line x1="262.50" y1="257.60" x2="262.50" y2="349.00" stroke="#222" stroke-width="1.0" />
<line x1="260.00" y1="348.50" x2="318.50" y2="348.50" stroke="#222" stroke-width="1.0" />
<line x1="260.10" y1="348.50" x2="262.50" y2="348.50" stroke="#222" stroke-width="0.9" />
<text x="256.70" y="351.20" font-size="7.7" text-anchor="end" fill="#1f1f1f" stroke="#1f1f1f" stroke-width="0.15" font-weight="normal" font-style="normal" >1</text>
<line x1="260.10" y1="331.32" x2="262.50" y2="331.32" stroke="#222" stroke-width="0.9" />
<text x="256.70" y="334.02" font-size="7.7" text-anchor="end" fill="#1f1f1f" stroke="#1f1f1f" stroke-width="0.15" font-weight="normal" font-style="normal" >10</text>
<line x1="260.10" y1="314.14" x2="262.50" y2="314.14" stroke="#222" stroke-width="0.9" />
<text x="256.70" y="316.84" font-size="7.7" text-anchor="end" fill="#1f1f1f" stroke="#1f1f1f" stroke-width="0.15" font-weight="normal" font-style="normal" >100</text>
<line x1="260.10" y1="296.96" x2="262.50" y2="296.96" stroke="#222" stroke-width="0.9" />
<text x="256.70" y="299.66" font-size="7.7" text-anchor="end" fill="#1f1f1f" stroke="#1f1f1f" stroke-width="0.15" font-weight="normal" font-style="normal" >1000</text>
<line x1="260.10" y1="279.78" x2="262.50" y2="279.78" stroke="#222" stroke-width="0.9" />
<text x="256.70" y="282.48" font-size="7.7" text-anchor="end" fill="#1f1f1f" stroke="#1f1f1f" stroke-width="0.15" font-weight="normal" font-style="normal" >10000</text>
<line x1="260.10" y1="262.60" x2="262.50" y2="262.60" stroke="#222" stroke-width="0.9" />
<text x="256.70" y="265.30" font-size="7.7" text-anchor="end" fill="#1f1f1f" stroke="#1f1f1f" stroke-width="0.15" font-weight="normal" font-style="normal" >100000</text>
<line x1="274.50" y1="348.50" x2="274.50" y2="350.70" stroke="#222" stroke-width="0.9" />
<line x1="291.50" y1="348.50" x2="291.50" y2="350.70" stroke="#222" stroke-width="0.9" />
<line x1="308.50" y1="348.50" x2="308.50" y2="350.70" stroke="#222" stroke-width="0.9" />
<text x="0" y="0" font-size="8.8" font-weight="bold" fill="#1a1a1a" text-anchor="middle" textLength="13.6" lengthAdjust="spacingAndGlyphs" transform="translate(224.40,302.85) rotate(-90)">MPM</text>
<text x="291.00" y="233.00" font-size="7.3" text-anchor="middle" fill="#333" stroke="#333" stroke-width="0.15" font-weight="normal" font-style="italic" >Bacteroides</text>
<line x1="274.50" y1="266.55" x2="274.50" y2="331.15" stroke="#1a2555" stroke-width="0.9" />
<circle cx="274.50" cy="314.16" r="1.0" fill="#1c2f84"/>
<circle cx="274.50" cy="327.38" r="1.0" fill="#1c2f84"/>
<circle cx="274.50" cy="325.29" r="1.0" fill="#1c2f84"/>
<circle cx="276.10" cy="328.30" r="1.0" fill="#1c2f84"/>
<circle cx="274.50" cy="297.15" r="1.0" fill="#1c2f84"/>
<circle cx="274.50" cy="291.29" r="1.0" fill="#1c2f84"/>
<circle cx="274.50" cy="319.49" r="1.0" fill="#1c2f84"/>
<circle cx="274.50" cy="272.02" r="1.0" fill="#1c2f84"/>
<circle cx="274.50" cy="317.48" r="1.0" fill="#1c2f84"/>
<circle cx="274.50" cy="275.28" r="1.0" fill="#1c2f84"/>
<circle cx="274.50" cy="322.81" r="1.0" fill="#1c2f84"/>
<circle cx="276.10" cy="323.44" r="1.0" fill="#1c2f84"/>
<circle cx="274.50" cy="307.94" r="1.0" fill="#1c2f84"/>
<circle cx="274.50" cy="306.18" r="1.0" fill="#1c2f84"/>
<circle cx="276.10" cy="308.59" r="1.0" fill="#1c2f84"/>
<circle cx="276.10" cy="315.62" r="1.0" fill="#1c2f84"/>
<circle cx="274.50" cy="302.10" r="1.0" fill="#1c2f84"/>
<circle cx="276.90" cy="302.30" r="1.0" fill="#1c2f84"/>
<circle cx="272.10" cy="302.41" r="1.0" fill="#1c2f84"/>
<circle cx="274.50" cy="293.88" r="1.0" fill="#1c2f84"/>
<circle cx="272.90" cy="306.93" r="1.0" fill="#1c2f84"/>
<circle cx="276.90" cy="296.92" r="1.0" fill="#1c2f84"/>
<circle cx="274.50" cy="312.40" r="1.0" fill="#1c2f84"/>
<circle cx="278.50" cy="301.71" r="1.0" fill="#1c2f84"/>
<circle cx="276.90" cy="312.44" r="1.0" fill="#1c2f84"/>
<circle cx="272.90" cy="300.86" r="1.0" fill="#1c2f84"/>
<circle cx="272.10" cy="322.36" r="1.0" fill="#1c2f84"/>
<circle cx="274.50" cy="289.57" r="1.0" fill="#1c2f84"/>
<circle cx="276.90" cy="291.11" r="1.0" fill="#1c2f84"/>
<circle cx="276.10" cy="276.54" r="1.0" fill="#1c2f84"/>
<circle cx="276.90" cy="305.74" r="1.0" fill="#1c2f84"/>
<circle cx="274.50" cy="283.24" r="1.0" fill="#1c2f84"/>
<circle cx="274.50" cy="304.18" r="1.0" fill="#1c2f84"/>
<circle cx="274.50" cy="287.28" r="1.0" fill="#1c2f84"/>
<circle cx="274.50" cy="309.72" r="1.0" fill="#1c2f84"/>
<circle cx="271.30" cy="308.07" r="1.0" fill="#1c2f84"/>
<circle cx="276.10" cy="310.78" r="1.0" fill="#1c2f84"/>
<circle cx="276.90" cy="282.73" r="1.0" fill="#1c2f84"/>
<circle cx="276.90" cy="293.71" r="1.0" fill="#1c2f84"/>
<circle cx="276.10" cy="285.99" r="1.0" fill="#1c2f84"/>
<circle cx="272.10" cy="293.38" r="1.0" fill="#1c2f84"/>
<circle cx="278.50" cy="294.31" r="1.0" fill="#1c2f84"/>
<circle cx="269.70" cy="302.70" r="1.0" fill="#1c2f84"/>
<circle cx="272.10" cy="283.04" r="1.0" fill="#1c2f84"/>
<circle cx="279.37" cy="301.22" r="1.0" fill="#1c2f84"/>
<circle cx="277.70" cy="307.33" r="1.0" fill="#1c2f84"/>
<circle cx="272.10" cy="297.43" r="1.0" fill="#1c2f84"/>
<circle cx="276.74" cy="302.51" r="1.0" fill="#1c2f84"/>
<circle cx="274.50" cy="331.15" r="1.0" fill="#1c2f84"/>
<circle cx="274.50" cy="266.55" r="1.0" fill="#1c2f84"/>
<line x1="272.20" y1="266.55" x2="276.80" y2="266.55" stroke="#1a2555" stroke-width="1.0" />
<line x1="272.20" y1="331.15" x2="276.80" y2="331.15" stroke="#1a2555" stroke-width="1.0" />
<line x1="269.00" y1="302.46" x2="280.00" y2="302.46" stroke="#1a2555" stroke-width="1.3" />
<line x1="291.50" y1="278.92" x2="291.50" y2="333.38" stroke="#6a1020" stroke-width="0.9" />
<circle cx="291.50" cy="324.78" r="1.0" fill="#d8153a"/>
<circle cx="291.50" cy="329.56" r="1.0" fill="#d8153a"/>
<circle cx="291.50" cy="318.74" r="1.0" fill="#d8153a"/>
<circle cx="291.50" cy="332.16" r="1.0" fill="#d8153a"/>
<circle cx="291.50" cy="321.58" r="1.0" fill="#d8153a"/>
<circle cx="293.90" cy="321.15" r="1.0" fill="#d8153a"/>
<circle cx="291.50" cy="311.94" r="1.0" fill="#d8153a"/>
<circle cx="292.30" cy="317.12" r="1.0" fill="#d8153a"/>
<circle cx="291.50" cy="301.50" r="1.0" fill="#d8153a"/>
<circle cx="290.70" cy="316.14" r="1.0" fill="#d8153a"/>
<circle cx="291.50" cy="306.66" r="1.0" fill="#d8153a"/>
<circle cx="293.10" cy="322.68" r="1.0" fill="#d8153a"/>
<circle cx="293.10" cy="310.56" r="1.0" fill="#d8153a"/>
<circle cx="289.10" cy="311.77" r="1.0" fill="#d8153a"/>
<circle cx="289.90" cy="320.35" r="1.0" fill="#d8153a"/>
<circle cx="291.50" cy="308.54" r="1.0" fill="#d8153a"/>
<circle cx="291.50" cy="326.85" r="1.0" fill="#d8153a"/>
<circle cx="289.90" cy="323.40" r="1.0" fill="#d8153a"/>
<circle cx="289.90" cy="309.90" r="1.0" fill="#d8153a"/>
<circle cx="293.90" cy="318.84" r="1.0" fill="#d8153a"/>
<circle cx="289.10" cy="317.55" r="1.0" fill="#d8153a"/>
<circle cx="291.50" cy="287.82" r="1.0" fill="#d8153a"/>
<circle cx="288.30" cy="320.99" r="1.0" fill="#d8153a"/>
<circle cx="293.90" cy="329.53" r="1.0" fill="#d8153a"/>
<circle cx="293.10" cy="332.77" r="1.0" fill="#d8153a"/>
<circle cx="295.50" cy="319.96" r="1.0" fill="#d8153a"/>
<circle cx="292.30" cy="299.94" r="1.0" fill="#d8153a"/>
<circle cx="293.10" cy="325.63" r="1.0" fill="#d8153a"/>
<circle cx="293.90" cy="308.79" r="1.0" fill="#d8153a"/>
<circle cx="291.50" cy="313.65" r="1.0" fill="#d8153a"/>
<circle cx="290.70" cy="299.26" r="1.0" fill="#d8153a"/>
<circle cx="289.10" cy="329.22" r="1.0" fill="#d8153a"/>
<circle cx="297.10" cy="321.22" r="1.0" fill="#d8153a"/>
<circle cx="293.10" cy="327.57" r="1.0" fill="#d8153a"/>
<circle cx="289.10" cy="326.47" r="1.0" fill="#d8153a"/>
<circle cx="287.50" cy="318.95" r="1.0" fill="#d8153a"/>
<circle cx="294.70" cy="299.73" r="1.0" fill="#d8153a"/>
<circle cx="295.50" cy="325.84" r="1.0" fill="#d8153a"/>
<circle cx="288.30" cy="324.58" r="1.0" fill="#d8153a"/>
<circle cx="295.50" cy="317.57" r="1.0" fill="#d8153a"/>
<circle cx="289.90" cy="331.22" r="1.0" fill="#d8153a"/>
<circle cx="287.50" cy="327.40" r="1.0" fill="#d8153a"/>
<circle cx="297.10" cy="318.45" r="1.0" fill="#d8153a"/>
<circle cx="293.90" cy="306.32" r="1.0" fill="#d8153a"/>
<circle cx="295.50" cy="322.68" r="1.0" fill="#d8153a"/>
<circle cx="294.70" cy="311.96" r="1.0" fill="#d8153a"/>
<circle cx="285.90" cy="321.29" r="1.0" fill="#d8153a"/>
<circle cx="291.50" cy="303.94" r="1.0" fill="#d8153a"/>
<circle cx="287.48" cy="319.68" r="1.0" fill="#d8153a"/>
<circle cx="289.90" cy="333.02" r="1.0" fill="#d8153a"/>
<circle cx="293.78" cy="320.42" r="1.0" fill="#d8153a"/>
<circle cx="286.70" cy="323.18" r="1.0" fill="#d8153a"/>
<circle cx="293.10" cy="315.55" r="1.0" fill="#d8153a"/>
<circle cx="295.50" cy="328.40" r="1.0" fill="#d8153a"/>
<circle cx="291.50" cy="292.78" r="1.0" fill="#d8153a"/>
<circle cx="285.90" cy="326.17" r="1.0" fill="#d8153a"/>
<circle cx="293.10" cy="304.62" r="1.0" fill="#d8153a"/>
<circle cx="293.12" cy="321.82" r="1.0" fill="#d8153a"/>
<circle cx="294.70" cy="333.38" r="1.0" fill="#d8153a"/>
<circle cx="291.50" cy="278.92" r="1.0" fill="#d8153a"/>
<line x1="289.20" y1="278.92" x2="293.80" y2="278.92" stroke="#6a1020" stroke-width="1.0" />
<line x1="289.20" y1="333.38" x2="293.80" y2="333.38" stroke="#6a1020" stroke-width="1.0" />
<line x1="286.00" y1="320.15" x2="297.00" y2="320.15" stroke="#a01030" stroke-width="1.3" />
<line x1="308.50" y1="288.03" x2="308.50" y2="348.50" stroke="#5a9a5a" stroke-width="0.9" />
<circle cx="311.75" cy="310.56" r="1.0" fill="#135a18"/>
<circle cx="305.92" cy="310.36" r="1.0" fill="#135a18"/>
<circle cx="303.26" cy="313.86" r="1.0" fill="#135a18"/>
<circle cx="314.04" cy="314.10" r="1.0" fill="#135a18"/>
<circle cx="306.51" cy="309.52" r="1.0" fill="#135a18"/>
<circle cx="306.95" cy="307.58" r="1.0" fill="#135a18"/>
<circle cx="310.29" cy="312.44" r="1.0" fill="#135a18"/>
<circle cx="306.16" cy="315.84" r="1.0" fill="#135a18"/>
<circle cx="311.04" cy="309.93" r="1.0" fill="#135a18"/>
<circle cx="304.87" cy="315.73" r="1.0" fill="#135a18"/>
<circle cx="314.04" cy="315.32" r="1.0" fill="#135a18"/>
<circle cx="306.95" cy="310.61" r="1.0" fill="#135a18"/>
<circle cx="309.21" cy="308.89" r="1.0" fill="#135a18"/>
<circle cx="309.24" cy="329.21" r="1.0" fill="#135a18"/>
<circle cx="310.52" cy="320.92" r="1.0" fill="#135a18"/>
<circle cx="313.63" cy="314.96" r="1.0" fill="#135a18"/>
<circle cx="311.47" cy="316.31" r="1.0" fill="#135a18"/>
<circle cx="307.66" cy="328.87" r="1.0" fill="#135a18"/>
<circle cx="313.29" cy="315.49" r="1.0" fill="#135a18"/>
<circle cx="309.22" cy="324.06" r="1.0" fill="#135a18"/>
<circle cx="306.13" cy="319.47" r="1.0" fill="#135a18"/>
<circle cx="305.57" cy="311.87" r="1.0" fill="#135a18"/>
<circle cx="311.15" cy="322.77" r="1.0" fill="#135a18"/>
<circle cx="309.78" cy="318.87" r="1.0" fill="#135a18"/>
<circle cx="313.40" cy="313.86" r="1.0" fill="#135a18"/>
<circle cx="312.03" cy="314.50" r="1.0" fill="#135a18"/>
<circle cx="311.78" cy="322.82" r="1.0" fill="#135a18"/>
<circle cx="309.34" cy="321.43" r="1.0" fill="#135a18"/>
<circle cx="310.80" cy="320.20" r="1.0" fill="#135a18"/>
<circle cx="309.83" cy="312.04" r="1.0" fill="#135a18"/>
<circle cx="306.41" cy="322.35" r="1.0" fill="#135a18"/>
<circle cx="310.74" cy="308.62" r="1.0" fill="#135a18"/>
<circle cx="305.97" cy="318.45" r="1.0" fill="#135a18"/>
<circle cx="311.94" cy="318.72" r="1.0" fill="#135a18"/>
<circle cx="310.23" cy="307.42" r="1.0" fill="#135a18"/>
<circle cx="310.55" cy="313.63" r="1.0" fill="#135a18"/>
<circle cx="304.80" cy="320.13" r="1.0" fill="#135a18"/>
<circle cx="312.75" cy="316.20" r="1.0" fill="#135a18"/>
<circle cx="310.99" cy="316.63" r="1.0" fill="#135a18"/>
<circle cx="306.62" cy="324.33" r="1.0" fill="#135a18"/>
<circle cx="303.35" cy="314.21" r="1.0" fill="#135a18"/>
<circle cx="308.80" cy="309.24" r="1.0" fill="#135a18"/>
<circle cx="305.96" cy="324.42" r="1.0" fill="#135a18"/>
<circle cx="313.77" cy="316.35" r="1.0" fill="#135a18"/>
<circle cx="308.52" cy="329.79" r="1.0" fill="#135a18"/>
<circle cx="308.66" cy="325.09" r="1.0" fill="#135a18"/>
<circle cx="307.17" cy="319.27" r="1.0" fill="#135a18"/>
<circle cx="309.57" cy="324.49" r="1.0" fill="#135a18"/>
<circle cx="313.68" cy="315.89" r="1.0" fill="#135a18"/>
<circle cx="306.22" cy="320.04" r="1.0" fill="#135a18"/>
<circle cx="307.62" cy="324.48" r="1.0" fill="#135a18"/>
<circle cx="309.82" cy="318.39" r="1.0" fill="#135a18"/>
<circle cx="306.12" cy="320.02" r="1.0" fill="#135a18"/>
<circle cx="309.45" cy="322.67" r="1.0" fill="#135a18"/>
<circle cx="309.30" cy="314.47" r="1.0" fill="#135a18"/>
<circle cx="307.45" cy="319.21" r="1.0" fill="#135a18"/>
<circle cx="310.84" cy="318.66" r="1.0" fill="#135a18"/>
<circle cx="308.80" cy="309.78" r="1.0" fill="#135a18"/>
<circle cx="303.63" cy="314.43" r="1.0" fill="#135a18"/>
<circle cx="314.44" cy="315.61" r="1.0" fill="#135a18"/>
<circle cx="306.57" cy="319.31" r="1.0" fill="#135a18"/>
<circle cx="308.20" cy="327.09" r="1.0" fill="#135a18"/>
<circle cx="307.77" cy="324.39" r="1.0" fill="#135a18"/>
<circle cx="312.71" cy="312.59" r="1.0" fill="#135a18"/>
<circle cx="311.84" cy="322.60" r="1.0" fill="#135a18"/>
<circle cx="308.79" cy="318.12" r="1.0" fill="#135a18"/>
<circle cx="307.36" cy="321.56" r="1.0" fill="#135a18"/>
<circle cx="303.62" cy="317.67" r="1.0" fill="#135a18"/>
<circle cx="312.42" cy="312.56" r="1.0" fill="#135a18"/>
<circle cx="304.22" cy="315.86" r="1.0" fill="#135a18"/>
<circle cx="309.24" cy="312.95" r="1.0" fill="#135a18"/>
<circle cx="306.54" cy="319.55" r="1.0" fill="#135a18"/>
<circle cx="306.24" cy="313.60" r="1.0" fill="#135a18"/>
<circle cx="306.33" cy="317.09" r="1.0" fill="#135a18"/>
<circle cx="305.38" cy="312.32" r="1.0" fill="#135a18"/>
<circle cx="304.82" cy="311.27" r="1.0" fill="#135a18"/>
<circle cx="308.92" cy="310.63" r="1.0" fill="#135a18"/>
<circle cx="311.82" cy="313.11" r="1.0" fill="#135a18"/>
<circle cx="310.42" cy="313.19" r="1.0" fill="#135a18"/>
<circle cx="306.71" cy="324.37" r="1.0" fill="#135a18"/>
<circle cx="310.78" cy="320.09" r="1.0" fill="#135a18"/>
<circle cx="303.18" cy="314.81" r="1.0" fill="#135a18"/>
<circle cx="307.04" cy="317.70" r="1.0" fill="#135a18"/>
<circle cx="312.29" cy="313.58" r="1.0" fill="#135a18"/>
<circle cx="313.66" cy="317.08" r="1.0" fill="#135a18"/>
<circle cx="307.73" cy="315.18" r="1.0" fill="#135a18"/>
<circle cx="311.38" cy="322.11" r="1.0" fill="#135a18"/>
<circle cx="308.46" cy="312.17" r="1.0" fill="#135a18"/>
<circle cx="308.73" cy="308.96" r="1.0" fill="#135a18"/>
<circle cx="308.75" cy="304.99" r="1.0" fill="#135a18"/>
<circle cx="311.79" cy="323.14" r="1.0" fill="#135a18"/>
<circle cx="311.67" cy="314.29" r="1.0" fill="#135a18"/>
<circle cx="307.95" cy="314.40" r="1.0" fill="#135a18"/>
<circle cx="311.65" cy="317.08" r="1.0" fill="#135a18"/>
<circle cx="310.71" cy="315.96" r="1.0" fill="#135a18"/>
<circle cx="306.48" cy="318.86" r="1.0" fill="#135a18"/>
<circle cx="312.05" cy="318.37" r="1.0" fill="#135a18"/>
<circle cx="311.44" cy="321.44" r="1.0" fill="#135a18"/>
<circle cx="309.82" cy="312.19" r="1.0" fill="#135a18"/>
<circle cx="313.78" cy="314.84" r="1.0" fill="#135a18"/>
<circle cx="305.75" cy="309.44" r="1.0" fill="#135a18"/>
<circle cx="308.50" cy="317.46" r="1.0" fill="#135a18"/>
<circle cx="309.54" cy="309.68" r="1.0" fill="#135a18"/>
<circle cx="306.92" cy="321.94" r="1.0" fill="#135a18"/>
<circle cx="304.58" cy="318.63" r="1.0" fill="#135a18"/>
<circle cx="311.19" cy="317.68" r="1.0" fill="#135a18"/>
<circle cx="307.45" cy="313.65" r="1.0" fill="#135a18"/>
<circle cx="307.50" cy="326.15" r="1.0" fill="#135a18"/>
<circle cx="303.89" cy="319.90" r="1.0" fill="#135a18"/>
<circle cx="314.10" cy="315.24" r="1.0" fill="#135a18"/>
<circle cx="306.28" cy="315.16" r="1.0" fill="#135a18"/>
<circle cx="304.55" cy="320.01" r="1.0" fill="#135a18"/>
<circle cx="304.84" cy="314.67" r="1.0" fill="#135a18"/>
<circle cx="305.13" cy="315.57" r="1.0" fill="#135a18"/>
<circle cx="311.24" cy="322.79" r="1.0" fill="#135a18"/>
<circle cx="304.47" cy="317.74" r="1.0" fill="#135a18"/>
<circle cx="305.50" cy="314.51" r="1.0" fill="#135a18"/>
<circle cx="307.92" cy="303.48" r="1.0" fill="#135a18"/>
<circle cx="307.98" cy="312.91" r="1.0" fill="#135a18"/>
<circle cx="306.41" cy="310.12" r="1.0" fill="#135a18"/>
<circle cx="306.25" cy="317.93" r="1.0" fill="#135a18"/>
<circle cx="311.78" cy="316.19" r="1.0" fill="#135a18"/>
<circle cx="313.62" cy="317.51" r="1.0" fill="#135a18"/>
<circle cx="310.72" cy="309.85" r="1.0" fill="#135a18"/>
<circle cx="307.37" cy="305.56" r="1.0" fill="#135a18"/>
<circle cx="308.02" cy="306.38" r="1.0" fill="#135a18"/>
<circle cx="312.86" cy="314.84" r="1.0" fill="#135a18"/>
<circle cx="302.85" cy="316.74" r="1.0" fill="#135a18"/>
<circle cx="304.77" cy="318.12" r="1.0" fill="#135a18"/>
<circle cx="308.30" cy="320.76" r="1.0" fill="#135a18"/>
<circle cx="307.18" cy="321.43" r="1.0" fill="#135a18"/>
<circle cx="309.72" cy="325.57" r="1.0" fill="#135a18"/>
<circle cx="311.34" cy="318.53" r="1.0" fill="#135a18"/>
<circle cx="307.81" cy="317.79" r="1.0" fill="#135a18"/>
<circle cx="307.27" cy="325.52" r="1.0" fill="#135a18"/>
<circle cx="304.84" cy="316.23" r="1.0" fill="#135a18"/>
<circle cx="306.47" cy="322.37" r="1.0" fill="#135a18"/>
<circle cx="305.43" cy="322.95" r="1.0" fill="#135a18"/>
<circle cx="310.97" cy="316.54" r="1.0" fill="#135a18"/>
<circle cx="304.97" cy="320.25" r="1.0" fill="#135a18"/>
<circle cx="313.26" cy="314.83" r="1.0" fill="#135a18"/>
<circle cx="310.33" cy="319.99" r="1.0" fill="#135a18"/>
<circle cx="303.06" cy="316.40" r="1.0" fill="#135a18"/>
<circle cx="308.49" cy="305.27" r="1.0" fill="#135a18"/>
<circle cx="310.19" cy="316.91" r="1.0" fill="#135a18"/>
<circle cx="302.91" cy="316.32" r="1.0" fill="#135a18"/>
<circle cx="308.18" cy="317.58" r="1.0" fill="#135a18"/>
<circle cx="303.65" cy="313.17" r="1.0" fill="#135a18"/>
<circle cx="311.19" cy="320.94" r="1.0" fill="#135a18"/>
<circle cx="303.76" cy="320.29" r="1.0" fill="#135a18"/>
<circle cx="310.53" cy="317.16" r="1.0" fill="#135a18"/>
<circle cx="314.11" cy="317.85" r="1.0" fill="#135a18"/>
<circle cx="312.80" cy="317.77" r="1.0" fill="#135a18"/>
<circle cx="305.17" cy="313.98" r="1.0" fill="#135a18"/>
<circle cx="309.07" cy="312.78" r="1.0" fill="#135a18"/>
<circle cx="303.91" cy="316.72" r="1.0" fill="#135a18"/>
<circle cx="306.34" cy="313.85" r="1.0" fill="#135a18"/>
<circle cx="312.68" cy="313.75" r="1.0" fill="#135a18"/>
<circle cx="312.65" cy="315.55" r="1.0" fill="#135a18"/>
<circle cx="302.65" cy="315.36" r="1.0" fill="#135a18"/>
<circle cx="306.77" cy="313.76" r="1.0" fill="#135a18"/>
<circle cx="309.88" cy="311.11" r="1.0" fill="#135a18"/>
<circle cx="304.73" cy="313.62" r="1.0" fill="#135a18"/>
<circle cx="311.70" cy="320.25" r="1.0" fill="#135a18"/>
<circle cx="311.84" cy="321.75" r="1.0" fill="#135a18"/>
<circle cx="309.44" cy="314.84" r="1.0" fill="#135a18"/>
<circle cx="307.04" cy="321.68" r="1.0" fill="#135a18"/>
<circle cx="312.67" cy="318.41" r="1.0" fill="#135a18"/>
<circle cx="308.51" cy="348.50" r="1.0" fill="#135a18"/>
<circle cx="308.37" cy="288.03" r="1.0" fill="#135a18"/>
<line x1="306.20" y1="288.03" x2="310.80" y2="288.03" stroke="#5a9a5a" stroke-width="1.0" />
<line x1="306.20" y1="348.50" x2="310.80" y2="348.50" stroke="#5a9a5a" stroke-width="1.0" />
<line x1="303.00" y1="316.37" x2="314.00" y2="316.37" stroke="#cfeccf" stroke-width="1.3" />
<polyline points="274.10,248.40 274.10,244.60 308.40,244.60 308.40,248.40" fill="none" stroke="#333" stroke-width="0.9"/>
<text x="291.25" y="244.40" font-size="7.2" text-anchor="middle" fill="#222" stroke="#222" stroke-width="0.15" font-weight="normal" font-style="normal" >****</text>
<polyline points="274.70,263.40 274.70,259.70 288.50,259.70 288.50,263.40" fill="none" stroke="#333" stroke-width="0.9"/>
<text x="281.60" y="259.50" font-size="7.2" text-anchor="middle" fill="#222" stroke="#222" stroke-width="0.15" font-weight="normal" font-style="normal" >***</text>
<polyline points="294.70,272.10 294.70,268.40 308.40,268.40 308.40,272.10" fill="none" stroke="#333" stroke-width="0.9"/>
<text x="301.55" y="266.40" font-size="7" text-anchor="middle" fill="#333" stroke="#333" stroke-width="0.15" font-weight="normal" font-style="normal" >ns</text>
<text x="0" y="0" font-size="7.5" fill="#1f1f1f" stroke="#1f1f1f" stroke-width="0.15" text-anchor="end" transform="translate(278.80,356.70) rotate(-45)">Nadir</text>
<text x="0" y="0" font-size="7.5" fill="#1f1f1f" stroke="#1f1f1f" stroke-width="0.15" text-anchor="end" transform="translate(295.80,356.70) rotate(-45)">Recovery</text>
<text x="0" y="0" font-size="7.5" fill="#1f1f1f" stroke="#1f1f1f" stroke-width="0.15" text-anchor="end" transform="translate(312.80,356.70) rotate(-45)">HC</text>
<line x1="55.50" y1="436.60" x2="55.50" y2="528.00" stroke="#222" stroke-width="1.0" />
<line x1="53.00" y1="527.50" x2="111.50" y2="527.50" stroke="#222" stroke-width="1.0" />
<line x1="53.10" y1="527.50" x2="55.50" y2="527.50" stroke="#222" stroke-width="0.9" />
<text x="49.70" y="530.20" font-size="7.7" text-anchor="end" fill="#1f1f1f" stroke="#1f1f1f" stroke-width="0.15" font-weight="normal" font-style="normal" >1</text>
<line x1="53.10" y1="510.32" x2="55.50" y2="510.32" stroke="#222" stroke-width="0.9" />
<text x="49.70" y="513.02" font-size="7.7" text-anchor="end" fill="#1f1f1f" stroke="#1f1f1f" stroke-width="0.15" font-weight="normal" font-style="normal" >10</text>
<line x1="53.10" y1="493.14" x2="55.50" y2="493.14" stroke="#222" stroke-width="0.9" />
<text x="49.70" y="495.84" font-size="7.7" text-anchor="end" fill="#1f1f1f" stroke="#1f1f1f" stroke-width="0.15" font-weight="normal" font-style="normal" >100</text>
<line x1="53.10" y1="475.96" x2="55.50" y2="475.96" stroke="#222" stroke-width="0.9" />
<text x="49.70" y="478.66" font-size="7.7" text-anchor="end" fill="#1f1f1f" stroke="#1f1f1f" stroke-width="0.15" font-weight="normal" font-style="normal" >1000</text>
<line x1="53.10" y1="458.78" x2="55.50" y2="458.78" stroke="#222" stroke-width="0.9" />
<text x="49.70" y="461.48" font-size="7.7" text-anchor="end" fill="#1f1f1f" stroke="#1f1f1f" stroke-width="0.15" font-weight="normal" font-style="normal" >10000</text>
<line x1="53.10" y1="441.60" x2="55.50" y2="441.60" stroke="#222" stroke-width="0.9" />
<text x="49.70" y="444.30" font-size="7.7" text-anchor="end" fill="#1f1f1f" stroke="#1f1f1f" stroke-width="0.15" font-weight="normal" font-style="normal" >100000</text>
<line x1="67.50" y1="527.50" x2="67.50" y2="529.70" stroke="#222" stroke-width="0.9" />
<line x1="84.50" y1="527.50" x2="84.50" y2="529.70" stroke="#222" stroke-width="0.9" />
<line x1="101.50" y1="527.50" x2="101.50" y2="529.70" stroke="#222" stroke-width="0.9" />
<text x="0" y="0" font-size="8.8" font-weight="bold" fill="#1a1a1a" text-anchor="middle" textLength="13.6" lengthAdjust="spacingAndGlyphs" transform="translate(17.40,481.85) rotate(-90)">MPM</text>
<text x="84.00" y="412.00" font-size="7.3" text-anchor="middle" fill="#333" stroke="#333" stroke-width="0.15" font-weight="normal" font-style="italic" >Prevotella</text>
<line x1="67.50" y1="448.64" x2="67.50" y2="507.23" stroke="#1a2555" stroke-width="0.9" />
<circle cx="67.50" cy="475.10" r="1.0" fill="#1c2f84"/>
<circle cx="68.30" cy="473.55" r="1.0" fill="#1c2f84"/>
<circle cx="69.90" cy="475.02" r="1.0" fill="#1c2f84"/>
<circle cx="67.50" cy="469.61" r="1.0" fill="#1c2f84"/>
<circle cx="67.50" cy="482.01" r="1.0" fill="#1c2f84"/>
<circle cx="66.70" cy="472.06" r="1.0" fill="#1c2f84"/>
<circle cx="67.50" cy="486.30" r="1.0" fill="#1c2f84"/>
<circle cx="67.50" cy="462.81" r="1.0" fill="#1c2f84"/>
<circle cx="69.90" cy="481.62" r="1.0" fill="#1c2f84"/>
<circle cx="65.90" cy="473.76" r="1.0" fill="#1c2f84"/>
<circle cx="69.10" cy="487.76" r="1.0" fill="#1c2f84"/>
<circle cx="71.50" cy="474.24" r="1.0" fill="#1c2f84"/>
<circle cx="65.90" cy="481.42" r="1.0" fill="#1c2f84"/>
<circle cx="69.90" cy="472.80" r="1.0" fill="#1c2f84"/>
<circle cx="65.90" cy="476.32" r="1.0" fill="#1c2f84"/>
<circle cx="69.90" cy="469.74" r="1.0" fill="#1c2f84"/>
<circle cx="67.50" cy="484.05" r="1.0" fill="#1c2f84"/>
<circle cx="64.30" cy="474.60" r="1.0" fill="#1c2f84"/>
<circle cx="63.50" cy="481.07" r="1.0" fill="#1c2f84"/>
<circle cx="61.90" cy="474.79" r="1.0" fill="#1c2f84"/>
<circle cx="67.50" cy="479.15" r="1.0" fill="#1c2f84"/>
<circle cx="69.10" cy="478.56" r="1.0" fill="#1c2f84"/>
<circle cx="67.50" cy="496.69" r="1.0" fill="#1c2f84"/>
<circle cx="67.50" cy="491.73" r="1.0" fill="#1c2f84"/>
<circle cx="67.50" cy="488.94" r="1.0" fill="#1c2f84"/>
<circle cx="68.30" cy="498.31" r="1.0" fill="#1c2f84"/>
<circle cx="65.90" cy="486.94" r="1.0" fill="#1c2f84"/>
<circle cx="73.10" cy="475.07" r="1.0" fill="#1c2f84"/>
<circle cx="67.50" cy="466.85" r="1.0" fill="#1c2f84"/>
<circle cx="64.30" cy="471.88" r="1.0" fill="#1c2f84"/>
<circle cx="71.50" cy="480.24" r="1.0" fill="#1c2f84"/>
<circle cx="67.97" cy="473.66" r="1.0" fill="#1c2f84"/>
<circle cx="65.10" cy="469.96" r="1.0" fill="#1c2f84"/>
<circle cx="69.10" cy="496.02" r="1.0" fill="#1c2f84"/>
<circle cx="65.10" cy="479.01" r="1.0" fill="#1c2f84"/>
<circle cx="73.10" cy="481.59" r="1.0" fill="#1c2f84"/>
<circle cx="71.50" cy="468.58" r="1.0" fill="#1c2f84"/>
<circle cx="62.70" cy="479.14" r="1.0" fill="#1c2f84"/>
<circle cx="64.97" cy="481.11" r="1.0" fill="#1c2f84"/>
<circle cx="65.90" cy="495.96" r="1.0" fill="#1c2f84"/>
<circle cx="61.86" cy="475.60" r="1.0" fill="#1c2f84"/>
<circle cx="69.34" cy="475.46" r="1.0" fill="#1c2f84"/>
<circle cx="64.02" cy="473.64" r="1.0" fill="#1c2f84"/>
<circle cx="61.90" cy="481.84" r="1.0" fill="#1c2f84"/>
<circle cx="63.50" cy="469.08" r="1.0" fill="#1c2f84"/>
<circle cx="64.59" cy="475.35" r="1.0" fill="#1c2f84"/>
<circle cx="64.30" cy="488.18" r="1.0" fill="#1c2f84"/>
<circle cx="72.30" cy="472.40" r="1.0" fill="#1c2f84"/>
<circle cx="67.50" cy="493.97" r="1.0" fill="#1c2f84"/>
<circle cx="68.30" cy="471.34" r="1.0" fill="#1c2f84"/>
<circle cx="72.30" cy="478.58" r="1.0" fill="#1c2f84"/>
<circle cx="69.10" cy="485.61" r="1.0" fill="#1c2f84"/>
<circle cx="70.70" cy="477.68" r="1.0" fill="#1c2f84"/>
<circle cx="67.50" cy="507.23" r="1.0" fill="#1c2f84"/>
<circle cx="67.50" cy="448.64" r="1.0" fill="#1c2f84"/>
<line x1="65.20" y1="448.64" x2="69.80" y2="448.64" stroke="#1a2555" stroke-width="1.0" />
<line x1="65.20" y1="507.23" x2="69.80" y2="507.23" stroke="#1a2555" stroke-width="1.0" />
<line x1="62.00" y1="477.68" x2="73.00" y2="477.68" stroke="#1a2555" stroke-width="1.3" />
<line x1="84.50" y1="467.54" x2="84.50" y2="504.82" stroke="#6a1020" stroke-width="0.9" />
<circle cx="84.50" cy="495.48" r="1.0" fill="#d8153a"/>
<circle cx="84.50" cy="476.55" r="1.0" fill="#d8153a"/>
<circle cx="86.10" cy="496.37" r="1.0" fill="#d8153a"/>
<circle cx="86.10" cy="477.92" r="1.0" fill="#d8153a"/>
<circle cx="84.50" cy="499.12" r="1.0" fill="#d8153a"/>
<circle cx="84.50" cy="489.11" r="1.0" fill="#d8153a"/>
<circle cx="84.50" cy="479.00" r="1.0" fill="#d8153a"/>
<circle cx="86.90" cy="488.65" r="1.0" fill="#d8153a"/>
<circle cx="83.70" cy="497.45" r="1.0" fill="#d8153a"/>
<circle cx="85.30" cy="500.72" r="1.0" fill="#d8153a"/>
<circle cx="86.10" cy="475.12" r="1.0" fill="#d8153a"/>
<circle cx="87.70" cy="497.57" r="1.0" fill="#d8153a"/>
<circle cx="84.50" cy="471.54" r="1.0" fill="#d8153a"/>
<circle cx="82.90" cy="477.73" r="1.0" fill="#d8153a"/>
<circle cx="83.70" cy="502.16" r="1.0" fill="#d8153a"/>
<circle cx="86.10" cy="479.65" r="1.0" fill="#d8153a"/>
<circle cx="84.50" cy="481.70" r="1.0" fill="#d8153a"/>
<circle cx="84.50" cy="484.72" r="1.0" fill="#d8153a"/>
<circle cx="86.10" cy="485.98" r="1.0" fill="#d8153a"/>
<circle cx="88.50" cy="477.74" r="1.0" fill="#d8153a"/>
<circle cx="84.50" cy="492.98" r="1.0" fill="#d8153a"/>
<circle cx="82.10" cy="500.74" r="1.0" fill="#d8153a"/>
<circle cx="82.10" cy="495.42" r="1.0" fill="#d8153a"/>
<circle cx="86.90" cy="471.40" r="1.0" fill="#d8153a"/>
<circle cx="86.10" cy="498.46" r="1.0" fill="#d8153a"/>
<circle cx="82.90" cy="479.93" r="1.0" fill="#d8153a"/>
<circle cx="86.10" cy="502.31" r="1.0" fill="#d8153a"/>
<circle cx="86.90" cy="492.67" r="1.0" fill="#d8153a"/>
<circle cx="87.70" cy="500.57" r="1.0" fill="#d8153a"/>
<circle cx="82.90" cy="493.62" r="1.0" fill="#d8153a"/>
<circle cx="84.50" cy="486.56" r="1.0" fill="#d8153a"/>
<circle cx="82.10" cy="471.52" r="1.0" fill="#d8153a"/>
<circle cx="81.30" cy="478.78" r="1.0" fill="#d8153a"/>
<circle cx="84.50" cy="473.52" r="1.0" fill="#d8153a"/>
<circle cx="81.30" cy="497.41" r="1.0" fill="#d8153a"/>
<circle cx="89.30" cy="496.59" r="1.0" fill="#d8153a"/>
<circle cx="82.10" cy="498.98" r="1.0" fill="#d8153a"/>
<circle cx="79.70" cy="500.66" r="1.0" fill="#d8153a"/>
<circle cx="78.90" cy="497.92" r="1.0" fill="#d8153a"/>
<circle cx="88.50" cy="502.11" r="1.0" fill="#d8153a"/>
<circle cx="86.10" cy="482.98" r="1.0" fill="#d8153a"/>
<circle cx="89.30" cy="499.65" r="1.0" fill="#d8153a"/>
<circle cx="78.65" cy="499.77" r="1.0" fill="#d8153a"/>
<circle cx="88.50" cy="493.30" r="1.0" fill="#d8153a"/>
<circle cx="82.10" cy="481.96" r="1.0" fill="#d8153a"/>
<circle cx="84.50" cy="468.41" r="1.0" fill="#d8153a"/>
<circle cx="86.10" cy="494.59" r="1.0" fill="#d8153a"/>
<circle cx="79.85" cy="498.45" r="1.0" fill="#d8153a"/>
<circle cx="84.50" cy="504.82" r="1.0" fill="#d8153a"/>
<circle cx="86.10" cy="467.54" r="1.0" fill="#d8153a"/>
<line x1="82.20" y1="467.54" x2="86.80" y2="467.54" stroke="#6a1020" stroke-width="1.0" />
<line x1="82.20" y1="504.82" x2="86.80" y2="504.82" stroke="#6a1020" stroke-width="1.0" />
<line x1="79.00" y1="493.14" x2="90.00" y2="493.14" stroke="#a01030" stroke-width="1.3" />
<line x1="101.50" y1="460.50" x2="101.50" y2="495.55" stroke="#5a9a5a" stroke-width="0.9" />
<circle cx="96.36" cy="483.87" r="1.0" fill="#135a18"/>
<circle cx="100.64" cy="473.99" r="1.0" fill="#135a18"/>
<circle cx="98.85" cy="484.73" r="1.0" fill="#135a18"/>
<circle cx="105.67" cy="485.87" r="1.0" fill="#135a18"/>
<circle cx="101.48" cy="493.29" r="1.0" fill="#135a18"/>
<circle cx="104.38" cy="481.04" r="1.0" fill="#135a18"/>
<circle cx="97.79" cy="479.28" r="1.0" fill="#135a18"/>
<circle cx="101.73" cy="484.44" r="1.0" fill="#135a18"/>
<circle cx="105.47" cy="485.19" r="1.0" fill="#135a18"/>
<circle cx="101.67" cy="490.45" r="1.0" fill="#135a18"/>
<circle cx="104.84" cy="478.23" r="1.0" fill="#135a18"/>
<circle cx="106.32" cy="483.25" r="1.0" fill="#135a18"/>
<circle cx="100.70" cy="476.27" r="1.0" fill="#135a18"/>
<circle cx="95.53" cy="483.29" r="1.0" fill="#135a18"/>
<circle cx="104.88" cy="481.67" r="1.0" fill="#135a18"/>
<circle cx="96.83" cy="483.78" r="1.0" fill="#135a18"/>
<circle cx="95.59" cy="482.78" r="1.0" fill="#135a18"/>
<circle cx="104.34" cy="480.55" r="1.0" fill="#135a18"/>
<circle cx="104.04" cy="488.15" r="1.0" fill="#135a18"/>
<circle cx="105.00" cy="486.16" r="1.0" fill="#135a18"/>
<circle cx="106.88" cy="484.11" r="1.0" fill="#135a18"/>
<circle cx="97.65" cy="481.73" r="1.0" fill="#135a18"/>
<circle cx="96.62" cy="481.22" r="1.0" fill="#135a18"/>
<circle cx="97.02" cy="484.73" r="1.0" fill="#135a18"/>
<circle cx="107.28" cy="483.18" r="1.0" fill="#135a18"/>
<circle cx="98.36" cy="487.57" r="1.0" fill="#135a18"/>
<circle cx="97.74" cy="480.26" r="1.0" fill="#135a18"/>
<circle cx="95.70" cy="482.73" r="1.0" fill="#135a18"/>
<circle cx="96.98" cy="485.99" r="1.0" fill="#135a18"/>
<circle cx="95.88" cy="483.12" r="1.0" fill="#135a18"/>
<circle cx="99.65" cy="479.96" r="1.0" fill="#135a18"/>
<circle cx="97.26" cy="481.72" r="1.0" fill="#135a18"/>
<circle cx="99.70" cy="478.56" r="1.0" fill="#135a18"/>
<circle cx="105.72" cy="486.21" r="1.0" fill="#135a18"/>
<circle cx="98.28" cy="486.68" r="1.0" fill="#135a18"/>
<circle cx="105.39" cy="484.59" r="1.0" fill="#135a18"/>
<circle cx="104.80" cy="482.44" r="1.0" fill="#135a18"/>
<circle cx="102.33" cy="478.80" r="1.0" fill="#135a18"/>
<circle cx="102.82" cy="482.52" r="1.0" fill="#135a18"/>
<circle cx="103.46" cy="488.48" r="1.0" fill="#135a18"/>
<circle cx="102.96" cy="483.74" r="1.0" fill="#135a18"/>
<circle cx="98.92" cy="478.96" r="1.0" fill="#135a18"/>
<circle cx="99.65" cy="479.19" r="1.0" fill="#135a18"/>
<circle cx="98.46" cy="485.52" r="1.0" fill="#135a18"/>
<circle cx="101.21" cy="473.10" r="1.0" fill="#135a18"/>
<circle cx="106.26" cy="486.07" r="1.0" fill="#135a18"/>
<circle cx="100.21" cy="482.99" r="1.0" fill="#135a18"/>
<circle cx="96.29" cy="481.92" r="1.0" fill="#135a18"/>
<circle cx="100.99" cy="482.36" r="1.0" fill="#135a18"/>
<circle cx="105.33" cy="484.74" r="1.0" fill="#135a18"/>
<circle cx="101.23" cy="491.17" r="1.0" fill="#135a18"/>
<circle cx="104.37" cy="483.73" r="1.0" fill="#135a18"/>
<circle cx="101.29" cy="463.75" r="1.0" fill="#135a18"/>
<circle cx="96.11" cy="482.73" r="1.0" fill="#135a18"/>
<circle cx="103.71" cy="480.84" r="1.0" fill="#135a18"/>
<circle cx="98.12" cy="487.82" r="1.0" fill="#135a18"/>
<circle cx="99.04" cy="485.56" r="1.0" fill="#135a18"/>
<circle cx="99.65" cy="483.41" r="1.0" fill="#135a18"/>
<circle cx="100.41" cy="474.65" r="1.0" fill="#135a18"/>
<circle cx="96.24" cy="484.73" r="1.0" fill="#135a18"/>
<circle cx="95.78" cy="484.20" r="1.0" fill="#135a18"/>
<circle cx="105.63" cy="479.33" r="1.0" fill="#135a18"/>
<circle cx="103.74" cy="486.02" r="1.0" fill="#135a18"/>
<circle cx="106.55" cy="484.96" r="1.0" fill="#135a18"/>
<circle cx="101.48" cy="495.03" r="1.0" fill="#135a18"/>
<circle cx="105.61" cy="479.27" r="1.0" fill="#135a18"/>
<circle cx="105.69" cy="480.79" r="1.0" fill="#135a18"/>
<circle cx="102.10" cy="475.35" r="1.0" fill="#135a18"/>
<circle cx="102.05" cy="482.66" r="1.0" fill="#135a18"/>
<circle cx="101.62" cy="477.43" r="1.0" fill="#135a18"/>
<circle cx="98.94" cy="478.87" r="1.0" fill="#135a18"/>
<circle cx="99.59" cy="481.76" r="1.0" fill="#135a18"/>
<circle cx="104.38" cy="480.95" r="1.0" fill="#135a18"/>
<circle cx="99.90" cy="476.27" r="1.0" fill="#135a18"/>
<circle cx="105.58" cy="480.81" r="1.0" fill="#135a18"/>
<circle cx="101.75" cy="483.96" r="1.0" fill="#135a18"/>
<circle cx="102.95" cy="480.23" r="1.0" fill="#135a18"/>
<circle cx="102.44" cy="473.94" r="1.0" fill="#135a18"/>
<circle cx="102.62" cy="488.80" r="1.0" fill="#135a18"/>
<circle cx="96.93" cy="483.73" r="1.0" fill="#135a18"/>
<circle cx="98.29" cy="484.80" r="1.0" fill="#135a18"/>
<circle cx="95.55" cy="482.39" r="1.0" fill="#135a18"/>
<circle cx="96.90" cy="486.16" r="1.0" fill="#135a18"/>
<circle cx="103.70" cy="476.30" r="1.0" fill="#135a18"/>
<circle cx="102.60" cy="478.97" r="1.0" fill="#135a18"/>
<circle cx="106.29" cy="485.76" r="1.0" fill="#135a18"/>
<circle cx="103.90" cy="487.62" r="1.0" fill="#135a18"/>
<circle cx="99.29" cy="486.00" r="1.0" fill="#135a18"/>
<circle cx="103.84" cy="489.59" r="1.0" fill="#135a18"/>
<circle cx="106.05" cy="485.48" r="1.0" fill="#135a18"/>
<circle cx="100.66" cy="482.18" r="1.0" fill="#135a18"/>
<circle cx="96.60" cy="481.33" r="1.0" fill="#135a18"/>
<circle cx="99.02" cy="481.10" r="1.0" fill="#135a18"/>
<circle cx="97.37" cy="484.42" r="1.0" fill="#135a18"/>
<circle cx="99.71" cy="485.62" r="1.0" fill="#135a18"/>
<circle cx="98.62" cy="477.76" r="1.0" fill="#135a18"/>
<circle cx="103.44" cy="487.59" r="1.0" fill="#135a18"/>
<circle cx="105.62" cy="486.98" r="1.0" fill="#135a18"/>
<circle cx="97.84" cy="481.31" r="1.0" fill="#135a18"/>
<circle cx="104.94" cy="480.90" r="1.0" fill="#135a18"/>
<circle cx="102.34" cy="477.97" r="1.0" fill="#135a18"/>
<circle cx="101.10" cy="483.72" r="1.0" fill="#135a18"/>
<circle cx="105.98" cy="480.54" r="1.0" fill="#135a18"/>
<circle cx="100.61" cy="489.18" r="1.0" fill="#135a18"/>
<circle cx="105.24" cy="480.63" r="1.0" fill="#135a18"/>
<circle cx="95.85" cy="483.29" r="1.0" fill="#135a18"/>
<circle cx="107.14" cy="483.31" r="1.0" fill="#135a18"/>
<circle cx="99.69" cy="489.37" r="1.0" fill="#135a18"/>
<circle cx="96.95" cy="486.50" r="1.0" fill="#135a18"/>
<circle cx="104.37" cy="487.96" r="1.0" fill="#135a18"/>
<circle cx="104.43" cy="484.66" r="1.0" fill="#135a18"/>
<circle cx="104.08" cy="483.29" r="1.0" fill="#135a18"/>
<circle cx="104.77" cy="480.80" r="1.0" fill="#135a18"/>
<circle cx="99.90" cy="479.96" r="1.0" fill="#135a18"/>
<circle cx="96.95" cy="481.16" r="1.0" fill="#135a18"/>
<circle cx="99.89" cy="487.91" r="1.0" fill="#135a18"/>
<circle cx="105.84" cy="486.33" r="1.0" fill="#135a18"/>
<circle cx="107.18" cy="481.85" r="1.0" fill="#135a18"/>
<circle cx="99.98" cy="489.56" r="1.0" fill="#135a18"/>
<circle cx="101.07" cy="489.70" r="1.0" fill="#135a18"/>
<circle cx="100.67" cy="480.57" r="1.0" fill="#135a18"/>
<circle cx="104.78" cy="487.51" r="1.0" fill="#135a18"/>
<circle cx="97.47" cy="478.76" r="1.0" fill="#135a18"/>
<circle cx="102.87" cy="475.37" r="1.0" fill="#135a18"/>
<circle cx="98.13" cy="482.16" r="1.0" fill="#135a18"/>
<circle cx="102.42" cy="482.02" r="1.0" fill="#135a18"/>
<circle cx="99.89" cy="475.63" r="1.0" fill="#135a18"/>
<circle cx="97.00" cy="480.42" r="1.0" fill="#135a18"/>
<circle cx="106.35" cy="483.02" r="1.0" fill="#135a18"/>
<circle cx="101.58" cy="480.05" r="1.0" fill="#135a18"/>
<circle cx="106.87" cy="484.64" r="1.0" fill="#135a18"/>
<circle cx="106.16" cy="482.91" r="1.0" fill="#135a18"/>
<circle cx="104.65" cy="480.82" r="1.0" fill="#135a18"/>
<circle cx="96.23" cy="483.08" r="1.0" fill="#135a18"/>
<circle cx="102.66" cy="486.47" r="1.0" fill="#135a18"/>
<circle cx="107.32" cy="482.00" r="1.0" fill="#135a18"/>
<circle cx="101.60" cy="483.57" r="1.0" fill="#135a18"/>
<circle cx="97.49" cy="479.34" r="1.0" fill="#135a18"/>
<circle cx="101.16" cy="495.55" r="1.0" fill="#135a18"/>
<circle cx="101.74" cy="460.50" r="1.0" fill="#135a18"/>
<line x1="99.20" y1="460.50" x2="103.80" y2="460.50" stroke="#5a9a5a" stroke-width="1.0" />
<line x1="99.20" y1="495.55" x2="103.80" y2="495.55" stroke="#5a9a5a" stroke-width="1.0" />
<line x1="96.00" y1="483.00" x2="107.00" y2="483.00" stroke="#cfeccf" stroke-width="1.3" />
<polyline points="67.10,427.40 67.10,423.60 101.40,423.60 101.40,427.40" fill="none" stroke="#333" stroke-width="0.9"/>
<text x="84.25" y="423.40" font-size="7.2" text-anchor="middle" fill="#222" stroke="#222" stroke-width="0.15" font-weight="normal" font-style="normal" >*</text>
<polyline points="67.70,442.40 67.70,438.70 81.50,438.70 81.50,442.40" fill="none" stroke="#333" stroke-width="0.9"/>
<text x="74.60" y="438.50" font-size="7.2" text-anchor="middle" fill="#222" stroke="#222" stroke-width="0.15" font-weight="normal" font-style="normal" >***</text>
<polyline points="87.70,451.10 87.70,447.40 101.40,447.40 101.40,451.10" fill="none" stroke="#333" stroke-width="0.9"/>
<text x="94.55" y="447.20" font-size="7.2" text-anchor="middle" fill="#222" stroke="#222" stroke-width="0.15" font-weight="normal" font-style="normal" >****</text>
<text x="0" y="0" font-size="7.5" fill="#1f1f1f" stroke="#1f1f1f" stroke-width="0.15" text-anchor="end" transform="translate(71.80,535.70) rotate(-45)">Nadir</text>
<text x="0" y="0" font-size="7.5" fill="#1f1f1f" stroke="#1f1f1f" stroke-width="0.15" text-anchor="end" transform="translate(88.80,535.70) rotate(-45)">Recovery</text>
<text x="0" y="0" font-size="7.5" fill="#1f1f1f" stroke="#1f1f1f" stroke-width="0.15" text-anchor="end" transform="translate(105.80,535.70) rotate(-45)">HC</text>
<line x1="156.50" y1="436.60" x2="156.50" y2="528.00" stroke="#222" stroke-width="1.0" />
<line x1="154.00" y1="527.50" x2="212.50" y2="527.50" stroke="#222" stroke-width="1.0" />
<line x1="154.10" y1="527.50" x2="156.50" y2="527.50" stroke="#222" stroke-width="0.9" />
<text x="150.70" y="530.20" font-size="7.7" text-anchor="end" fill="#1f1f1f" stroke="#1f1f1f" stroke-width="0.15" font-weight="normal" font-style="normal" >1</text>
<line x1="154.10" y1="506.02" x2="156.50" y2="506.02" stroke="#222" stroke-width="0.9" />
<text x="150.70" y="508.72" font-size="7.7" text-anchor="end" fill="#1f1f1f" stroke="#1f1f1f" stroke-width="0.15" font-weight="normal" font-style="normal" >10</text>
<line x1="154.10" y1="484.55" x2="156.50" y2="484.55" stroke="#222" stroke-width="0.9" />
<text x="150.70" y="487.25" font-size="7.7" text-anchor="end" fill="#1f1f1f" stroke="#1f1f1f" stroke-width="0.15" font-weight="normal" font-style="normal" >100</text>
<line x1="154.10" y1="463.08" x2="156.50" y2="463.08" stroke="#222" stroke-width="0.9" />
<text x="150.70" y="465.78" font-size="7.7" text-anchor="end" fill="#1f1f1f" stroke="#1f1f1f" stroke-width="0.15" font-weight="normal" font-style="normal" >1000</text>
<line x1="154.10" y1="441.60" x2="156.50" y2="441.60" stroke="#222" stroke-width="0.9" />
<text x="150.70" y="444.30" font-size="7.7" text-anchor="end" fill="#1f1f1f" stroke="#1f1f1f" stroke-width="0.15" font-weight="normal" font-style="normal" >10000</text>
<line x1="168.50" y1="527.50" x2="168.50" y2="529.70" stroke="#222" stroke-width="0.9" />
<line x1="185.50" y1="527.50" x2="185.50" y2="529.70" stroke="#222" stroke-width="0.9" />
<line x1="202.50" y1="527.50" x2="202.50" y2="529.70" stroke="#222" stroke-width="0.9" />
<text x="0" y="0" font-size="8.8" font-weight="bold" fill="#1a1a1a" text-anchor="middle" textLength="13.6" lengthAdjust="spacingAndGlyphs" transform="translate(123.20,481.85) rotate(-90)">MPM</text>
<text x="185.00" y="412.00" font-size="7.3" text-anchor="middle" fill="#333" stroke="#333" stroke-width="0.15" font-weight="normal" font-style="italic" >Actinomyces</text>
<line x1="168.50" y1="446.97" x2="168.50" y2="505.38" stroke="#1a2555" stroke-width="0.9" />
<circle cx="168.50" cy="483.75" r="1.0" fill="#1c2f84"/>
<circle cx="168.50" cy="486.84" r="1.0" fill="#1c2f84"/>
<circle cx="170.10" cy="487.63" r="1.0" fill="#1c2f84"/>
<circle cx="168.50" cy="489.18" r="1.0" fill="#1c2f84"/>
<circle cx="166.10" cy="487.25" r="1.0" fill="#1c2f84"/>
<circle cx="170.10" cy="484.57" r="1.0" fill="#1c2f84"/>
<circle cx="168.50" cy="492.86" r="1.0" fill="#1c2f84"/>
<circle cx="168.50" cy="494.58" r="1.0" fill="#1c2f84"/>
<circle cx="168.50" cy="480.11" r="1.0" fill="#1c2f84"/>
<circle cx="168.50" cy="474.84" r="1.0" fill="#1c2f84"/>
<circle cx="170.10" cy="478.99" r="1.0" fill="#1c2f84"/>
<circle cx="168.50" cy="477.18" r="1.0" fill="#1c2f84"/>
<circle cx="168.50" cy="470.93" r="1.0" fill="#1c2f84"/>
<circle cx="170.90" cy="475.19" r="1.0" fill="#1c2f84"/>
<circle cx="166.90" cy="485.07" r="1.0" fill="#1c2f84"/>
<circle cx="170.10" cy="491.48" r="1.0" fill="#1c2f84"/>
<circle cx="167.70" cy="491.12" r="1.0" fill="#1c2f84"/>
<circle cx="170.10" cy="470.33" r="1.0" fill="#1c2f84"/>
<circle cx="170.90" cy="480.68" r="1.0" fill="#1c2f84"/>
<circle cx="166.10" cy="488.97" r="1.0" fill="#1c2f84"/>
<circle cx="170.10" cy="495.50" r="1.0" fill="#1c2f84"/>
<circle cx="165.30" cy="491.23" r="1.0" fill="#1c2f84"/>
<circle cx="171.70" cy="488.53" r="1.0" fill="#1c2f84"/>
<circle cx="164.50" cy="488.02" r="1.0" fill="#1c2f84"/>
<circle cx="168.50" cy="465.99" r="1.0" fill="#1c2f84"/>
<circle cx="166.10" cy="471.41" r="1.0" fill="#1c2f84"/>
<circle cx="166.90" cy="478.96" r="1.0" fill="#1c2f84"/>
<circle cx="174.10" cy="488.33" r="1.0" fill="#1c2f84"/>
<circle cx="172.50" cy="484.50" r="1.0" fill="#1c2f84"/>
<circle cx="168.00" cy="488.48" r="1.0" fill="#1c2f84"/>
<circle cx="168.50" cy="496.81" r="1.0" fill="#1c2f84"/>
<circle cx="166.10" cy="475.17" r="1.0" fill="#1c2f84"/>
<circle cx="164.50" cy="485.86" r="1.0" fill="#1c2f84"/>
<circle cx="171.70" cy="490.86" r="1.0" fill="#1c2f84"/>
<circle cx="166.90" cy="469.56" r="1.0" fill="#1c2f84"/>
<circle cx="166.90" cy="495.34" r="1.0" fill="#1c2f84"/>
<circle cx="166.10" cy="483.56" r="1.0" fill="#1c2f84"/>
<circle cx="166.10" cy="480.57" r="1.0" fill="#1c2f84"/>
<circle cx="169.30" cy="481.68" r="1.0" fill="#1c2f84"/>
<circle cx="172.50" cy="478.42" r="1.0" fill="#1c2f84"/>
<circle cx="164.50" cy="479.31" r="1.0" fill="#1c2f84"/>
<circle cx="171.70" cy="471.03" r="1.0" fill="#1c2f84"/>
<circle cx="171.70" cy="494.17" r="1.0" fill="#1c2f84"/>
<circle cx="164.50" cy="481.18" r="1.0" fill="#1c2f84"/>
<circle cx="173.30" cy="480.76" r="1.0" fill="#1c2f84"/>
<circle cx="168.50" cy="499.07" r="1.0" fill="#1c2f84"/>
<circle cx="172.50" cy="476.12" r="1.0" fill="#1c2f84"/>
<circle cx="163.70" cy="471.25" r="1.0" fill="#1c2f84"/>
<circle cx="173.03" cy="488.14" r="1.0" fill="#1c2f84"/>
<circle cx="170.90" cy="477.20" r="1.0" fill="#1c2f84"/>
<circle cx="162.88" cy="487.62" r="1.0" fill="#1c2f84"/>
<circle cx="174.10" cy="485.68" r="1.0" fill="#1c2f84"/>
<circle cx="165.89" cy="485.69" r="1.0" fill="#1c2f84"/>
<circle cx="163.70" cy="475.58" r="1.0" fill="#1c2f84"/>
<circle cx="170.90" cy="465.90" r="1.0" fill="#1c2f84"/>
<circle cx="170.90" cy="482.62" r="1.0" fill="#1c2f84"/>
<circle cx="165.30" cy="494.47" r="1.0" fill="#1c2f84"/>
<circle cx="174.10" cy="475.00" r="1.0" fill="#1c2f84"/>
<circle cx="168.50" cy="505.38" r="1.0" fill="#1c2f84"/>
<circle cx="168.50" cy="446.97" r="1.0" fill="#1c2f84"/>
<line x1="166.20" y1="446.97" x2="170.80" y2="446.97" stroke="#1a2555" stroke-width="1.0" />
<line x1="166.20" y1="505.38" x2="170.80" y2="505.38" stroke="#1a2555" stroke-width="1.0" />
<line x1="163.00" y1="484.12" x2="174.00" y2="484.12" stroke="#1a2555" stroke-width="1.3" />
<line x1="185.50" y1="462.86" x2="185.50" y2="506.88" stroke="#6a1020" stroke-width="0.9" />
<circle cx="185.50" cy="488.60" r="1.0" fill="#d8153a"/>
<circle cx="185.50" cy="485.22" r="1.0" fill="#d8153a"/>
<circle cx="185.50" cy="492.08" r="1.0" fill="#d8153a"/>
<circle cx="185.50" cy="496.68" r="1.0" fill="#d8153a"/>
<circle cx="185.50" cy="499.03" r="1.0" fill="#d8153a"/>
<circle cx="185.50" cy="494.26" r="1.0" fill="#d8153a"/>
<circle cx="187.90" cy="492.54" r="1.0" fill="#d8153a"/>
<circle cx="187.10" cy="487.68" r="1.0" fill="#d8153a"/>
<circle cx="187.10" cy="484.42" r="1.0" fill="#d8153a"/>
<circle cx="185.50" cy="480.91" r="1.0" fill="#d8153a"/>
<circle cx="183.10" cy="488.72" r="1.0" fill="#d8153a"/>
<circle cx="187.10" cy="490.70" r="1.0" fill="#d8153a"/>
<circle cx="184.70" cy="486.87" r="1.0" fill="#d8153a"/>
<circle cx="185.50" cy="478.94" r="1.0" fill="#d8153a"/>
<circle cx="183.90" cy="490.67" r="1.0" fill="#d8153a"/>
<circle cx="182.30" cy="491.97" r="1.0" fill="#d8153a"/>
<circle cx="188.70" cy="486.95" r="1.0" fill="#d8153a"/>
<circle cx="188.70" cy="489.34" r="1.0" fill="#d8153a"/>
<circle cx="190.30" cy="492.25" r="1.0" fill="#d8153a"/>
<circle cx="179.90" cy="491.64" r="1.0" fill="#d8153a"/>
<circle cx="181.50" cy="490.22" r="1.0" fill="#d8153a"/>
<circle cx="183.10" cy="485.64" r="1.0" fill="#d8153a"/>
<circle cx="183.90" cy="492.96" r="1.0" fill="#d8153a"/>
<circle cx="187.10" cy="495.50" r="1.0" fill="#d8153a"/>
<circle cx="189.50" cy="484.35" r="1.0" fill="#d8153a"/>
<circle cx="183.90" cy="483.72" r="1.0" fill="#d8153a"/>
<circle cx="191.10" cy="489.35" r="1.0" fill="#d8153a"/>
<circle cx="187.90" cy="497.09" r="1.0" fill="#d8153a"/>
<circle cx="184.07" cy="490.61" r="1.0" fill="#d8153a"/>
<circle cx="190.30" cy="485.90" r="1.0" fill="#d8153a"/>
<circle cx="187.90" cy="480.55" r="1.0" fill="#d8153a"/>
<circle cx="187.90" cy="499.06" r="1.0" fill="#d8153a"/>
<circle cx="182.27" cy="490.87" r="1.0" fill="#d8153a"/>
<circle cx="181.49" cy="491.92" r="1.0" fill="#d8153a"/>
<circle cx="179.90" cy="489.09" r="1.0" fill="#d8153a"/>
<circle cx="183.90" cy="497.90" r="1.0" fill="#d8153a"/>
<circle cx="181.50" cy="484.42" r="1.0" fill="#d8153a"/>
<circle cx="190.47" cy="490.22" r="1.0" fill="#d8153a"/>
<circle cx="186.44" cy="491.90" r="1.0" fill="#d8153a"/>
<circle cx="183.90" cy="495.07" r="1.0" fill="#d8153a"/>
<circle cx="187.78" cy="489.79" r="1.0" fill="#d8153a"/>
<circle cx="186.14" cy="484.69" r="1.0" fill="#d8153a"/>
<circle cx="184.10" cy="484.50" r="1.0" fill="#d8153a"/>
<circle cx="188.28" cy="492.51" r="1.0" fill="#d8153a"/>
<circle cx="183.10" cy="481.01" r="1.0" fill="#d8153a"/>
<circle cx="182.30" cy="496.17" r="1.0" fill="#d8153a"/>
<circle cx="186.42" cy="488.24" r="1.0" fill="#d8153a"/>
<circle cx="181.50" cy="487.68" r="1.0" fill="#d8153a"/>
<circle cx="188.87" cy="484.71" r="1.0" fill="#d8153a"/>
<circle cx="187.44" cy="487.21" r="1.0" fill="#d8153a"/>
<circle cx="189.57" cy="491.28" r="1.0" fill="#d8153a"/>
<circle cx="179.90" cy="484.99" r="1.0" fill="#d8153a"/>
<circle cx="181.50" cy="480.37" r="1.0" fill="#d8153a"/>
<circle cx="184.77" cy="489.21" r="1.0" fill="#d8153a"/>
<circle cx="181.36" cy="488.84" r="1.0" fill="#d8153a"/>
<circle cx="190.30" cy="480.63" r="1.0" fill="#d8153a"/>
<circle cx="191.10" cy="487.47" r="1.0" fill="#d8153a"/>
<circle cx="189.50" cy="498.37" r="1.0" fill="#d8153a"/>
<circle cx="185.50" cy="506.88" r="1.0" fill="#d8153a"/>
<circle cx="185.50" cy="462.86" r="1.0" fill="#d8153a"/>
<line x1="183.20" y1="462.86" x2="187.80" y2="462.86" stroke="#6a1020" stroke-width="1.0" />
<line x1="183.20" y1="506.88" x2="187.80" y2="506.88" stroke="#6a1020" stroke-width="1.0" />
<line x1="180.00" y1="489.27" x2="191.00" y2="489.27" stroke="#a01030" stroke-width="1.3" />
<line x1="202.50" y1="457.49" x2="202.50" y2="511.82" stroke="#5a9a5a" stroke-width="0.9" />
<circle cx="204.15" cy="490.43" r="1.0" fill="#135a18"/>
<circle cx="196.89" cy="494.01" r="1.0" fill="#135a18"/>
<circle cx="200.06" cy="499.72" r="1.0" fill="#135a18"/>
<circle cx="201.51" cy="504.84" r="1.0" fill="#135a18"/>
<circle cx="205.14" cy="490.98" r="1.0" fill="#135a18"/>
<circle cx="205.04" cy="493.98" r="1.0" fill="#135a18"/>
<circle cx="206.86" cy="492.23" r="1.0" fill="#135a18"/>
<circle cx="199.55" cy="487.31" r="1.0" fill="#135a18"/>
<circle cx="201.93" cy="502.96" r="1.0" fill="#135a18"/>
<circle cx="198.20" cy="499.89" r="1.0" fill="#135a18"/>
<circle cx="200.46" cy="486.77" r="1.0" fill="#135a18"/>
<circle cx="202.63" cy="499.33" r="1.0" fill="#135a18"/>
<circle cx="199.65" cy="486.16" r="1.0" fill="#135a18"/>
<circle cx="198.86" cy="492.66" r="1.0" fill="#135a18"/>
<circle cx="204.61" cy="497.89" r="1.0" fill="#135a18"/>
<circle cx="203.09" cy="500.59" r="1.0" fill="#135a18"/>
<circle cx="199.83" cy="489.52" r="1.0" fill="#135a18"/>
<circle cx="204.01" cy="495.57" r="1.0" fill="#135a18"/>
<circle cx="206.22" cy="498.08" r="1.0" fill="#135a18"/>
<circle cx="199.38" cy="501.92" r="1.0" fill="#135a18"/>
<circle cx="205.75" cy="490.98" r="1.0" fill="#135a18"/>
<circle cx="205.24" cy="493.59" r="1.0" fill="#135a18"/>
<circle cx="200.12" cy="494.42" r="1.0" fill="#135a18"/>
<circle cx="198.57" cy="492.22" r="1.0" fill="#135a18"/>
<circle cx="207.58" cy="498.10" r="1.0" fill="#135a18"/>
<circle cx="200.56" cy="490.81" r="1.0" fill="#135a18"/>
<circle cx="199.51" cy="487.53" r="1.0" fill="#135a18"/>
<circle cx="197.77" cy="497.69" r="1.0" fill="#135a18"/>
<circle cx="206.98" cy="495.11" r="1.0" fill="#135a18"/>
<circle cx="204.08" cy="497.87" r="1.0" fill="#135a18"/>
<circle cx="205.98" cy="491.81" r="1.0" fill="#135a18"/>
<circle cx="204.90" cy="499.97" r="1.0" fill="#135a18"/>
<circle cx="202.70" cy="482.82" r="1.0" fill="#135a18"/>
<circle cx="207.55" cy="498.51" r="1.0" fill="#135a18"/>
<circle cx="200.57" cy="495.10" r="1.0" fill="#135a18"/>
<circle cx="202.73" cy="477.34" r="1.0" fill="#135a18"/>
<circle cx="205.55" cy="489.53" r="1.0" fill="#135a18"/>
<circle cx="203.61" cy="487.49" r="1.0" fill="#135a18"/>
<circle cx="206.30" cy="491.28" r="1.0" fill="#135a18"/>
<circle cx="203.79" cy="493.61" r="1.0" fill="#135a18"/>
<circle cx="205.43" cy="495.26" r="1.0" fill="#135a18"/>
<circle cx="201.83" cy="471.18" r="1.0" fill="#135a18"/>
<circle cx="199.51" cy="491.12" r="1.0" fill="#135a18"/>
<circle cx="201.82" cy="476.42" r="1.0" fill="#135a18"/>
<circle cx="197.90" cy="492.21" r="1.0" fill="#135a18"/>
<circle cx="198.97" cy="493.93" r="1.0" fill="#135a18"/>
<circle cx="197.55" cy="496.40" r="1.0" fill="#135a18"/>
<circle cx="199.48" cy="493.77" r="1.0" fill="#135a18"/>
<circle cx="202.74" cy="509.25" r="1.0" fill="#135a18"/>
<circle cx="201.12" cy="488.63" r="1.0" fill="#135a18"/>
<circle cx="200.47" cy="496.17" r="1.0" fill="#135a18"/>
<circle cx="200.77" cy="502.67" r="1.0" fill="#135a18"/>
<circle cx="199.27" cy="496.34" r="1.0" fill="#135a18"/>
<circle cx="207.78" cy="496.71" r="1.0" fill="#135a18"/>
<circle cx="203.31" cy="484.18" r="1.0" fill="#135a18"/>
<circle cx="204.15" cy="497.82" r="1.0" fill="#135a18"/>
<circle cx="199.45" cy="489.55" r="1.0" fill="#135a18"/>
<circle cx="202.69" cy="464.72" r="1.0" fill="#135a18"/>
<circle cx="199.00" cy="499.41" r="1.0" fill="#135a18"/>
<circle cx="201.14" cy="500.32" r="1.0" fill="#135a18"/>
<circle cx="204.55" cy="503.73" r="1.0" fill="#135a18"/>
<circle cx="204.60" cy="496.97" r="1.0" fill="#135a18"/>
<circle cx="203.55" cy="495.17" r="1.0" fill="#135a18"/>
<circle cx="203.17" cy="482.24" r="1.0" fill="#135a18"/>
<circle cx="203.44" cy="479.88" r="1.0" fill="#135a18"/>
<circle cx="205.73" cy="498.70" r="1.0" fill="#135a18"/>
<circle cx="201.72" cy="480.08" r="1.0" fill="#135a18"/>
<circle cx="196.81" cy="495.43" r="1.0" fill="#135a18"/>
<circle cx="199.86" cy="494.08" r="1.0" fill="#135a18"/>
<circle cx="201.39" cy="503.81" r="1.0" fill="#135a18"/>
<circle cx="199.15" cy="498.70" r="1.0" fill="#135a18"/>
<circle cx="205.25" cy="486.28" r="1.0" fill="#135a18"/>
<circle cx="206.96" cy="493.10" r="1.0" fill="#135a18"/>
<circle cx="200.80" cy="488.19" r="1.0" fill="#135a18"/>
<circle cx="203.90" cy="501.31" r="1.0" fill="#135a18"/>
<circle cx="202.12" cy="478.46" r="1.0" fill="#135a18"/>
<circle cx="207.41" cy="497.40" r="1.0" fill="#135a18"/>
<circle cx="201.69" cy="494.99" r="1.0" fill="#135a18"/>
<circle cx="199.49" cy="497.99" r="1.0" fill="#135a18"/>
<circle cx="199.09" cy="496.73" r="1.0" fill="#135a18"/>
<circle cx="203.57" cy="497.32" r="1.0" fill="#135a18"/>
<circle cx="200.25" cy="489.06" r="1.0" fill="#135a18"/>
<circle cx="202.83" cy="477.52" r="1.0" fill="#135a18"/>
<circle cx="207.13" cy="492.98" r="1.0" fill="#135a18"/>
<circle cx="201.67" cy="486.22" r="1.0" fill="#135a18"/>
<circle cx="200.82" cy="485.40" r="1.0" fill="#135a18"/>
<circle cx="207.91" cy="492.58" r="1.0" fill="#135a18"/>
<circle cx="202.58" cy="504.20" r="1.0" fill="#135a18"/>
<circle cx="198.61" cy="499.80" r="1.0" fill="#135a18"/>
<circle cx="197.57" cy="492.32" r="1.0" fill="#135a18"/>
<circle cx="199.87" cy="501.85" r="1.0" fill="#135a18"/>
<circle cx="202.76" cy="508.39" r="1.0" fill="#135a18"/>
<circle cx="205.23" cy="500.37" r="1.0" fill="#135a18"/>
<circle cx="201.88" cy="485.65" r="1.0" fill="#135a18"/>
<circle cx="198.52" cy="500.02" r="1.0" fill="#135a18"/>
<circle cx="200.75" cy="492.90" r="1.0" fill="#135a18"/>
<circle cx="206.73" cy="489.54" r="1.0" fill="#135a18"/>
<circle cx="202.91" cy="488.80" r="1.0" fill="#135a18"/>
<circle cx="203.71" cy="475.28" r="1.0" fill="#135a18"/>
<circle cx="203.19" cy="472.46" r="1.0" fill="#135a18"/>
<circle cx="202.07" cy="467.14" r="1.0" fill="#135a18"/>
<circle cx="205.02" cy="499.34" r="1.0" fill="#135a18"/>
<circle cx="205.04" cy="493.46" r="1.0" fill="#135a18"/>
<circle cx="203.02" cy="489.39" r="1.0" fill="#135a18"/>
<circle cx="199.99" cy="490.49" r="1.0" fill="#135a18"/>
<circle cx="204.67" cy="495.08" r="1.0" fill="#135a18"/>
<circle cx="201.63" cy="506.62" r="1.0" fill="#135a18"/>
<circle cx="202.32" cy="472.66" r="1.0" fill="#135a18"/>
<circle cx="201.61" cy="495.30" r="1.0" fill="#135a18"/>
<circle cx="207.68" cy="497.74" r="1.0" fill="#135a18"/>
<circle cx="207.23" cy="494.57" r="1.0" fill="#135a18"/>
<circle cx="199.45" cy="497.89" r="1.0" fill="#135a18"/>
<circle cx="202.52" cy="500.17" r="1.0" fill="#135a18"/>
<circle cx="199.47" cy="489.71" r="1.0" fill="#135a18"/>
<circle cx="207.15" cy="492.56" r="1.0" fill="#135a18"/>
<circle cx="207.22" cy="495.22" r="1.0" fill="#135a18"/>
<circle cx="199.64" cy="496.47" r="1.0" fill="#135a18"/>
<circle cx="204.45" cy="498.19" r="1.0" fill="#135a18"/>
<circle cx="203.07" cy="483.64" r="1.0" fill="#135a18"/>
<circle cx="199.88" cy="487.48" r="1.0" fill="#135a18"/>
<circle cx="205.02" cy="500.34" r="1.0" fill="#135a18"/>
<circle cx="203.07" cy="489.85" r="1.0" fill="#135a18"/>
<circle cx="206.26" cy="495.52" r="1.0" fill="#135a18"/>
<circle cx="203.06" cy="498.56" r="1.0" fill="#135a18"/>
<circle cx="196.54" cy="496.13" r="1.0" fill="#135a18"/>
<circle cx="200.54" cy="490.24" r="1.0" fill="#135a18"/>
<circle cx="201.31" cy="474.94" r="1.0" fill="#135a18"/>
<circle cx="207.61" cy="493.72" r="1.0" fill="#135a18"/>
<circle cx="203.60" cy="476.57" r="1.0" fill="#135a18"/>
<circle cx="203.50" cy="477.21" r="1.0" fill="#135a18"/>
<circle cx="199.98" cy="498.23" r="1.0" fill="#135a18"/>
<circle cx="199.22" cy="487.77" r="1.0" fill="#135a18"/>
<circle cx="207.21" cy="496.68" r="1.0" fill="#135a18"/>
<circle cx="204.70" cy="484.80" r="1.0" fill="#135a18"/>
<circle cx="197.44" cy="494.20" r="1.0" fill="#135a18"/>
<circle cx="202.20" cy="492.01" r="1.0" fill="#135a18"/>
<circle cx="197.18" cy="495.77" r="1.0" fill="#135a18"/>
<circle cx="205.57" cy="498.73" r="1.0" fill="#135a18"/>
<circle cx="206.10" cy="496.09" r="1.0" fill="#135a18"/>
<circle cx="198.24" cy="492.50" r="1.0" fill="#135a18"/>
<circle cx="202.19" cy="487.39" r="1.0" fill="#135a18"/>
<circle cx="202.97" cy="486.08" r="1.0" fill="#135a18"/>
<circle cx="200.25" cy="500.51" r="1.0" fill="#135a18"/>
<circle cx="207.21" cy="494.76" r="1.0" fill="#135a18"/>
<circle cx="201.18" cy="494.24" r="1.0" fill="#135a18"/>
<circle cx="198.64" cy="495.35" r="1.0" fill="#135a18"/>
<circle cx="202.87" cy="485.88" r="1.0" fill="#135a18"/>
<circle cx="205.41" cy="492.57" r="1.0" fill="#135a18"/>
<circle cx="202.21" cy="511.82" r="1.0" fill="#135a18"/>
<circle cx="202.39" cy="457.49" r="1.0" fill="#135a18"/>
<line x1="200.20" y1="457.49" x2="204.80" y2="457.49" stroke="#5a9a5a" stroke-width="1.0" />
<line x1="200.20" y1="511.82" x2="204.80" y2="511.82" stroke="#5a9a5a" stroke-width="1.0" />
<line x1="197.00" y1="494.00" x2="208.00" y2="494.00" stroke="#cfeccf" stroke-width="1.3" />
<polyline points="168.10,427.40 168.10,423.60 202.40,423.60 202.40,427.40" fill="none" stroke="#333" stroke-width="0.9"/>
<text x="185.25" y="423.40" font-size="7.2" text-anchor="middle" fill="#222" stroke="#222" stroke-width="0.15" font-weight="normal" font-style="normal" >****</text>
<polyline points="168.70,442.40 168.70,438.70 182.50,438.70 182.50,442.40" fill="none" stroke="#333" stroke-width="0.9"/>
<text x="175.60" y="438.50" font-size="7.2" text-anchor="middle" fill="#222" stroke="#222" stroke-width="0.15" font-weight="normal" font-style="normal" >**</text>
<polyline points="188.70,451.10 188.70,447.40 202.40,447.40 202.40,451.10" fill="none" stroke="#333" stroke-width="0.9"/>
<text x="195.55" y="447.20" font-size="7.2" text-anchor="middle" fill="#222" stroke="#222" stroke-width="0.15" font-weight="normal" font-style="normal" >*</text>
<text x="0" y="0" font-size="7.5" fill="#1f1f1f" stroke="#1f1f1f" stroke-width="0.15" text-anchor="end" transform="translate(172.80,535.70) rotate(-45)">Nadir</text>
<text x="0" y="0" font-size="7.5" fill="#1f1f1f" stroke="#1f1f1f" stroke-width="0.15" text-anchor="end" transform="translate(189.80,535.70) rotate(-45)">Recovery</text>
<text x="0" y="0" font-size="7.5" fill="#1f1f1f" stroke="#1f1f1f" stroke-width="0.15" text-anchor="end" transform="translate(206.80,535.70) rotate(-45)">HC</text>
<line x1="262.50" y1="436.60" x2="262.50" y2="528.00" stroke="#222" stroke-width="1.0" />
<line x1="260.00" y1="527.50" x2="318.50" y2="527.50" stroke="#222" stroke-width="1.0" />
<line x1="260.10" y1="527.50" x2="262.50" y2="527.50" stroke="#222" stroke-width="0.9" />
<text x="256.70" y="530.20" font-size="7.7" text-anchor="end" fill="#1f1f1f" stroke="#1f1f1f" stroke-width="0.15" font-weight="normal" font-style="normal" >1</text>
<line x1="260.10" y1="510.32" x2="262.50" y2="510.32" stroke="#222" stroke-width="0.9" />
<text x="256.70" y="513.02" font-size="7.7" text-anchor="end" fill="#1f1f1f" stroke="#1f1f1f" stroke-width="0.15" font-weight="normal" font-style="normal" >10</text>
<line x1="260.10" y1="493.14" x2="262.50" y2="493.14" stroke="#222" stroke-width="0.9" />
<text x="256.70" y="495.84" font-size="7.7" text-anchor="end" fill="#1f1f1f" stroke="#1f1f1f" stroke-width="0.15" font-weight="normal" font-style="normal" >100</text>
<line x1="260.10" y1="475.96" x2="262.50" y2="475.96" stroke="#222" stroke-width="0.9" />
<text x="256.70" y="478.66" font-size="7.7" text-anchor="end" fill="#1f1f1f" stroke="#1f1f1f" stroke-width="0.15" font-weight="normal" font-style="normal" >1000</text>
<line x1="260.10" y1="458.78" x2="262.50" y2="458.78" stroke="#222" stroke-width="0.9" />
<text x="256.70" y="461.48" font-size="7.7" text-anchor="end" fill="#1f1f1f" stroke="#1f1f1f" stroke-width="0.15" font-weight="normal" font-style="normal" >10000</text>
<line x1="260.10" y1="441.60" x2="262.50" y2="441.60" stroke="#222" stroke-width="0.9" />
<text x="256.70" y="444.30" font-size="7.7" text-anchor="end" fill="#1f1f1f" stroke="#1f1f1f" stroke-width="0.15" font-weight="normal" font-style="normal" >100000</text>
<line x1="274.50" y1="527.50" x2="274.50" y2="529.70" stroke="#222" stroke-width="0.9" />
<line x1="291.50" y1="527.50" x2="291.50" y2="529.70" stroke="#222" stroke-width="0.9" />
<line x1="308.50" y1="527.50" x2="308.50" y2="529.70" stroke="#222" stroke-width="0.9" />
<text x="0" y="0" font-size="8.8" font-weight="bold" fill="#1a1a1a" text-anchor="middle" textLength="13.6" lengthAdjust="spacingAndGlyphs" transform="translate(224.40,481.85) rotate(-90)">MPM</text>
<text x="291.00" y="412.00" font-size="7.3" text-anchor="middle" fill="#333" stroke="#333" stroke-width="0.15" font-weight="normal" font-style="italic" >Parabacteroides</text>
<line x1="274.50" y1="458.44" x2="274.50" y2="510.84" stroke="#1a2555" stroke-width="0.9" />
<circle cx="274.50" cy="510.30" r="1.0" fill="#1c2f84"/>
<circle cx="274.50" cy="503.59" r="1.0" fill="#1c2f84"/>
<circle cx="274.50" cy="507.90" r="1.0" fill="#1c2f84"/>
<circle cx="276.90" cy="510.01" r="1.0" fill="#1c2f84"/>
<circle cx="274.50" cy="487.38" r="1.0" fill="#1c2f84"/>
<circle cx="274.50" cy="489.11" r="1.0" fill="#1c2f84"/>
<circle cx="274.50" cy="493.99" r="1.0" fill="#1c2f84"/>
<circle cx="276.10" cy="486.60" r="1.0" fill="#1c2f84"/>
<circle cx="272.10" cy="510.84" r="1.0" fill="#1c2f84"/>
<circle cx="274.50" cy="498.77" r="1.0" fill="#1c2f84"/>
<circle cx="274.50" cy="478.80" r="1.0" fill="#1c2f84"/>
<circle cx="276.10" cy="494.73" r="1.0" fill="#1c2f84"/>
<circle cx="276.10" cy="497.31" r="1.0" fill="#1c2f84"/>
<circle cx="278.50" cy="510.84" r="1.0" fill="#1c2f84"/>
<circle cx="276.90" cy="503.65" r="1.0" fill="#1c2f84"/>
<circle cx="269.70" cy="510.84" r="1.0" fill="#1c2f84"/>
<circle cx="272.90" cy="493.38" r="1.0" fill="#1c2f84"/>
<circle cx="272.10" cy="503.14" r="1.0" fill="#1c2f84"/>
<circle cx="276.90" cy="508.25" r="1.0" fill="#1c2f84"/>
<circle cx="270.50" cy="504.21" r="1.0" fill="#1c2f84"/>
<circle cx="273.70" cy="496.93" r="1.0" fill="#1c2f84"/>
<circle cx="276.10" cy="506.63" r="1.0" fill="#1c2f84"/>
<circle cx="274.50" cy="481.81" r="1.0" fill="#1c2f84"/>
<circle cx="277.70" cy="493.75" r="1.0" fill="#1c2f84"/>
<circle cx="276.10" cy="489.81" r="1.0" fill="#1c2f84"/>
<circle cx="274.47" cy="510.84" r="1.0" fill="#1c2f84"/>
<circle cx="273.70" cy="506.25" r="1.0" fill="#1c2f84"/>
<circle cx="272.10" cy="507.41" r="1.0" fill="#1c2f84"/>
<circle cx="279.30" cy="503.98" r="1.0" fill="#1c2f84"/>
<circle cx="280.10" cy="509.36" r="1.0" fill="#1c2f84"/>
<circle cx="271.69" cy="510.84" r="1.0" fill="#1c2f84"/>
<circle cx="274.50" cy="458.44" r="1.0" fill="#1c2f84"/>
<line x1="272.20" y1="458.44" x2="276.80" y2="458.44" stroke="#1a2555" stroke-width="1.0" />
<line x1="272.20" y1="510.84" x2="276.80" y2="510.84" stroke="#1a2555" stroke-width="1.0" />
<line x1="269.00" y1="503.62" x2="280.00" y2="503.62" stroke="#1a2555" stroke-width="1.3" />
<circle cx="291.50" cy="502.89" r="1.0" fill="#d8153a"/>
<circle cx="291.50" cy="498.36" r="1.0" fill="#d8153a"/>
<circle cx="293.10" cy="504.00" r="1.0" fill="#d8153a"/>
<circle cx="293.10" cy="499.43" r="1.0" fill="#d8153a"/>
<circle cx="291.50" cy="507.97" r="1.0" fill="#d8153a"/>
<circle cx="291.50" cy="478.17" r="1.0" fill="#d8153a"/>
<circle cx="293.10" cy="497.18" r="1.0" fill="#d8153a"/>
<circle cx="289.90" cy="499.78" r="1.0" fill="#d8153a"/>
<circle cx="291.50" cy="496.39" r="1.0" fill="#d8153a"/>
<circle cx="289.10" cy="502.74" r="1.0" fill="#d8153a"/>
<circle cx="291.50" cy="494.37" r="1.0" fill="#d8153a"/>
<circle cx="289.90" cy="497.76" r="1.0" fill="#d8153a"/>
<circle cx="293.10" cy="506.58" r="1.0" fill="#d8153a"/>
<circle cx="293.10" cy="479.45" r="1.0" fill="#d8153a"/>
<circle cx="291.50" cy="512.04" r="1.0" fill="#d8153a"/>
<circle cx="291.50" cy="470.29" r="1.0" fill="#d8153a"/>
<line x1="308.50" y1="487.30" x2="308.50" y2="521.83" stroke="#5a9a5a" stroke-width="0.9" />
<circle cx="308.50" cy="504.51" r="1.0" fill="#135a18"/>
<circle cx="308.50" cy="508.19" r="1.0" fill="#135a18"/>
<circle cx="308.50" cy="517.30" r="1.0" fill="#135a18"/>
<circle cx="310.10" cy="505.55" r="1.0" fill="#135a18"/>
<circle cx="308.50" cy="512.29" r="1.0" fill="#135a18"/>
<circle cx="310.10" cy="508.98" r="1.0" fill="#135a18"/>
<circle cx="307.70" cy="506.58" r="1.0" fill="#135a18"/>
<circle cx="306.90" cy="509.44" r="1.0" fill="#135a18"/>
<circle cx="312.50" cy="508.92" r="1.0" fill="#135a18"/>
<circle cx="306.10" cy="507.83" r="1.0" fill="#135a18"/>
<circle cx="310.10" cy="516.68" r="1.0" fill="#135a18"/>
<circle cx="311.70" cy="506.48" r="1.0" fill="#135a18"/>
<circle cx="306.10" cy="505.55" r="1.0" fill="#135a18"/>
<circle cx="310.90" cy="511.83" r="1.0" fill="#135a18"/>
<circle cx="306.10" cy="512.25" r="1.0" fill="#135a18"/>
<circle cx="312.50" cy="510.80" r="1.0" fill="#135a18"/>
<circle cx="304.50" cy="509.52" r="1.0" fill="#135a18"/>
<circle cx="302.90" cy="508.73" r="1.0" fill="#135a18"/>
<circle cx="314.10" cy="508.12" r="1.0" fill="#135a18"/>
<circle cx="308.50" cy="515.34" r="1.0" fill="#135a18"/>
<circle cx="311.70" cy="504.72" r="1.0" fill="#135a18"/>
<circle cx="308.50" cy="510.08" r="1.0" fill="#135a18"/>
<circle cx="314.24" cy="509.32" r="1.0" fill="#135a18"/>
<circle cx="303.15" cy="508.52" r="1.0" fill="#135a18"/>
<circle cx="312.50" cy="512.86" r="1.0" fill="#135a18"/>
<circle cx="303.70" cy="512.13" r="1.0" fill="#135a18"/>
<circle cx="306.90" cy="516.19" r="1.0" fill="#135a18"/>
<circle cx="314.10" cy="512.08" r="1.0" fill="#135a18"/>
<circle cx="310.10" cy="503.07" r="1.0" fill="#135a18"/>
<circle cx="311.21" cy="512.09" r="1.0" fill="#135a18"/>
<circle cx="306.90" cy="503.63" r="1.0" fill="#135a18"/>
<circle cx="308.31" cy="512.29" r="1.0" fill="#135a18"/>
<circle cx="304.50" cy="506.54" r="1.0" fill="#135a18"/>
<circle cx="311.70" cy="515.37" r="1.0" fill="#135a18"/>
<circle cx="313.80" cy="510.95" r="1.0" fill="#135a18"/>
<circle cx="307.38" cy="511.56" r="1.0" fill="#135a18"/>
<circle cx="313.53" cy="511.55" r="1.0" fill="#135a18"/>
<circle cx="306.90" cy="518.28" r="1.0" fill="#135a18"/>
<circle cx="313.30" cy="505.84" r="1.0" fill="#135a18"/>
<circle cx="304.41" cy="509.01" r="1.0" fill="#135a18"/>
<circle cx="310.10" cy="513.67" r="1.0" fill="#135a18"/>
<circle cx="314.44" cy="513.06" r="1.0" fill="#135a18"/>
<circle cx="307.46" cy="511.36" r="1.0" fill="#135a18"/>
<circle cx="304.70" cy="509.93" r="1.0" fill="#135a18"/>
<circle cx="306.65" cy="506.96" r="1.0" fill="#135a18"/>
<circle cx="302.90" cy="505.48" r="1.0" fill="#135a18"/>
<circle cx="310.07" cy="509.49" r="1.0" fill="#135a18"/>
<circle cx="302.91" cy="507.45" r="1.0" fill="#135a18"/>
<circle cx="307.15" cy="509.76" r="1.0" fill="#135a18"/>
<circle cx="302.63" cy="513.14" r="1.0" fill="#135a18"/>
<circle cx="303.33" cy="508.81" r="1.0" fill="#135a18"/>
<circle cx="304.54" cy="512.25" r="1.0" fill="#135a18"/>
<circle cx="305.27" cy="508.00" r="1.0" fill="#135a18"/>
<circle cx="305.79" cy="512.46" r="1.0" fill="#135a18"/>
<circle cx="311.84" cy="507.93" r="1.0" fill="#135a18"/>
<circle cx="307.49" cy="508.85" r="1.0" fill="#135a18"/>
<circle cx="312.79" cy="506.71" r="1.0" fill="#135a18"/>
<circle cx="308.50" cy="502.13" r="1.0" fill="#135a18"/>
<circle cx="308.50" cy="521.83" r="1.0" fill="#135a18"/>
<circle cx="308.50" cy="487.30" r="1.0" fill="#135a18"/>
<line x1="306.20" y1="487.30" x2="310.80" y2="487.30" stroke="#5a9a5a" stroke-width="1.0" />
<line x1="306.20" y1="521.83" x2="310.80" y2="521.83" stroke="#5a9a5a" stroke-width="1.0" />
<line x1="303.00" y1="509.46" x2="314.00" y2="509.46" stroke="#cfeccf" stroke-width="1.3" />
<polyline points="274.10,427.40 274.10,423.60 308.40,423.60 308.40,427.40" fill="none" stroke="#333" stroke-width="0.9"/>
<text x="291.25" y="423.40" font-size="7.2" text-anchor="middle" fill="#222" stroke="#222" stroke-width="0.15" font-weight="normal" font-style="normal" >***</text>
<polyline points="274.70,442.40 274.70,438.70 288.50,438.70 288.50,442.40" fill="none" stroke="#333" stroke-width="0.9"/>
<text x="281.60" y="438.50" font-size="7.2" text-anchor="middle" fill="#222" stroke="#222" stroke-width="0.15" font-weight="normal" font-style="normal" >***</text>
<polyline points="294.70,451.10 294.70,447.40 308.40,447.40 308.40,451.10" fill="none" stroke="#333" stroke-width="0.9"/>
<text x="301.55" y="445.40" font-size="7" text-anchor="middle" fill="#333" stroke="#333" stroke-width="0.15" font-weight="normal" font-style="normal" >ns</text>
<text x="0" y="0" font-size="7.5" fill="#1f1f1f" stroke="#1f1f1f" stroke-width="0.15" text-anchor="end" transform="translate(278.80,535.70) rotate(-45)">Nadir</text>
<text x="0" y="0" font-size="7.5" fill="#1f1f1f" stroke="#1f1f1f" stroke-width="0.15" text-anchor="end" transform="translate(295.80,535.70) rotate(-45)">Recovery</text>
<text x="0" y="0" font-size="7.5" fill="#1f1f1f" stroke="#1f1f1f" stroke-width="0.15" text-anchor="end" transform="translate(312.80,535.70) rotate(-45)">HC</text>
<text x="332.00" y="220.80" font-size="11" text-anchor="start" fill="#111" stroke="#111" stroke-width="0.15" font-weight="bold" font-style="normal" >C</text>
<text x="443.80" y="226.30" font-size="7.4" text-anchor="middle" fill="#333" stroke="#333" stroke-width="0.15" font-weight="normal" font-style="normal" >Conditioning intensity</text>
<line x1="378.50" y1="257.50" x2="378.50" y2="349.00" stroke="#222" stroke-width="1.0" />
<line x1="376.00" y1="348.50" x2="508.50" y2="348.50" stroke="#222" stroke-width="1.0" />
<line x1="376.10" y1="348.50" x2="378.50" y2="348.50" stroke="#222" stroke-width="0.9" />
<text x="372.70" y="351.20" font-size="7.7" text-anchor="end" fill="#1f1f1f" stroke="#1f1f1f" stroke-width="0.15" font-weight="normal" font-style="normal" >100</text>
<line x1="376.10" y1="327.00" x2="378.50" y2="327.00" stroke="#222" stroke-width="0.9" />
<text x="372.70" y="329.70" font-size="7.7" text-anchor="end" fill="#1f1f1f" stroke="#1f1f1f" stroke-width="0.15" font-weight="normal" font-style="normal" >1000</text>
<line x1="376.10" y1="305.50" x2="378.50" y2="305.50" stroke="#222" stroke-width="0.9" />
<text x="372.70" y="308.20" font-size="7.7" text-anchor="end" fill="#1f1f1f" stroke="#1f1f1f" stroke-width="0.15" font-weight="normal" font-style="normal" >10000</text>
<line x1="376.10" y1="284.00" x2="378.50" y2="284.00" stroke="#222" stroke-width="0.9" />
<text x="372.70" y="286.70" font-size="7.7" text-anchor="end" fill="#1f1f1f" stroke="#1f1f1f" stroke-width="0.15" font-weight="normal" font-style="normal" >100000</text>
<line x1="376.10" y1="262.50" x2="378.50" y2="262.50" stroke="#222" stroke-width="0.9" />
<text x="372.70" y="265.20" font-size="7.7" text-anchor="end" fill="#1f1f1f" stroke="#1f1f1f" stroke-width="0.15" font-weight="normal" font-style="normal" >1000000</text>
<line x1="387.30" y1="348.50" x2="387.30" y2="350.70" stroke="#222" stroke-width="0.9" />
<line x1="400.10" y1="348.50" x2="400.10" y2="350.70" stroke="#222" stroke-width="0.9" />
<line x1="425.00" y1="348.50" x2="425.00" y2="350.70" stroke="#222" stroke-width="0.9" />
<line x1="437.70" y1="348.50" x2="437.70" y2="350.70" stroke="#222" stroke-width="0.9" />
<line x1="462.60" y1="348.50" x2="462.60" y2="350.70" stroke="#222" stroke-width="0.9" />
<line x1="475.40" y1="348.50" x2="475.40" y2="350.70" stroke="#222" stroke-width="0.9" />
<line x1="500.00" y1="348.50" x2="500.00" y2="350.70" stroke="#222" stroke-width="0.9" />
<text x="0" y="0" font-size="8.8" font-weight="bold" fill="#1a1a1a" text-anchor="middle" textLength="13" lengthAdjust="spacingAndGlyphs" transform="translate(336.60,302.50) rotate(-90)">MPM</text>
<circle cx="387.30" cy="295.51" r="1.0" fill="#cc1236"/>
<circle cx="387.30" cy="298.85" r="1.0" fill="#cc1236"/>
<circle cx="387.30" cy="303.52" r="1.0" fill="#cc1236"/>
<circle cx="389.50" cy="305.04" r="1.0" fill="#cc1236"/>
<circle cx="390.60" cy="302.78" r="1.0" fill="#cc1236"/>
<circle cx="387.30" cy="315.42" r="1.0" fill="#cc1236"/>
<circle cx="389.50" cy="300.23" r="1.0" fill="#cc1236"/>
<circle cx="387.30" cy="309.78" r="1.0" fill="#cc1236"/>
<circle cx="387.30" cy="306.84" r="1.0" fill="#cc1236"/>
<circle cx="385.10" cy="300.19" r="1.0" fill="#cc1236"/>
<circle cx="384.37" cy="299.43" r="1.0" fill="#cc1236"/>
<circle cx="390.60" cy="294.59" r="1.0" fill="#cc1236"/>
<circle cx="389.50" cy="296.87" r="1.0" fill="#cc1236"/>
<circle cx="390.60" cy="309.92" r="1.0" fill="#cc1236"/>
<circle cx="390.60" cy="316.09" r="1.0" fill="#cc1236"/>
<circle cx="390.08" cy="297.33" r="1.0" fill="#cc1236"/>
<circle cx="389.41" cy="301.56" r="1.0" fill="#cc1236"/>
<circle cx="385.34" cy="301.84" r="1.0" fill="#cc1236"/>
<circle cx="387.26" cy="301.97" r="1.0" fill="#cc1236"/>
<circle cx="385.10" cy="311.02" r="1.0" fill="#cc1236"/>
<circle cx="385.10" cy="304.62" r="1.0" fill="#cc1236"/>
<circle cx="386.90" cy="302.67" r="1.0" fill="#cc1236"/>
<circle cx="388.51" cy="297.82" r="1.0" fill="#cc1236"/>
<circle cx="387.30" cy="320.76" r="1.0" fill="#cc1236"/>
<circle cx="387.30" cy="277.76" r="1.0" fill="#cc1236"/>
<line x1="387.30" y1="295.18" x2="387.30" y2="301.20" stroke="#111" stroke-width="1.0" />
<line x1="385.00" y1="295.18" x2="389.60" y2="295.18" stroke="#111" stroke-width="1.0" />
<line x1="385.00" y1="301.20" x2="389.60" y2="301.20" stroke="#111" stroke-width="1.0" />
<line x1="382.30" y1="298.19" x2="392.30" y2="298.19" stroke="#111" stroke-width="1.3" />
<circle cx="400.10" cy="316.45" r="1.15" fill="#4f74a0"/>
<circle cx="403.70" cy="316.08" r="1.15" fill="#4f74a0"/>
<circle cx="400.10" cy="320.82" r="1.15" fill="#4f74a0"/>
<circle cx="400.10" cy="306.09" r="1.15" fill="#4f74a0"/>
<circle cx="402.50" cy="323.30" r="1.15" fill="#4f74a0"/>
<circle cx="397.70" cy="314.99" r="1.15" fill="#4f74a0"/>
<circle cx="401.30" cy="313.70" r="1.15" fill="#4f74a0"/>
<circle cx="403.70" cy="320.32" r="1.15" fill="#4f74a0"/>
<circle cx="401.30" cy="308.77" r="1.15" fill="#4f74a0"/>
<circle cx="398.90" cy="323.72" r="1.15" fill="#4f74a0"/>
<circle cx="397.70" cy="318.36" r="1.15" fill="#4f74a0"/>
<circle cx="396.81" cy="313.06" r="1.15" fill="#4f74a0"/>
<circle cx="403.23" cy="320.71" r="1.15" fill="#4f74a0"/>
<circle cx="402.47" cy="320.34" r="1.15" fill="#4f74a0"/>
<circle cx="396.50" cy="307.35" r="1.15" fill="#4f74a0"/>
<circle cx="397.90" cy="309.32" r="1.15" fill="#4f74a0"/>
<circle cx="400.06" cy="313.15" r="1.15" fill="#4f74a0"/>
<circle cx="396.50" cy="321.02" r="1.15" fill="#4f74a0"/>
<circle cx="400.10" cy="328.72" r="1.15" fill="#4f74a0"/>
<circle cx="400.10" cy="299.05" r="1.15" fill="#4f74a0"/>
<line x1="400.10" y1="306.57" x2="400.10" y2="315.82" stroke="#111" stroke-width="1.0" />
<line x1="397.80" y1="306.57" x2="402.40" y2="306.57" stroke="#111" stroke-width="1.0" />
<line x1="397.80" y1="315.82" x2="402.40" y2="315.82" stroke="#111" stroke-width="1.0" />
<line x1="395.10" y1="311.52" x2="405.10" y2="311.52" stroke="#111" stroke-width="1.3" />
<circle cx="425.00" cy="340.19" r="1.0" fill="#cc1236"/>
<circle cx="425.00" cy="302.86" r="1.0" fill="#cc1236"/>
<circle cx="425.00" cy="296.27" r="1.0" fill="#cc1236"/>
<circle cx="427.00" cy="301.07" r="1.0" fill="#cc1236"/>
<circle cx="425.00" cy="293.16" r="1.0" fill="#cc1236"/>
<circle cx="425.00" cy="317.72" r="1.0" fill="#cc1236"/>
<circle cx="427.00" cy="303.80" r="1.0" fill="#cc1236"/>
<circle cx="425.00" cy="290.68" r="1.0" fill="#cc1236"/>
<circle cx="422.00" cy="303.06" r="1.0" fill="#cc1236"/>
<circle cx="422.07" cy="303.77" r="1.0" fill="#cc1236"/>
<circle cx="428.00" cy="318.35" r="1.0" fill="#cc1236"/>
<circle cx="425.00" cy="299.04" r="1.0" fill="#cc1236"/>
<circle cx="427.78" cy="304.05" r="1.0" fill="#cc1236"/>
<circle cx="425.00" cy="337.92" r="1.0" fill="#cc1236"/>
<circle cx="425.00" cy="314.29" r="1.0" fill="#cc1236"/>
<circle cx="423.00" cy="318.70" r="1.0" fill="#cc1236"/>
<circle cx="427.00" cy="313.03" r="1.0" fill="#cc1236"/>
<circle cx="425.00" cy="305.54" r="1.0" fill="#cc1236"/>
<circle cx="426.00" cy="288.70" r="1.0" fill="#cc1236"/>
<circle cx="425.00" cy="328.54" r="1.0" fill="#cc1236"/>
<circle cx="425.00" cy="308.44" r="1.0" fill="#cc1236"/>
<circle cx="422.00" cy="313.54" r="1.0" fill="#cc1236"/>
<circle cx="427.11" cy="312.33" r="1.0" fill="#cc1236"/>
<circle cx="423.04" cy="303.42" r="1.0" fill="#cc1236"/>
<circle cx="429.00" cy="314.07" r="1.0" fill="#cc1236"/>
<circle cx="427.00" cy="297.59" r="1.0" fill="#cc1236"/>
<circle cx="425.00" cy="334.94" r="1.0" fill="#cc1236"/>
<circle cx="425.00" cy="324.35" r="1.0" fill="#cc1236"/>
<circle cx="424.96" cy="304.73" r="1.0" fill="#cc1236"/>
<circle cx="425.00" cy="319.96" r="1.0" fill="#cc1236"/>
<circle cx="424.60" cy="313.64" r="1.0" fill="#cc1236"/>
<circle cx="425.00" cy="331.93" r="1.0" fill="#cc1236"/>
<circle cx="427.00" cy="306.59" r="1.0" fill="#cc1236"/>
<circle cx="427.00" cy="309.72" r="1.0" fill="#cc1236"/>
<circle cx="421.00" cy="317.12" r="1.0" fill="#cc1236"/>
<circle cx="429.00" cy="320.49" r="1.0" fill="#cc1236"/>
<circle cx="425.00" cy="311.03" r="1.0" fill="#cc1236"/>
<circle cx="422.00" cy="310.89" r="1.0" fill="#cc1236"/>
<circle cx="426.21" cy="311.68" r="1.0" fill="#cc1236"/>
<circle cx="427.31" cy="313.26" r="1.0" fill="#cc1236"/>
<circle cx="421.75" cy="318.74" r="1.0" fill="#cc1236"/>
<circle cx="429.00" cy="310.89" r="1.0" fill="#cc1236"/>
<circle cx="423.00" cy="300.36" r="1.0" fill="#cc1236"/>
<circle cx="428.00" cy="335.67" r="1.0" fill="#cc1236"/>
<circle cx="421.23" cy="301.81" r="1.0" fill="#cc1236"/>
<circle cx="427.69" cy="309.21" r="1.0" fill="#cc1236"/>
<circle cx="424.46" cy="315.37" r="1.0" fill="#cc1236"/>
<circle cx="428.00" cy="324.59" r="1.0" fill="#cc1236"/>
<circle cx="427.00" cy="330.27" r="1.0" fill="#cc1236"/>
<circle cx="427.10" cy="313.79" r="1.0" fill="#cc1236"/>
<circle cx="421.02" cy="304.70" r="1.0" fill="#cc1236"/>
<circle cx="423.00" cy="326.16" r="1.0" fill="#cc1236"/>
<circle cx="424.56" cy="301.84" r="1.0" fill="#cc1236"/>
<circle cx="427.00" cy="341.19" r="1.0" fill="#cc1236"/>
<circle cx="425.00" cy="286.37" r="1.0" fill="#cc1236"/>
<line x1="425.00" y1="300.56" x2="425.00" y2="304.86" stroke="#111" stroke-width="1.0" />
<line x1="422.70" y1="300.56" x2="427.30" y2="300.56" stroke="#111" stroke-width="1.0" />
<line x1="422.70" y1="304.86" x2="427.30" y2="304.86" stroke="#111" stroke-width="1.0" />
<line x1="420.00" y1="302.70" x2="430.00" y2="302.70" stroke="#111" stroke-width="1.3" />
<circle cx="437.70" cy="320.50" r="1.15" fill="#4f74a0"/>
<circle cx="437.70" cy="314.67" r="1.15" fill="#4f74a0"/>
<circle cx="437.70" cy="307.30" r="1.15" fill="#4f74a0"/>
<circle cx="441.00" cy="320.44" r="1.15" fill="#4f74a0"/>
<circle cx="437.70" cy="299.51" r="1.15" fill="#4f74a0"/>
<circle cx="437.70" cy="326.04" r="1.15" fill="#4f74a0"/>
<circle cx="441.00" cy="315.11" r="1.15" fill="#4f74a0"/>
<circle cx="437.70" cy="330.95" r="1.15" fill="#4f74a0"/>
<circle cx="439.90" cy="309.27" r="1.15" fill="#4f74a0"/>
<circle cx="434.40" cy="320.00" r="1.15" fill="#4f74a0"/>
<circle cx="434.40" cy="315.08" r="1.15" fill="#4f74a0"/>
<circle cx="441.00" cy="300.83" r="1.15" fill="#4f74a0"/>
<circle cx="434.40" cy="307.39" r="1.15" fill="#4f74a0"/>
<circle cx="441.00" cy="325.59" r="1.15" fill="#4f74a0"/>
<circle cx="438.80" cy="323.46" r="1.15" fill="#4f74a0"/>
<circle cx="436.60" cy="309.86" r="1.15" fill="#4f74a0"/>
<circle cx="441.00" cy="331.87" r="1.15" fill="#4f74a0"/>
<circle cx="434.04" cy="319.30" r="1.15" fill="#4f74a0"/>
<circle cx="435.50" cy="323.39" r="1.15" fill="#4f74a0"/>
<circle cx="434.40" cy="330.61" r="1.15" fill="#4f74a0"/>
<circle cx="441.17" cy="331.19" r="1.15" fill="#4f74a0"/>
<circle cx="441.00" cy="306.08" r="1.15" fill="#4f74a0"/>
<circle cx="437.70" cy="303.74" r="1.15" fill="#4f74a0"/>
<circle cx="437.70" cy="296.11" r="1.15" fill="#4f74a0"/>
<circle cx="437.70" cy="291.90" r="1.15" fill="#4f74a0"/>
<circle cx="437.70" cy="285.65" r="1.15" fill="#4f74a0"/>
<circle cx="435.50" cy="302.26" r="1.15" fill="#4f74a0"/>
<circle cx="440.34" cy="314.50" r="1.15" fill="#4f74a0"/>
<circle cx="435.25" cy="329.09" r="1.15" fill="#4f74a0"/>
<circle cx="437.65" cy="330.88" r="1.15" fill="#4f74a0"/>
<circle cx="437.19" cy="306.68" r="1.15" fill="#4f74a0"/>
<circle cx="439.22" cy="327.49" r="1.15" fill="#4f74a0"/>
<circle cx="440.59" cy="332.03" r="1.15" fill="#4f74a0"/>
<circle cx="433.64" cy="329.52" r="1.15" fill="#4f74a0"/>
<circle cx="433.30" cy="325.42" r="1.15" fill="#4f74a0"/>
<circle cx="432.98" cy="316.35" r="1.15" fill="#4f74a0"/>
<circle cx="434.40" cy="299.58" r="1.15" fill="#4f74a0"/>
<circle cx="441.06" cy="326.49" r="1.15" fill="#4f74a0"/>
<circle cx="437.03" cy="324.35" r="1.15" fill="#4f74a0"/>
<circle cx="440.32" cy="322.79" r="1.15" fill="#4f74a0"/>
<circle cx="432.72" cy="315.63" r="1.15" fill="#4f74a0"/>
<circle cx="437.15" cy="319.52" r="1.15" fill="#4f74a0"/>
<circle cx="439.92" cy="326.25" r="1.15" fill="#4f74a0"/>
<circle cx="434.99" cy="305.82" r="1.15" fill="#4f74a0"/>
<circle cx="442.15" cy="309.54" r="1.15" fill="#4f74a0"/>
<circle cx="441.71" cy="301.56" r="1.15" fill="#4f74a0"/>
<circle cx="433.01" cy="299.67" r="1.15" fill="#4f74a0"/>
<circle cx="432.95" cy="303.29" r="1.15" fill="#4f74a0"/>
<circle cx="437.70" cy="345.06" r="1.15" fill="#4f74a0"/>
<circle cx="437.70" cy="280.99" r="1.15" fill="#4f74a0"/>
<line x1="437.70" y1="301.20" x2="437.70" y2="307.65" stroke="#111" stroke-width="1.0" />
<line x1="435.40" y1="301.20" x2="440.00" y2="301.20" stroke="#111" stroke-width="1.0" />
<line x1="435.40" y1="307.65" x2="440.00" y2="307.65" stroke="#111" stroke-width="1.0" />
<line x1="432.70" y1="304.43" x2="442.70" y2="304.43" stroke="#111" stroke-width="1.3" />
<circle cx="462.60" cy="300.56" r="1.0" fill="#cc1236"/>
<circle cx="462.60" cy="325.50" r="1.0" fill="#cc1236"/>
<circle cx="465.60" cy="325.50" r="1.0" fill="#cc1236"/>
<circle cx="462.60" cy="307.65" r="1.0" fill="#cc1236"/>
<circle cx="462.60" cy="314.10" r="1.0" fill="#cc1236"/>
<line x1="462.60" y1="306.36" x2="462.60" y2="318.40" stroke="#111" stroke-width="1.0" />
<line x1="460.30" y1="306.36" x2="464.90" y2="306.36" stroke="#111" stroke-width="1.0" />
<line x1="460.30" y1="318.40" x2="464.90" y2="318.40" stroke="#111" stroke-width="1.0" />
<line x1="457.60" y1="310.44" x2="467.60" y2="310.44" stroke="#111" stroke-width="1.3" />
<circle cx="475.40" cy="308.73" r="1.15" fill="#4f74a0"/>
<circle cx="475.40" cy="313.67" r="1.15" fill="#4f74a0"/>
<circle cx="478.40" cy="315.82" r="1.15" fill="#4f74a0"/>
<circle cx="475.40" cy="325.28" r="1.15" fill="#4f74a0"/>
<circle cx="472.40" cy="314.10" r="1.15" fill="#4f74a0"/>
<line x1="475.40" y1="311.95" x2="475.40" y2="316.25" stroke="#111" stroke-width="1.0" />
<line x1="473.10" y1="311.95" x2="477.70" y2="311.95" stroke="#111" stroke-width="1.0" />
<line x1="473.10" y1="316.25" x2="477.70" y2="316.25" stroke="#111" stroke-width="1.0" />
<line x1="470.40" y1="314.31" x2="480.40" y2="314.31" stroke="#111" stroke-width="1.3" />
<circle cx="498.52" cy="321.71" r="1.0" fill="#2a9a2a"/>
<circle cx="500.78" cy="329.84" r="1.0" fill="#2a9a2a"/>
<circle cx="502.50" cy="314.35" r="1.0" fill="#2a9a2a"/>
<circle cx="498.03" cy="316.95" r="1.0" fill="#2a9a2a"/>
<circle cx="499.95" cy="320.56" r="1.0" fill="#2a9a2a"/>
<circle cx="499.41" cy="311.02" r="1.0" fill="#2a9a2a"/>
<circle cx="500.73" cy="321.72" r="1.0" fill="#2a9a2a"/>
<circle cx="502.32" cy="310.74" r="1.0" fill="#2a9a2a"/>
<circle cx="497.74" cy="308.73" r="1.0" fill="#2a9a2a"/>
<circle cx="496.45" cy="316.31" r="1.0" fill="#2a9a2a"/>
<circle cx="502.88" cy="311.86" r="1.0" fill="#2a9a2a"/>
<circle cx="499.17" cy="312.73" r="1.0" fill="#2a9a2a"/>
<circle cx="502.50" cy="314.00" r="1.0" fill="#2a9a2a"/>
<circle cx="496.28" cy="311.12" r="1.0" fill="#2a9a2a"/>
<circle cx="499.58" cy="319.66" r="1.0" fill="#2a9a2a"/>
<circle cx="501.45" cy="308.95" r="1.0" fill="#2a9a2a"/>
<circle cx="497.57" cy="315.46" r="1.0" fill="#2a9a2a"/>
<circle cx="502.46" cy="308.79" r="1.0" fill="#2a9a2a"/>
<circle cx="503.31" cy="311.78" r="1.0" fill="#2a9a2a"/>
<circle cx="496.79" cy="317.24" r="1.0" fill="#2a9a2a"/>
<circle cx="497.04" cy="317.98" r="1.0" fill="#2a9a2a"/>
<circle cx="500.21" cy="324.51" r="1.0" fill="#2a9a2a"/>
<circle cx="503.70" cy="314.82" r="1.0" fill="#2a9a2a"/>
<circle cx="499.03" cy="318.02" r="1.0" fill="#2a9a2a"/>
<circle cx="499.22" cy="328.47" r="1.0" fill="#2a9a2a"/>
<circle cx="499.69" cy="327.03" r="1.0" fill="#2a9a2a"/>
<circle cx="496.00" cy="313.91" r="1.0" fill="#2a9a2a"/>
<circle cx="499.21" cy="328.14" r="1.0" fill="#2a9a2a"/>
<circle cx="499.24" cy="315.29" r="1.0" fill="#2a9a2a"/>
<circle cx="499.97" cy="327.19" r="1.0" fill="#2a9a2a"/>
<circle cx="499.70" cy="335.83" r="1.0" fill="#2a9a2a"/>
<circle cx="498.19" cy="318.27" r="1.0" fill="#2a9a2a"/>
<circle cx="497.83" cy="310.35" r="1.0" fill="#2a9a2a"/>
<circle cx="499.72" cy="320.86" r="1.0" fill="#2a9a2a"/>
<circle cx="497.90" cy="313.56" r="1.0" fill="#2a9a2a"/>
<circle cx="497.25" cy="309.08" r="1.0" fill="#2a9a2a"/>
<circle cx="500.61" cy="331.52" r="1.0" fill="#2a9a2a"/>
<circle cx="500.36" cy="307.48" r="1.0" fill="#2a9a2a"/>
<circle cx="500.46" cy="328.20" r="1.0" fill="#2a9a2a"/>
<circle cx="497.56" cy="316.80" r="1.0" fill="#2a9a2a"/>
<circle cx="503.67" cy="316.33" r="1.0" fill="#2a9a2a"/>
<circle cx="501.21" cy="324.10" r="1.0" fill="#2a9a2a"/>
<circle cx="497.18" cy="316.88" r="1.0" fill="#2a9a2a"/>
<circle cx="498.35" cy="311.88" r="1.0" fill="#2a9a2a"/>
<circle cx="502.17" cy="312.87" r="1.0" fill="#2a9a2a"/>
<circle cx="501.83" cy="316.50" r="1.0" fill="#2a9a2a"/>
<circle cx="501.17" cy="305.76" r="1.0" fill="#2a9a2a"/>
<circle cx="499.54" cy="307.43" r="1.0" fill="#2a9a2a"/>
<circle cx="502.12" cy="318.29" r="1.0" fill="#2a9a2a"/>
<circle cx="501.67" cy="315.48" r="1.0" fill="#2a9a2a"/>
<circle cx="498.30" cy="310.72" r="1.0" fill="#2a9a2a"/>
<circle cx="500.43" cy="306.83" r="1.0" fill="#2a9a2a"/>
<circle cx="501.41" cy="322.64" r="1.0" fill="#2a9a2a"/>
<circle cx="503.09" cy="314.46" r="1.0" fill="#2a9a2a"/>
<circle cx="500.05" cy="322.45" r="1.0" fill="#2a9a2a"/>
<circle cx="501.01" cy="315.24" r="1.0" fill="#2a9a2a"/>
<circle cx="498.42" cy="323.19" r="1.0" fill="#2a9a2a"/>
<circle cx="499.66" cy="334.77" r="1.0" fill="#2a9a2a"/>
<circle cx="502.77" cy="313.36" r="1.0" fill="#2a9a2a"/>
<circle cx="499.29" cy="309.19" r="1.0" fill="#2a9a2a"/>
<circle cx="498.12" cy="319.12" r="1.0" fill="#2a9a2a"/>
<circle cx="500.32" cy="321.11" r="1.0" fill="#2a9a2a"/>
<circle cx="502.02" cy="312.92" r="1.0" fill="#2a9a2a"/>
<circle cx="501.66" cy="311.51" r="1.0" fill="#2a9a2a"/>
<circle cx="499.06" cy="318.56" r="1.0" fill="#2a9a2a"/>
<circle cx="499.33" cy="310.70" r="1.0" fill="#2a9a2a"/>
<circle cx="500.12" cy="317.89" r="1.0" fill="#2a9a2a"/>
<circle cx="502.27" cy="310.82" r="1.0" fill="#2a9a2a"/>
<circle cx="500.33" cy="314.55" r="1.0" fill="#2a9a2a"/>
<circle cx="499.77" cy="331.79" r="1.0" fill="#2a9a2a"/>
<circle cx="499.84" cy="316.80" r="1.0" fill="#2a9a2a"/>
<circle cx="497.12" cy="318.12" r="1.0" fill="#2a9a2a"/>
<circle cx="496.78" cy="310.43" r="1.0" fill="#2a9a2a"/>
<circle cx="501.20" cy="319.64" r="1.0" fill="#2a9a2a"/>
<circle cx="502.59" cy="319.06" r="1.0" fill="#2a9a2a"/>
<circle cx="501.07" cy="312.41" r="1.0" fill="#2a9a2a"/>
<circle cx="499.38" cy="307.66" r="1.0" fill="#2a9a2a"/>
<circle cx="497.48" cy="310.54" r="1.0" fill="#2a9a2a"/>
<circle cx="500.05" cy="314.76" r="1.0" fill="#2a9a2a"/>
<circle cx="501.40" cy="325.91" r="1.0" fill="#2a9a2a"/>
<circle cx="502.55" cy="312.93" r="1.0" fill="#2a9a2a"/>
<circle cx="500.21" cy="324.14" r="1.0" fill="#2a9a2a"/>
<circle cx="503.20" cy="312.93" r="1.0" fill="#2a9a2a"/>
<circle cx="498.51" cy="308.31" r="1.0" fill="#2a9a2a"/>
<circle cx="500.22" cy="311.71" r="1.0" fill="#2a9a2a"/>
<circle cx="503.77" cy="314.95" r="1.0" fill="#2a9a2a"/>
<circle cx="500.85" cy="311.23" r="1.0" fill="#2a9a2a"/>
<circle cx="499.53" cy="310.45" r="1.0" fill="#2a9a2a"/>
<circle cx="498.21" cy="317.38" r="1.0" fill="#2a9a2a"/>
<circle cx="500.20" cy="327.69" r="1.0" fill="#2a9a2a"/>
<circle cx="503.90" cy="313.96" r="1.0" fill="#2a9a2a"/>
<circle cx="495.86" cy="314.23" r="1.0" fill="#2a9a2a"/>
<circle cx="502.55" cy="312.04" r="1.0" fill="#2a9a2a"/>
<circle cx="500.73" cy="305.04" r="1.0" fill="#2a9a2a"/>
<circle cx="503.40" cy="314.21" r="1.0" fill="#2a9a2a"/>
<circle cx="502.11" cy="311.27" r="1.0" fill="#2a9a2a"/>
<circle cx="502.55" cy="316.21" r="1.0" fill="#2a9a2a"/>
<circle cx="500.28" cy="315.69" r="1.0" fill="#2a9a2a"/>
<circle cx="500.78" cy="312.95" r="1.0" fill="#2a9a2a"/>
<circle cx="499.13" cy="315.18" r="1.0" fill="#2a9a2a"/>
<circle cx="496.84" cy="310.45" r="1.0" fill="#2a9a2a"/>
<circle cx="503.28" cy="313.00" r="1.0" fill="#2a9a2a"/>
<circle cx="500.26" cy="327.99" r="1.0" fill="#2a9a2a"/>
<circle cx="497.33" cy="315.24" r="1.0" fill="#2a9a2a"/>
<circle cx="500.02" cy="333.47" r="1.0" fill="#2a9a2a"/>
<circle cx="499.91" cy="324.80" r="1.0" fill="#2a9a2a"/>
<circle cx="498.71" cy="310.55" r="1.0" fill="#2a9a2a"/>
<circle cx="498.38" cy="314.52" r="1.0" fill="#2a9a2a"/>
<circle cx="500.54" cy="314.29" r="1.0" fill="#2a9a2a"/>
<circle cx="501.36" cy="313.06" r="1.0" fill="#2a9a2a"/>
<circle cx="501.27" cy="314.01" r="1.0" fill="#2a9a2a"/>
<circle cx="499.44" cy="315.15" r="1.0" fill="#2a9a2a"/>
<circle cx="496.38" cy="316.09" r="1.0" fill="#2a9a2a"/>
<circle cx="498.79" cy="321.33" r="1.0" fill="#2a9a2a"/>
<circle cx="497.17" cy="312.09" r="1.0" fill="#2a9a2a"/>
<circle cx="500.36" cy="324.92" r="1.0" fill="#2a9a2a"/>
<circle cx="502.42" cy="309.70" r="1.0" fill="#2a9a2a"/>
<circle cx="500.87" cy="305.77" r="1.0" fill="#2a9a2a"/>
<circle cx="500.19" cy="339.04" r="1.0" fill="#2a9a2a"/>
<circle cx="500.13" cy="298.62" r="1.0" fill="#2a9a2a"/>
<line x1="500.00" y1="313.67" x2="500.00" y2="315.39" stroke="#111" stroke-width="1.0" />
<line x1="497.70" y1="313.67" x2="502.30" y2="313.67" stroke="#111" stroke-width="1.0" />
<line x1="497.70" y1="315.39" x2="502.30" y2="315.39" stroke="#111" stroke-width="1.0" />
<line x1="495.00" y1="314.53" x2="505.00" y2="314.53" stroke="#111" stroke-width="1.3" />
<polyline points="388.80,241.40 388.80,237.40 500.80,237.40 500.80,241.40" fill="none" stroke="#333" stroke-width="0.9"/>
<text x="444.80" y="237.20" font-size="7.2" text-anchor="middle" fill="#222" stroke="#222" stroke-width="0.15" font-weight="normal" font-style="normal" >****</text>
<polyline points="426.50,255.20 426.50,251.20 500.80,251.20 500.80,255.20" fill="none" stroke="#333" stroke-width="0.9"/>
<text x="463.65" y="251.00" font-size="7.2" text-anchor="middle" fill="#222" stroke="#222" stroke-width="0.15" font-weight="normal" font-style="normal" >***</text>
<polyline points="388.80,273.20 388.80,266.20 399.20,266.20 399.20,273.20" fill="none" stroke="#333" stroke-width="0.9"/>
<text x="394.00" y="266.00" font-size="7.2" text-anchor="middle" fill="#222" stroke="#222" stroke-width="0.15" font-weight="normal" font-style="normal" >**</text>
<polyline points="425.80,273.20 425.80,266.20 435.70,266.20 435.70,273.20" fill="none" stroke="#333" stroke-width="0.9"/>
<text x="430.75" y="266.00" font-size="7.2" text-anchor="middle" fill="#222" stroke="#222" stroke-width="0.15" font-weight="normal" font-style="normal" >**</text>
<text x="0" y="0" font-size="7.3" fill="#1f1f1f" stroke="#1f1f1f" stroke-width="0.15" text-anchor="end" transform="translate(391.60,356.70) rotate(-45)">MA | nadir</text>
<text x="0" y="0" font-size="7.3" fill="#1f1f1f" stroke="#1f1f1f" stroke-width="0.15" text-anchor="end" transform="translate(404.40,356.70) rotate(-45)">MA | recovery</text>
<text x="0" y="0" font-size="7.3" fill="#1f1f1f" stroke="#1f1f1f" stroke-width="0.15" text-anchor="end" transform="translate(429.30,356.70) rotate(-45)">RIC | nadir</text>
<text x="0" y="0" font-size="7.3" fill="#1f1f1f" stroke="#1f1f1f" stroke-width="0.15" text-anchor="end" transform="translate(442.00,356.70) rotate(-45)">RIC | recovery</text>
<text x="0" y="0" font-size="7.3" fill="#1f1f1f" stroke="#1f1f1f" stroke-width="0.15" text-anchor="end" transform="translate(466.90,356.70) rotate(-45)">NMA | nadir</text>
<text x="0" y="0" font-size="7.3" fill="#1f1f1f" stroke="#1f1f1f" stroke-width="0.15" text-anchor="end" transform="translate(479.70,356.70) rotate(-45)">NMA | recovery</text>
<text x="0" y="0" font-size="7.3" fill="#1f1f1f" stroke="#1f1f1f" stroke-width="0.15" text-anchor="end" transform="translate(504.30,356.70) rotate(-45)">Healthy</text>
<text x="332.00" y="397.50" font-size="11" text-anchor="start" fill="#111" stroke="#111" stroke-width="0.15" font-weight="bold" font-style="normal" >D</text>
<text x="417.50" y="432.20" font-size="7.2" text-anchor="middle" fill="#333" stroke="#333" stroke-width="0.15" font-weight="normal" font-style="normal" >Mucositis status</text>
<line x1="378.50" y1="437.40" x2="378.50" y2="528.00" stroke="#222" stroke-width="1.0" />
<line x1="376.00" y1="527.50" x2="455.60" y2="527.50" stroke="#222" stroke-width="1.0" />
<line x1="376.10" y1="527.50" x2="378.50" y2="527.50" stroke="#222" stroke-width="0.9" />
<text x="372.70" y="530.20" font-size="7.7" text-anchor="end" fill="#1f1f1f" stroke="#1f1f1f" stroke-width="0.15" font-weight="normal" font-style="normal" >100</text>
<line x1="376.10" y1="506.23" x2="378.50" y2="506.23" stroke="#222" stroke-width="0.9" />
<text x="372.70" y="508.93" font-size="7.7" text-anchor="end" fill="#1f1f1f" stroke="#1f1f1f" stroke-width="0.15" font-weight="normal" font-style="normal" >1000</text>
<line x1="376.10" y1="484.95" x2="378.50" y2="484.95" stroke="#222" stroke-width="0.9" />
<text x="372.70" y="487.65" font-size="7.7" text-anchor="end" fill="#1f1f1f" stroke="#1f1f1f" stroke-width="0.15" font-weight="normal" font-style="normal" >10000</text>
<line x1="376.10" y1="463.67" x2="378.50" y2="463.67" stroke="#222" stroke-width="0.9" />
<text x="372.70" y="466.37" font-size="7.7" text-anchor="end" fill="#1f1f1f" stroke="#1f1f1f" stroke-width="0.15" font-weight="normal" font-style="normal" >100000</text>
<line x1="376.10" y1="442.40" x2="378.50" y2="442.40" stroke="#222" stroke-width="0.9" />
<text x="372.70" y="445.10" font-size="7.7" text-anchor="end" fill="#1f1f1f" stroke="#1f1f1f" stroke-width="0.15" font-weight="normal" font-style="normal" >1000000</text>
<line x1="389.00" y1="527.50" x2="389.00" y2="529.70" stroke="#222" stroke-width="0.9" />
<line x1="402.90" y1="527.50" x2="402.90" y2="529.70" stroke="#222" stroke-width="0.9" />
<line x1="432.30" y1="527.50" x2="432.30" y2="529.70" stroke="#222" stroke-width="0.9" />
<line x1="446.50" y1="527.50" x2="446.50" y2="529.70" stroke="#222" stroke-width="0.9" />
<text x="0" y="0" font-size="8.8" font-weight="bold" fill="#1a1a1a" text-anchor="middle" textLength="13.4" lengthAdjust="spacingAndGlyphs" transform="translate(336.70,481.70) rotate(-90)">MPM</text>
<circle cx="389.00" cy="460.91" r="1.0" fill="#cc1236"/>
<circle cx="389.00" cy="465.80" r="1.0" fill="#cc1236"/>
<circle cx="389.00" cy="470.06" r="1.0" fill="#cc1236"/>
<circle cx="389.00" cy="474.31" r="1.0" fill="#cc1236"/>
<circle cx="389.00" cy="477.50" r="1.0" fill="#cc1236"/>
<circle cx="389.00" cy="516.86" r="1.0" fill="#cc1236"/>
<circle cx="389.00" cy="513.67" r="1.0" fill="#cc1236"/>
<circle cx="389.00" cy="510.48" r="1.0" fill="#cc1236"/>
<circle cx="389.00" cy="485.44" r="1.0" fill="#cc1236"/>
<circle cx="392.30" cy="485.25" r="1.0" fill="#cc1236"/>
<circle cx="389.00" cy="506.80" r="1.0" fill="#cc1236"/>
<circle cx="391.20" cy="507.80" r="1.0" fill="#cc1236"/>
<circle cx="389.00" cy="492.12" r="1.0" fill="#cc1236"/>
<circle cx="386.80" cy="487.13" r="1.0" fill="#cc1236"/>
<circle cx="389.00" cy="500.28" r="1.0" fill="#cc1236"/>
<circle cx="385.70" cy="485.07" r="1.0" fill="#cc1236"/>
<circle cx="386.80" cy="505.75" r="1.0" fill="#cc1236"/>
<circle cx="389.98" cy="484.04" r="1.0" fill="#cc1236"/>
<circle cx="390.93" cy="484.18" r="1.0" fill="#cc1236"/>
<circle cx="389.00" cy="503.97" r="1.0" fill="#cc1236"/>
<circle cx="391.36" cy="485.99" r="1.0" fill="#cc1236"/>
<circle cx="389.00" cy="496.29" r="1.0" fill="#cc1236"/>
<circle cx="391.20" cy="501.88" r="1.0" fill="#cc1236"/>
<circle cx="392.54" cy="506.83" r="1.0" fill="#cc1236"/>
<circle cx="390.92" cy="506.40" r="1.0" fill="#cc1236"/>
<circle cx="391.20" cy="493.94" r="1.0" fill="#cc1236"/>
<circle cx="389.00" cy="489.39" r="1.0" fill="#cc1236"/>
<circle cx="392.38" cy="487.56" r="1.0" fill="#cc1236"/>
<circle cx="392.30" cy="496.57" r="1.0" fill="#cc1236"/>
<circle cx="385.23" cy="507.73" r="1.0" fill="#cc1236"/>
<circle cx="388.72" cy="488.18" r="1.0" fill="#cc1236"/>
<circle cx="392.55" cy="504.75" r="1.0" fill="#cc1236"/>
<circle cx="385.70" cy="495.64" r="1.0" fill="#cc1236"/>
<circle cx="390.19" cy="483.10" r="1.0" fill="#cc1236"/>
<circle cx="392.21" cy="506.76" r="1.0" fill="#cc1236"/>
<circle cx="386.80" cy="493.50" r="1.0" fill="#cc1236"/>
<circle cx="385.91" cy="508.22" r="1.0" fill="#cc1236"/>
<circle cx="388.75" cy="495.26" r="1.0" fill="#cc1236"/>
<circle cx="392.30" cy="491.89" r="1.0" fill="#cc1236"/>
<circle cx="386.97" cy="506.17" r="1.0" fill="#cc1236"/>
<circle cx="389.35" cy="493.60" r="1.0" fill="#cc1236"/>
<circle cx="385.70" cy="489.52" r="1.0" fill="#cc1236"/>
<circle cx="389.59" cy="506.33" r="1.0" fill="#cc1236"/>
<circle cx="385.10" cy="485.37" r="1.0" fill="#cc1236"/>
<circle cx="386.80" cy="503.10" r="1.0" fill="#cc1236"/>
<circle cx="386.73" cy="484.54" r="1.0" fill="#cc1236"/>
<circle cx="387.24" cy="509.42" r="1.0" fill="#cc1236"/>
<circle cx="391.20" cy="478.57" r="1.0" fill="#cc1236"/>
<line x1="389.00" y1="482.82" x2="389.00" y2="489.20" stroke="#111" stroke-width="1.0" />
<line x1="386.70" y1="482.82" x2="391.30" y2="482.82" stroke="#111" stroke-width="1.0" />
<line x1="386.70" y1="489.20" x2="391.30" y2="489.20" stroke="#111" stroke-width="1.0" />
<line x1="384.00" y1="486.01" x2="394.00" y2="486.01" stroke="#111" stroke-width="1.3" />
<circle cx="402.90" cy="477.29" r="1.25" fill="#5580b0"/>
<circle cx="406.10" cy="478.57" r="1.25" fill="#5580b0"/>
<circle cx="398.10" cy="477.93" r="1.25" fill="#5580b0"/>
<circle cx="402.90" cy="484.95" r="1.25" fill="#5580b0"/>
<circle cx="402.90" cy="501.97" r="1.25" fill="#5580b0"/>
<circle cx="406.10" cy="504.10" r="1.25" fill="#5580b0"/>
<circle cx="402.90" cy="506.23" r="1.25" fill="#5580b0"/>
<circle cx="407.70" cy="507.29" r="1.25" fill="#5580b0"/>
<circle cx="398.10" cy="503.03" r="1.25" fill="#5580b0"/>
<circle cx="402.90" cy="511.97" r="1.25" fill="#5580b0"/>
<circle cx="402.90" cy="525.37" r="1.25" fill="#5580b0"/>
<circle cx="402.90" cy="493.46" r="1.25" fill="#5580b0"/>
<line x1="402.90" y1="487.08" x2="402.90" y2="494.52" stroke="#111" stroke-width="1.0" />
<line x1="400.60" y1="487.08" x2="405.20" y2="487.08" stroke="#111" stroke-width="1.0" />
<line x1="400.60" y1="494.52" x2="405.20" y2="494.52" stroke="#111" stroke-width="1.0" />
<line x1="397.90" y1="490.91" x2="407.90" y2="490.91" stroke="#111" stroke-width="1.3" />
<circle cx="432.30" cy="460.91" r="1.0" fill="#cc1236"/>
<circle cx="432.30" cy="465.80" r="1.0" fill="#cc1236"/>
<circle cx="432.30" cy="470.06" r="1.0" fill="#cc1236"/>
<circle cx="432.30" cy="474.31" r="1.0" fill="#cc1236"/>
<circle cx="432.30" cy="477.50" r="1.0" fill="#cc1236"/>
<circle cx="432.30" cy="516.86" r="1.0" fill="#cc1236"/>
<circle cx="432.30" cy="513.67" r="1.0" fill="#cc1236"/>
<circle cx="432.30" cy="510.48" r="1.0" fill="#cc1236"/>
<circle cx="432.30" cy="485.44" r="1.0" fill="#cc1236"/>
<circle cx="435.60" cy="485.25" r="1.0" fill="#cc1236"/>
<circle cx="432.30" cy="506.80" r="1.0" fill="#cc1236"/>
<circle cx="434.50" cy="507.80" r="1.0" fill="#cc1236"/>
<circle cx="432.30" cy="492.12" r="1.0" fill="#cc1236"/>
<circle cx="430.10" cy="487.13" r="1.0" fill="#cc1236"/>
<circle cx="432.30" cy="500.28" r="1.0" fill="#cc1236"/>
<circle cx="429.00" cy="485.07" r="1.0" fill="#cc1236"/>
<circle cx="430.10" cy="505.75" r="1.0" fill="#cc1236"/>
<circle cx="433.28" cy="484.04" r="1.0" fill="#cc1236"/>
<circle cx="434.23" cy="484.18" r="1.0" fill="#cc1236"/>
<circle cx="432.30" cy="503.97" r="1.0" fill="#cc1236"/>
<circle cx="434.66" cy="485.99" r="1.0" fill="#cc1236"/>
<circle cx="432.30" cy="496.29" r="1.0" fill="#cc1236"/>
<circle cx="434.50" cy="501.88" r="1.0" fill="#cc1236"/>
<circle cx="435.84" cy="506.83" r="1.0" fill="#cc1236"/>
<circle cx="434.22" cy="506.40" r="1.0" fill="#cc1236"/>
<circle cx="434.50" cy="493.94" r="1.0" fill="#cc1236"/>
<circle cx="432.30" cy="489.39" r="1.0" fill="#cc1236"/>
<circle cx="435.68" cy="487.56" r="1.0" fill="#cc1236"/>
<circle cx="435.60" cy="496.57" r="1.0" fill="#cc1236"/>
<circle cx="428.53" cy="507.73" r="1.0" fill="#cc1236"/>
<circle cx="432.02" cy="488.18" r="1.0" fill="#cc1236"/>
<circle cx="435.85" cy="504.75" r="1.0" fill="#cc1236"/>
<circle cx="429.00" cy="495.64" r="1.0" fill="#cc1236"/>
<circle cx="433.49" cy="483.10" r="1.0" fill="#cc1236"/>
<circle cx="435.51" cy="506.76" r="1.0" fill="#cc1236"/>
<circle cx="430.10" cy="493.50" r="1.0" fill="#cc1236"/>
<circle cx="429.21" cy="508.22" r="1.0" fill="#cc1236"/>
<circle cx="432.05" cy="495.26" r="1.0" fill="#cc1236"/>
<circle cx="435.60" cy="491.89" r="1.0" fill="#cc1236"/>
<circle cx="430.27" cy="506.17" r="1.0" fill="#cc1236"/>
<circle cx="432.65" cy="493.60" r="1.0" fill="#cc1236"/>
<circle cx="429.00" cy="489.52" r="1.0" fill="#cc1236"/>
<circle cx="432.89" cy="506.33" r="1.0" fill="#cc1236"/>
<circle cx="428.40" cy="485.37" r="1.0" fill="#cc1236"/>
<circle cx="430.10" cy="503.10" r="1.0" fill="#cc1236"/>
<circle cx="430.03" cy="484.54" r="1.0" fill="#cc1236"/>
<circle cx="430.54" cy="509.42" r="1.0" fill="#cc1236"/>
<circle cx="434.50" cy="478.57" r="1.0" fill="#cc1236"/>
<line x1="432.30" y1="482.82" x2="432.30" y2="489.20" stroke="#111" stroke-width="1.0" />
<line x1="430.00" y1="482.82" x2="434.60" y2="482.82" stroke="#111" stroke-width="1.0" />
<line x1="430.00" y1="489.20" x2="434.60" y2="489.20" stroke="#111" stroke-width="1.0" />
<line x1="427.30" y1="486.01" x2="437.30" y2="486.01" stroke="#111" stroke-width="1.3" />
<circle cx="446.50" cy="477.29" r="1.25" fill="#5580b0"/>
<circle cx="449.70" cy="478.57" r="1.25" fill="#5580b0"/>
<circle cx="441.70" cy="477.93" r="1.25" fill="#5580b0"/>
<circle cx="446.50" cy="484.95" r="1.25" fill="#5580b0"/>
<circle cx="446.50" cy="501.97" r="1.25" fill="#5580b0"/>
<circle cx="449.70" cy="504.10" r="1.25" fill="#5580b0"/>
<circle cx="446.50" cy="506.23" r="1.25" fill="#5580b0"/>
<circle cx="451.30" cy="507.29" r="1.25" fill="#5580b0"/>
<circle cx="441.70" cy="503.03" r="1.25" fill="#5580b0"/>
<circle cx="446.50" cy="511.97" r="1.25" fill="#5580b0"/>
<circle cx="446.50" cy="525.37" r="1.25" fill="#5580b0"/>
<circle cx="446.50" cy="493.46" r="1.25" fill="#5580b0"/>
<line x1="446.50" y1="487.08" x2="446.50" y2="494.52" stroke="#111" stroke-width="1.0" />
<line x1="444.20" y1="487.08" x2="448.80" y2="487.08" stroke="#111" stroke-width="1.0" />
<line x1="444.20" y1="494.52" x2="448.80" y2="494.52" stroke="#111" stroke-width="1.0" />
<line x1="441.50" y1="490.91" x2="451.50" y2="490.91" stroke="#111" stroke-width="1.3" />
<polyline points="389.00,449.50 389.00,445.80 401.50,445.80 401.50,449.50" fill="none" stroke="#333" stroke-width="0.9"/>
<text x="395.25" y="443.80" font-size="7.0" text-anchor="middle" fill="#333" stroke="#333" stroke-width="0.15" font-weight="normal" font-style="normal" >ns</text>
<polyline points="432.30,449.50 432.30,445.80 445.00,445.80 445.00,449.50" fill="none" stroke="#333" stroke-width="0.9"/>
<text x="438.65" y="443.80" font-size="7.0" text-anchor="middle" fill="#333" stroke="#333" stroke-width="0.15" font-weight="normal" font-style="normal" >ns</text>
<text x="0" y="0" font-size="7.3" fill="#1f1f1f" stroke="#1f1f1f" stroke-width="0.15" text-anchor="end" transform="translate(393.30,535.70) rotate(-45)">MUCOSITIS | nadir</text>
<text x="0" y="0" font-size="7.3" fill="#1f1f1f" stroke="#1f1f1f" stroke-width="0.15" text-anchor="end" transform="translate(407.20,535.70) rotate(-45)">NO MUCOSITIS | nadir</text>
<text x="0" y="0" font-size="7.3" fill="#1f1f1f" stroke="#1f1f1f" stroke-width="0.15" text-anchor="end" transform="translate(436.60,535.70) rotate(-45)">MUCOSITIS | recovery</text>
<text x="0" y="0" font-size="7.3" fill="#1f1f1f" stroke="#1f1f1f" stroke-width="0.15" text-anchor="end" transform="translate(450.80,535.70) rotate(-45)">NO MUCOSITIS | recovery</text>
<rect x="0.5" y="0.5" width="519" height="611" fill="none" stroke="#787878" stroke-width="1"/>

</svg>
</body></html>
